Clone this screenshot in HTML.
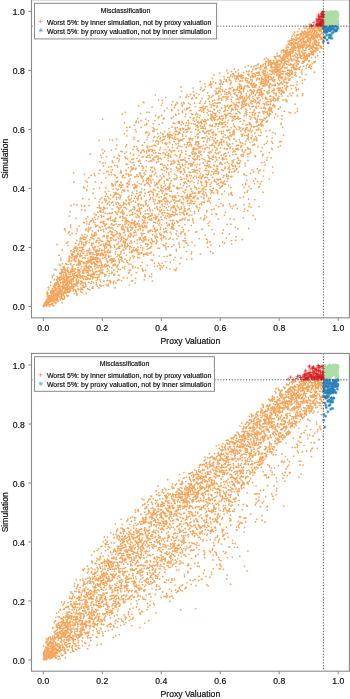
<!DOCTYPE html>
<html><head><meta charset="utf-8"><style>
html,body{margin:0;padding:0;background:#fff;width:350px;height:699px;overflow:hidden}
svg{display:block;will-change:transform}
.ax{font-family:"Liberation Sans",sans-serif;font-size:8.6px;fill:#111;stroke:#111;stroke-width:0.2px}
.lg{font-family:"Liberation Sans",sans-serif;font-size:7.0px;fill:#111;stroke:#111;stroke-width:0.18px}
</style></head><body>
<svg width="350" height="699" viewBox="0 0 350 699">
<path d="M145.4 211.2h0M60.1 272.8h0M165.4 185.2h0M213.6 132.3h0M133.4 258.0h0M109.2 273.6h0M186.1 122.8h0M60.4 288.5h0M172.2 223.0h0M73.5 276.3h0M177.9 221.6h0M304.4 60.7h0M209.5 153.1h0M55.8 283.3h0M147.0 252.9h0M195.5 159.2h0M310.5 29.0h0M129.8 127.2h0M313.7 36.2h0M268.5 63.9h0M120.5 172.6h0M209.4 221.8h0M93.9 238.9h0M292.4 40.3h0M239.1 163.7h0M80.8 281.0h0M307.9 56.9h0M183.9 247.2h0M222.3 127.0h0M150.0 219.8h0M112.5 232.4h0M221.3 139.4h0M239.3 81.1h0M56.9 296.8h0M107.8 196.3h0M223.7 142.0h0M102.4 149.7h0M191.4 253.9h0M284.3 111.2h0M75.4 290.0h0M142.0 262.4h0M106.0 247.8h0M101.1 254.9h0M57.8 277.6h0M193.0 163.8h0M289.8 74.4h0M105.0 208.2h0M225.9 114.5h0M273.0 132.5h0M317.5 44.7h0M182.6 112.4h0M64.7 287.2h0M70.6 227.1h0M50.7 299.9h0M158.5 200.7h0M167.2 256.4h0M279.6 76.0h0M170.1 187.2h0M260.3 183.9h0M294.3 68.5h0M103.7 231.6h0M295.3 74.4h0M148.5 231.1h0M194.3 171.4h0M183.0 231.5h0M179.7 247.2h0M181.8 152.3h0M198.3 193.1h0M299.5 29.1h0M239.1 129.5h0M210.6 83.6h0M167.5 225.5h0M220.6 89.1h0M250.9 76.4h0M65.8 290.2h0M232.8 148.6h0M186.7 186.9h0M274.6 81.6h0M202.4 185.5h0M297.5 95.9h0M181.1 171.7h0M46.3 306.0h0M209.6 101.8h0M268.7 115.4h0M52.9 297.3h0M227.1 144.2h0M133.5 154.4h0M72.1 233.3h0M71.5 282.8h0M250.0 116.4h0M107.3 251.4h0M234.8 116.6h0M84.5 174.4h0M196.8 93.0h0M196.7 189.2h0M95.4 235.3h0M247.7 91.3h0M178.2 134.1h0M139.6 210.8h0M282.2 58.7h0M124.8 190.6h0M269.8 79.4h0M276.5 62.9h0M273.8 104.3h0M252.3 114.9h0M173.8 229.0h0M151.5 218.7h0M155.8 231.8h0M208.4 172.6h0M297.2 35.6h0M183.7 132.0h0M70.1 283.0h0M204.0 188.5h0M270.0 111.1h0M110.7 195.1h0M90.3 260.3h0M188.5 142.2h0M233.9 91.0h0M132.8 209.0h0M167.9 155.4h0M181.2 196.7h0M201.0 146.4h0M121.6 206.5h0M73.1 279.4h0M79.2 262.8h0M84.7 237.3h0M319.8 29.5h0M52.9 300.3h0M253.6 85.3h0M253.0 106.0h0M271.4 67.0h0M44.1 305.8h0M74.2 252.1h0M207.6 92.6h0M313.5 53.3h0M164.3 170.8h0M194.8 176.1h0M245.3 144.0h0M118.9 209.3h0M240.6 85.0h0M191.8 258.9h0M263.0 125.7h0M124.7 266.4h0M198.5 141.9h0M140.2 237.9h0M200.0 102.9h0M179.3 157.5h0M51.3 291.0h0M171.3 201.3h0M243.1 128.3h0M258.1 89.9h0M264.6 74.8h0M268.3 65.4h0M66.2 285.3h0M58.3 278.5h0M135.0 230.4h0M234.3 126.2h0M84.4 276.3h0M212.9 253.2h0M176.0 143.8h0M270.0 101.7h0M306.2 68.1h0M187.6 129.2h0M225.0 167.2h0M180.3 128.9h0M239.5 102.5h0M247.4 124.5h0M175.1 131.3h0M86.6 228.9h0M135.9 224.3h0M269.3 152.6h0M47.1 302.4h0M191.6 98.6h0M62.7 299.2h0M243.1 106.7h0M66.9 292.2h0M141.4 252.8h0M51.7 294.6h0M227.0 181.3h0M54.8 285.6h0M248.0 78.5h0M192.4 151.7h0M191.2 189.0h0M136.2 176.6h0M198.7 209.8h0M159.5 202.8h0M119.4 248.2h0M293.9 44.5h0M267.5 92.6h0M69.3 216.1h0M127.8 231.2h0M238.0 163.3h0M238.3 117.0h0M202.5 202.0h0M214.6 100.0h0M284.2 59.6h0M92.4 269.1h0M150.7 247.4h0M47.9 294.9h0M138.3 225.8h0M217.1 179.0h0M275.4 62.8h0M93.2 243.0h0M305.7 60.4h0M218.0 173.8h0M304.9 34.6h0M220.1 110.3h0M241.4 97.6h0M194.4 95.8h0M164.6 157.3h0M103.5 229.5h0M80.1 255.7h0M171.6 214.6h0M252.4 85.9h0M148.2 150.0h0M198.4 146.5h0M140.3 195.1h0M190.1 142.5h0M227.9 73.0h0M192.9 149.0h0M216.9 148.8h0M48.5 299.3h0M91.9 259.5h0M76.9 204.9h0M257.8 77.9h0M147.4 244.0h0M73.3 259.7h0M112.3 184.2h0M88.9 252.3h0M120.2 257.2h0M320.5 36.5h0M276.7 75.2h0M247.5 147.8h0M203.8 194.1h0M236.5 89.4h0M277.5 99.3h0M269.5 114.6h0M262.1 77.0h0M127.1 130.6h0M312.9 52.1h0M175.3 214.4h0M291.1 95.7h0M140.4 214.0h0M297.3 95.0h0M296.1 38.0h0M63.6 293.5h0M115.8 218.4h0M224.0 175.3h0M94.0 249.5h0M239.2 102.1h0M44.6 304.3h0M216.2 123.7h0M189.7 198.5h0M287.8 86.3h0M62.6 281.3h0M244.6 97.7h0M292.5 43.4h0M253.9 73.4h0M233.7 89.3h0M272.5 90.5h0M257.3 91.0h0M207.8 247.1h0M67.5 271.1h0M44.6 303.7h0M120.0 185.5h0M260.6 90.8h0M274.8 71.8h0M177.9 161.2h0M292.7 49.2h0M206.9 106.5h0M282.8 83.7h0M82.3 277.4h0M109.0 275.8h0M193.3 147.8h0M91.8 243.3h0M287.9 96.2h0M273.7 60.7h0M296.3 62.1h0M254.6 138.8h0M185.4 181.8h0M97.3 262.7h0M114.8 247.0h0M230.6 94.8h0M65.7 292.0h0M190.2 104.3h0M308.6 31.7h0M50.1 300.7h0M294.3 68.8h0M118.5 241.9h0M313.2 34.1h0M263.9 120.0h0M129.4 204.7h0M283.0 71.1h0M240.9 93.0h0M106.7 224.0h0M50.9 304.4h0M136.1 250.2h0M103.4 285.5h0M75.8 272.3h0M144.1 240.4h0M309.6 43.8h0M99.5 261.4h0M319.9 37.1h0M106.4 200.2h0M43.7 306.0h0M295.2 60.2h0M116.7 182.4h0M250.8 100.6h0M62.8 283.8h0M227.6 122.7h0M316.0 49.3h0M273.0 63.4h0M78.6 245.1h0M51.0 295.6h0M228.5 113.3h0M301.5 46.9h0M91.2 220.6h0M125.4 220.1h0M68.9 276.8h0M171.9 228.2h0M119.8 184.7h0M208.4 198.0h0M166.7 152.0h0M309.8 43.7h0M56.2 298.0h0M103.1 153.2h0M169.6 255.4h0M290.7 74.7h0M128.6 224.6h0M204.5 126.2h0M49.3 306.3h0M101.1 208.4h0M288.4 61.3h0M204.5 165.3h0M267.7 93.4h0M148.4 240.5h0M103.7 207.2h0M153.7 222.2h0M148.0 231.0h0M184.1 178.6h0M151.7 274.0h0M294.5 55.1h0M197.5 207.5h0M162.6 122.8h0M316.7 45.1h0M302.1 69.7h0M168.8 206.6h0M109.0 174.6h0M92.7 236.2h0M232.3 208.3h0M319.0 27.8h0M75.1 275.8h0M143.3 176.5h0M289.9 59.7h0M106.3 258.8h0M85.1 268.3h0M201.3 87.7h0M268.6 80.4h0M89.0 199.4h0M103.4 254.4h0M218.9 88.0h0M273.7 92.8h0M136.4 249.0h0M163.6 152.6h0M286.9 56.0h0M137.4 223.4h0M292.2 49.4h0M55.4 293.9h0M243.4 101.5h0M88.6 227.7h0M56.6 293.0h0M296.2 76.1h0M120.0 198.7h0M81.9 255.8h0M275.1 93.4h0M289.1 65.2h0M128.9 196.2h0M270.7 63.3h0M309.1 41.5h0M312.0 54.5h0M176.7 221.0h0M140.1 229.3h0M252.1 73.5h0M322.9 27.5h0M122.9 267.4h0M55.3 283.0h0M201.1 196.9h0M311.5 37.2h0M114.1 281.3h0M240.0 118.5h0M184.6 183.2h0M267.3 111.8h0M124.9 224.4h0M89.3 242.3h0M313.1 53.7h0M173.2 212.0h0M261.8 77.4h0M209.9 189.3h0M54.2 287.3h0M68.9 232.6h0M258.0 75.6h0M322.6 29.4h0M189.1 215.5h0M295.1 55.5h0M126.0 170.8h0M271.8 74.3h0M82.7 249.4h0M298.4 89.2h0M186.2 147.2h0M293.4 67.2h0M256.1 68.6h0M143.5 156.5h0M182.1 219.8h0M226.9 176.7h0M60.5 286.6h0M169.4 138.8h0M256.6 79.0h0M61.8 277.1h0M98.6 277.2h0M264.0 82.7h0M104.5 265.0h0M290.9 40.5h0M244.9 163.6h0M194.0 149.5h0M155.9 157.2h0M113.9 264.8h0M264.9 73.7h0M132.3 251.9h0M252.2 135.8h0M73.9 264.6h0M243.9 152.2h0M100.4 281.5h0M127.0 164.4h0M249.9 142.3h0M65.3 284.8h0M127.0 127.4h0M50.3 296.1h0M126.0 200.0h0M283.3 73.3h0M109.3 213.0h0M84.6 205.7h0M226.3 155.8h0M300.9 33.5h0M194.6 103.1h0M112.1 238.4h0M151.6 243.7h0M89.4 260.1h0M56.1 284.2h0M269.3 92.4h0M168.4 224.6h0M219.8 73.0h0M149.2 219.4h0M147.9 255.1h0M47.0 299.6h0M73.6 290.3h0M193.7 198.3h0M286.5 85.9h0M274.9 105.9h0M265.9 130.9h0M244.4 102.4h0M128.8 176.0h0M275.6 56.7h0M86.1 276.8h0M73.8 277.5h0M189.8 196.4h0M301.8 72.1h0M168.7 153.9h0M105.2 266.5h0M78.0 252.0h0M95.2 257.9h0M306.7 47.4h0M234.2 93.3h0M228.2 96.6h0M171.7 109.7h0M46.1 305.0h0M274.5 106.6h0M272.9 99.8h0M75.6 248.7h0M227.6 126.5h0M177.7 134.3h0M171.9 226.6h0M241.4 94.2h0M167.8 201.0h0M68.3 272.6h0M51.9 297.1h0M269.0 64.0h0M148.8 248.3h0M215.5 157.4h0M223.2 206.1h0M94.5 273.7h0M94.2 259.1h0M272.0 85.4h0M109.5 241.5h0M265.8 84.5h0M70.5 289.0h0M51.3 293.0h0M266.4 76.6h0M65.3 292.7h0M282.9 99.9h0M163.1 165.1h0M189.3 186.2h0M245.8 184.5h0M85.7 265.8h0M294.1 67.2h0M251.9 169.8h0M280.6 72.1h0M278.8 87.8h0M277.1 70.2h0M155.5 115.7h0M61.7 286.7h0M107.7 237.8h0M240.7 127.8h0M46.5 300.6h0M321.4 31.7h0M129.9 246.8h0M288.9 70.1h0M310.4 64.5h0M306.9 57.5h0M295.4 40.6h0M86.9 241.1h0M135.8 227.1h0M236.8 118.6h0M272.0 62.8h0M115.9 192.7h0M74.2 286.4h0M199.4 193.1h0M130.1 227.2h0M98.6 230.2h0M109.9 230.9h0M123.3 232.8h0M150.6 169.9h0M51.1 292.6h0M217.7 171.6h0M310.9 37.8h0M304.0 38.9h0M106.0 243.0h0M214.6 120.2h0M204.3 124.8h0M129.3 184.0h0M280.3 145.7h0M245.0 86.0h0M193.1 88.0h0M221.4 133.3h0M158.4 161.6h0M171.0 169.0h0M293.3 34.0h0M123.0 216.0h0M283.2 91.1h0M53.5 292.5h0M190.4 172.5h0M188.7 128.5h0M159.7 223.0h0M98.6 242.9h0M134.9 208.8h0M267.1 84.7h0M96.8 240.4h0M179.5 171.5h0M130.8 241.4h0M218.0 99.8h0M103.0 236.5h0M96.6 255.7h0M76.5 280.8h0M237.5 157.9h0M230.9 176.4h0M121.8 192.1h0M232.8 108.8h0M58.8 287.6h0M180.6 154.4h0M162.2 263.2h0M45.4 303.5h0M103.2 211.9h0M242.8 134.2h0M124.8 177.5h0M45.0 305.4h0M240.9 131.2h0M247.8 210.7h0M102.8 270.0h0M206.8 196.0h0M212.7 143.8h0M298.8 48.3h0M244.1 211.3h0M178.1 160.2h0M211.8 119.4h0M144.1 239.2h0M173.6 225.2h0M314.9 27.5h0M119.5 261.5h0M213.9 192.8h0M152.7 130.8h0M321.2 30.1h0M135.4 129.6h0M122.1 177.0h0M65.9 270.5h0M246.1 125.0h0M81.3 241.1h0M255.0 102.2h0M144.1 172.9h0M315.5 51.6h0M241.3 86.5h0M305.1 37.4h0M286.7 45.6h0M188.9 158.6h0M137.3 243.3h0M58.0 288.3h0M125.8 226.8h0M270.1 61.7h0M255.5 68.8h0M102.4 250.7h0M237.8 109.3h0M94.1 213.6h0M289.6 44.9h0M289.7 93.8h0M232.5 76.7h0M251.4 93.9h0M218.5 123.8h0M296.4 90.8h0M276.6 67.0h0M202.0 189.9h0M300.3 33.4h0M59.8 285.9h0M69.1 281.9h0M303.1 53.9h0M269.9 84.6h0M139.4 208.2h0M164.2 139.2h0M128.7 221.8h0M57.0 280.2h0M67.7 288.6h0M147.3 210.0h0M210.0 151.5h0M99.6 207.3h0M67.8 291.7h0M290.2 64.9h0M128.0 190.7h0M171.0 161.1h0M111.7 267.7h0M55.7 287.6h0M147.6 206.2h0M72.7 268.8h0M302.4 83.1h0M145.3 217.2h0M73.7 284.0h0M172.3 214.9h0M182.4 110.9h0M161.9 219.6h0M101.8 216.4h0M249.1 131.0h0M299.0 50.3h0M174.4 162.1h0M200.0 115.6h0M234.9 107.3h0M113.9 235.3h0M76.2 280.1h0M303.6 66.2h0M297.8 47.0h0M69.4 231.5h0M317.0 32.6h0M89.4 248.6h0M314.3 43.2h0M272.3 63.5h0M104.6 151.0h0M277.7 63.1h0M273.5 85.0h0M312.2 63.7h0M65.7 272.3h0M253.0 69.8h0M105.6 187.9h0M185.1 190.2h0M153.6 225.6h0M215.3 161.5h0M83.7 271.6h0M153.4 123.8h0M127.9 182.8h0M91.0 274.7h0M67.0 295.2h0M290.9 42.7h0M302.2 51.2h0M254.2 110.1h0M245.4 109.2h0M95.1 247.0h0M239.9 91.7h0M284.2 85.8h0M170.7 254.5h0M115.3 254.0h0M153.2 194.4h0M294.6 32.5h0M83.4 253.3h0M56.7 295.5h0M322.2 28.1h0M195.7 232.0h0M45.2 304.0h0M152.8 149.9h0M179.1 225.7h0M110.3 199.3h0M273.3 100.4h0M47.7 303.6h0M195.2 152.3h0M178.2 143.6h0M101.9 221.5h0M237.6 87.5h0M49.2 296.5h0M63.2 267.2h0M74.4 273.5h0M244.3 88.2h0M238.5 79.1h0M305.5 41.4h0M255.9 87.1h0M154.1 145.2h0M186.0 151.4h0M241.1 154.8h0M75.7 291.1h0M310.4 54.6h0M195.6 195.7h0M97.9 240.6h0M299.2 54.0h0M58.9 292.2h0M205.7 106.9h0M97.0 267.4h0M108.0 244.8h0M63.9 288.5h0M178.7 113.7h0M84.1 269.9h0M78.1 272.2h0M191.7 152.5h0M203.7 112.2h0M252.2 112.6h0M236.2 104.8h0M115.2 211.5h0M193.8 161.9h0M290.7 58.0h0M234.8 90.2h0M141.6 188.8h0M111.8 273.5h0M92.1 236.1h0M279.7 141.5h0M177.1 177.5h0M107.9 261.6h0M59.4 293.4h0M299.5 52.0h0M151.1 149.5h0M300.8 45.5h0M207.5 130.9h0M226.0 96.7h0M128.3 203.0h0M75.1 272.6h0M163.2 190.9h0M266.2 97.8h0M139.2 238.0h0M208.9 200.1h0M113.5 235.9h0M114.1 192.5h0M66.8 274.1h0M247.4 154.2h0M267.9 92.1h0M203.4 141.7h0M176.3 210.5h0M261.4 90.4h0M124.4 153.5h0M243.5 77.5h0M304.4 33.3h0M314.3 72.0h0M187.2 94.6h0M302.1 38.1h0M70.1 211.5h0M245.1 150.5h0M281.9 96.0h0M76.3 233.6h0M314.7 72.3h0M54.8 294.8h0M155.7 230.7h0M199.2 110.6h0M122.2 246.0h0M86.7 189.7h0M230.8 224.2h0M227.8 136.8h0M182.1 122.2h0M310.9 40.6h0M111.9 234.1h0M148.2 244.7h0M278.3 90.6h0M145.9 170.7h0M93.7 235.5h0M83.1 285.2h0M122.6 220.5h0M290.7 64.4h0M245.7 80.3h0M137.9 141.2h0M244.6 174.9h0M87.8 275.0h0M65.1 270.8h0M241.0 88.6h0M156.0 173.4h0M206.4 185.3h0M280.5 63.8h0M259.1 68.0h0M75.6 291.6h0M69.8 276.8h0M105.0 251.5h0M75.0 277.8h0M176.4 131.1h0M163.4 237.7h0M105.2 252.2h0M70.8 251.3h0M150.8 253.0h0M275.7 113.8h0M234.5 132.7h0M70.3 289.4h0M141.3 197.7h0M43.4 306.4h0M283.8 64.0h0M213.1 95.7h0M225.0 163.1h0M225.6 184.2h0M84.9 234.8h0M277.9 88.4h0M284.5 51.4h0M67.3 269.4h0M203.8 219.9h0M276.0 93.5h0M169.9 191.2h0M177.8 222.4h0M221.3 116.0h0M276.9 67.8h0M137.0 158.2h0M279.3 84.6h0M300.1 48.6h0M252.3 91.2h0M231.3 127.7h0M137.4 224.1h0M104.5 246.5h0M62.4 250.2h0M63.8 295.5h0M299.3 51.8h0M166.8 168.9h0M126.7 183.8h0M207.2 243.2h0M167.2 135.0h0M59.5 296.6h0M284.0 92.0h0M43.3 306.4h0M183.3 213.0h0M64.8 270.4h0M58.0 301.1h0M206.2 165.5h0M183.3 123.6h0M141.5 225.4h0M223.0 205.2h0M134.4 209.6h0M180.5 184.1h0M251.1 188.6h0M303.4 38.4h0M234.3 134.6h0M159.6 265.1h0M128.5 273.1h0M307.7 32.6h0M256.7 103.4h0M297.0 57.2h0M252.4 73.9h0M156.9 206.8h0M105.3 196.1h0M309.4 45.8h0M212.1 120.6h0M225.4 109.8h0M132.9 266.2h0M146.3 131.9h0M266.9 99.1h0M242.5 96.3h0M229.7 139.8h0M168.3 246.6h0M76.7 282.2h0M122.0 244.9h0M232.0 176.3h0M50.8 296.6h0M132.6 251.5h0M206.9 136.0h0M145.5 222.8h0M317.5 35.7h0M281.7 89.5h0M283.5 92.9h0M212.6 177.4h0M313.0 29.8h0M104.6 257.6h0M132.1 220.1h0M202.3 193.5h0M261.6 125.9h0M301.3 42.5h0M274.0 80.9h0M166.6 267.7h0M232.0 97.1h0M189.2 171.9h0M188.4 181.4h0M65.1 276.4h0M230.1 148.0h0M196.0 142.9h0M309.1 37.8h0M207.9 138.3h0M163.0 244.5h0M198.7 143.9h0M96.9 271.7h0M135.5 202.2h0M106.7 156.5h0M163.3 118.9h0M180.4 139.6h0M169.7 269.0h0M64.1 288.9h0M70.9 270.3h0M160.5 210.6h0M311.4 68.7h0M96.7 250.7h0M90.9 276.6h0M158.8 263.4h0M256.2 129.9h0M170.3 262.4h0M47.1 300.2h0M206.2 174.1h0M185.1 164.7h0M319.5 30.5h0M171.7 135.2h0M222.5 90.0h0M129.7 259.9h0M276.2 94.9h0M245.7 132.1h0M318.7 30.1h0M72.8 271.3h0M108.2 227.9h0M151.2 176.5h0M298.0 42.4h0M90.4 237.3h0M263.0 154.2h0M275.3 133.7h0M262.2 88.3h0M237.1 95.1h0M223.5 131.2h0M60.9 277.0h0M217.1 140.6h0M264.4 90.5h0M316.8 41.3h0M257.7 181.7h0M232.1 116.9h0M253.4 100.5h0M48.1 304.3h0M126.1 164.0h0M67.3 287.7h0M59.1 277.8h0M107.5 262.5h0M287.8 86.7h0M104.1 249.9h0M289.1 112.0h0M91.5 244.7h0M112.2 169.9h0M290.8 56.3h0M92.5 230.9h0M302.9 37.0h0M136.7 217.6h0M62.4 269.3h0M250.1 123.1h0M62.4 297.7h0M51.8 296.5h0M313.9 47.3h0M50.6 301.6h0M140.8 153.1h0M287.9 82.6h0M282.2 71.2h0M210.8 167.3h0M281.4 82.2h0M227.1 106.3h0M191.4 146.0h0M124.5 230.5h0M242.3 239.5h0M186.5 147.4h0M214.2 234.1h0M266.6 68.3h0M59.9 284.5h0M110.8 247.7h0M185.5 116.5h0M93.8 248.9h0M217.2 105.9h0M80.5 264.2h0M138.6 150.7h0M303.3 39.9h0M161.8 213.6h0M278.1 147.1h0M51.2 291.0h0M289.5 51.8h0M205.4 148.1h0M145.5 253.8h0M192.5 98.4h0M112.3 161.0h0M235.3 227.0h0M310.6 51.1h0M251.0 207.2h0M268.8 62.1h0M228.8 176.4h0M232.7 134.8h0M131.6 275.0h0M47.0 296.0h0M50.8 282.1h0M173.1 150.9h0M184.7 171.8h0M55.2 294.3h0M74.0 289.3h0M89.1 205.5h0M186.3 198.5h0M74.9 256.5h0M317.4 48.0h0M180.3 154.9h0M314.8 40.9h0M299.9 77.1h0M203.9 159.6h0M204.9 83.7h0M52.2 277.5h0M158.6 136.3h0M71.3 281.1h0M221.4 141.8h0M167.7 210.2h0M221.8 141.0h0M256.1 126.6h0M190.7 164.5h0M182.4 227.5h0M78.3 264.9h0M189.1 155.8h0M116.4 194.2h0M237.8 75.6h0M100.7 260.8h0M143.9 102.6h0M131.4 169.8h0M178.6 150.8h0M144.7 125.0h0M114.9 230.4h0M156.3 230.4h0M233.9 159.8h0M185.0 158.0h0M180.9 219.9h0M263.7 73.6h0M113.6 205.0h0M127.4 238.5h0M81.7 255.8h0M236.5 149.1h0M100.9 212.0h0M68.6 286.2h0M61.8 278.4h0M222.3 120.0h0M286.1 56.7h0M142.7 230.6h0M221.0 82.8h0M235.7 166.8h0M45.9 302.3h0M311.1 34.4h0M152.6 234.5h0M140.6 113.6h0M96.4 226.1h0M202.6 188.8h0M215.1 126.6h0M316.4 33.9h0M139.8 210.9h0M157.5 137.9h0M215.1 134.0h0M168.6 154.1h0M58.5 288.8h0M131.7 252.3h0M183.6 213.1h0M224.1 96.8h0M239.4 90.3h0M165.9 154.7h0M126.3 223.6h0M122.1 228.3h0M187.7 203.3h0M217.4 140.8h0M247.1 127.5h0M211.1 116.1h0M294.4 75.0h0M76.0 218.3h0M194.9 160.0h0M146.5 160.6h0M219.6 164.2h0M120.8 170.6h0M163.4 235.6h0M56.6 279.8h0M181.7 179.1h0M317.6 55.6h0M204.2 187.0h0M50.1 300.4h0M237.3 77.4h0M186.4 176.0h0M139.2 223.9h0M173.8 163.4h0M154.6 136.5h0M149.4 207.9h0M154.4 266.6h0M203.2 188.7h0M210.6 118.5h0M68.5 233.1h0M245.4 166.0h0M313.6 52.2h0M282.8 50.5h0M158.1 144.2h0M52.5 291.8h0M183.0 240.5h0M170.5 155.5h0M299.7 67.6h0M288.2 44.1h0M137.9 246.9h0M211.5 105.1h0M249.1 87.1h0M239.5 166.7h0M156.6 162.1h0M186.3 179.0h0M237.1 96.0h0M219.4 84.1h0M160.0 138.7h0M47.4 300.3h0M98.4 216.5h0M73.9 182.2h0M146.2 200.6h0M133.3 249.8h0M279.6 84.2h0M194.9 245.5h0M234.7 76.8h0M156.0 146.1h0M284.8 55.3h0M206.5 194.7h0M83.2 282.9h0M144.8 274.9h0M174.3 197.4h0M129.2 270.1h0M317.9 26.7h0M62.0 289.8h0M250.1 130.4h0M259.8 92.5h0M245.8 183.0h0M246.8 127.9h0M108.3 250.2h0M301.9 31.2h0M290.9 85.5h0M112.6 212.7h0M263.4 86.2h0M59.6 280.6h0M179.8 212.3h0M112.5 201.8h0M225.2 124.8h0M149.0 151.2h0M89.6 222.1h0M143.1 181.6h0M213.2 133.0h0M140.0 226.4h0M112.6 234.8h0M314.8 47.9h0M286.8 64.3h0M141.9 253.4h0M175.5 195.8h0M284.4 71.5h0M144.9 174.7h0M156.7 162.5h0M232.9 152.1h0M280.4 77.6h0M294.3 35.4h0M209.0 157.5h0M267.0 77.3h0M56.5 289.2h0M187.9 125.4h0M129.5 211.0h0M319.2 27.0h0M93.4 282.6h0M247.0 86.6h0M190.8 188.6h0M68.0 264.5h0M285.0 71.0h0M118.2 189.1h0M128.8 184.5h0M137.6 181.8h0M253.2 92.6h0M249.4 148.8h0M283.9 65.3h0M175.0 105.6h0M232.7 148.9h0M268.8 82.5h0M293.7 68.7h0M200.1 107.4h0M277.9 69.6h0M78.0 271.4h0M258.5 112.6h0M66.5 285.0h0M161.4 238.1h0M254.4 83.4h0M107.9 265.6h0M107.8 285.8h0M67.9 245.6h0M179.4 123.2h0M89.9 250.1h0M136.9 251.7h0M240.4 95.9h0M186.6 214.4h0M98.0 238.1h0M262.8 111.9h0M160.3 158.2h0M192.0 165.8h0M145.2 226.6h0M216.4 153.8h0M177.6 187.3h0M173.4 123.0h0M72.7 285.8h0M192.7 114.6h0M92.3 278.2h0M207.2 112.8h0M125.7 248.8h0M69.7 260.1h0M290.5 112.9h0M262.0 125.6h0M299.1 44.6h0M256.0 65.7h0M262.8 98.0h0M211.9 171.7h0M99.3 250.6h0M258.2 89.0h0M259.2 103.6h0M155.1 190.3h0M74.4 248.2h0M174.1 186.1h0M152.7 171.2h0M218.7 179.3h0M61.7 294.4h0M106.9 265.0h0M100.5 267.7h0M62.3 285.8h0M185.7 240.6h0M291.2 59.0h0M78.5 270.1h0M61.7 273.2h0M248.9 74.2h0M290.1 78.7h0M231.7 114.0h0M67.7 280.0h0M108.6 241.0h0M177.9 222.4h0M196.3 167.0h0M205.3 128.9h0M314.4 62.4h0M110.1 252.6h0M63.5 276.4h0M152.1 107.0h0M177.3 205.5h0M115.9 203.0h0M246.3 93.6h0M62.0 282.9h0M161.7 240.1h0M98.2 261.9h0M299.7 44.0h0M72.9 256.0h0M85.2 239.6h0M216.3 189.8h0M165.7 215.9h0M171.1 216.6h0M259.4 73.8h0M120.7 205.3h0M58.6 295.0h0M130.5 153.3h0M319.5 34.9h0M199.1 238.7h0M69.0 257.9h0M107.9 203.5h0M162.0 213.2h0M55.0 301.1h0M178.9 242.7h0M284.3 50.7h0M292.2 51.3h0M71.8 268.0h0M225.4 156.6h0M259.6 102.4h0M193.3 120.3h0M281.9 78.3h0M71.3 276.7h0M215.2 138.4h0M90.0 278.5h0M151.2 182.8h0M45.6 304.0h0M125.6 220.8h0M304.6 45.8h0M304.5 52.7h0M213.5 117.4h0M285.1 50.8h0M266.3 57.9h0M75.8 246.9h0M171.1 180.7h0M268.4 76.7h0M238.1 70.0h0M125.0 244.3h0M143.9 254.2h0M179.9 156.4h0M117.8 226.4h0M314.0 41.0h0M89.1 269.3h0M73.8 204.1h0M117.4 233.0h0M198.1 126.9h0M204.3 89.7h0M177.7 189.1h0M113.7 239.9h0M82.4 258.0h0M303.6 41.8h0M72.2 253.4h0M164.8 165.3h0M275.1 84.1h0M59.0 286.8h0M315.2 31.2h0M231.6 105.0h0M82.2 277.2h0M146.2 157.2h0M119.7 156.1h0M163.0 134.2h0M162.6 188.3h0M271.6 66.9h0M45.7 304.6h0M91.0 227.6h0M260.8 65.6h0M200.4 151.9h0M274.1 67.3h0M263.3 103.4h0M315.7 37.4h0M265.0 107.8h0M166.6 218.6h0M75.4 257.5h0M199.9 175.9h0M302.0 74.2h0M241.9 156.3h0M60.1 293.9h0M154.5 129.3h0M223.0 96.7h0M53.6 305.9h0M235.8 109.5h0M311.4 46.9h0M238.6 73.2h0M309.3 60.7h0M192.0 242.1h0M319.2 27.4h0M113.0 220.2h0M273.2 73.0h0M80.1 255.1h0M142.6 204.8h0M174.0 138.9h0M268.7 61.0h0M305.0 33.3h0M133.9 247.8h0M223.9 141.0h0M194.7 121.3h0M137.8 215.6h0M76.3 247.1h0M209.2 84.8h0M308.3 35.9h0M79.9 272.0h0M308.1 37.9h0M251.2 66.5h0M81.9 251.1h0M142.9 247.9h0M60.7 258.0h0M262.7 111.3h0M271.5 77.3h0M176.8 268.0h0M182.8 218.4h0M205.5 181.7h0M210.4 251.6h0M315.8 40.3h0M46.2 304.9h0M300.6 41.0h0M175.9 201.4h0M87.2 182.3h0M205.5 161.0h0M214.7 145.9h0M279.1 75.2h0M62.1 302.7h0M130.4 236.0h0M144.4 142.3h0M236.7 169.7h0M143.6 222.3h0M312.8 52.4h0M50.2 300.8h0M143.0 230.1h0M278.5 67.4h0M260.5 67.2h0M232.5 143.5h0M229.9 106.4h0M287.0 49.8h0M201.4 178.4h0M320.3 47.7h0M154.3 229.0h0M45.8 303.6h0M56.8 294.2h0M65.6 281.2h0M76.2 284.7h0M161.0 189.3h0M275.0 100.8h0M92.1 246.1h0M308.0 44.5h0M255.3 219.1h0M60.8 291.9h0M209.8 104.1h0M148.9 178.2h0M101.9 197.9h0M140.7 247.6h0M184.9 233.4h0M168.2 189.4h0M187.8 200.4h0M171.5 152.0h0M261.3 124.4h0M125.3 239.4h0M221.6 100.1h0M129.0 264.0h0M219.9 151.9h0M261.7 79.3h0M87.7 275.3h0M287.3 64.6h0M189.4 203.1h0M143.4 168.2h0M307.5 64.2h0M321.4 46.7h0M43.6 306.1h0M67.4 290.4h0M255.4 178.6h0M192.3 165.4h0M104.4 199.9h0M172.6 224.6h0M45.8 301.7h0M316.4 42.2h0M277.1 62.6h0M83.6 287.2h0M177.4 148.2h0M88.0 230.8h0M63.3 279.2h0M44.0 305.7h0M123.0 218.2h0M310.1 35.0h0M211.4 87.3h0M48.3 304.7h0M132.8 185.1h0M118.9 160.9h0M306.6 34.8h0M267.0 92.2h0M115.5 265.2h0M270.4 103.9h0M101.7 253.2h0M152.1 151.4h0M53.1 293.5h0M114.2 258.9h0M228.9 137.4h0M211.1 190.5h0M141.3 152.2h0M317.5 28.3h0M77.0 228.7h0M94.2 254.6h0M51.4 300.5h0M220.7 118.8h0M133.6 168.6h0M285.4 51.1h0M93.9 274.5h0M57.5 284.1h0M160.1 207.1h0M87.4 250.9h0M196.1 141.6h0M159.2 180.2h0M262.6 79.1h0M177.5 214.6h0M258.9 206.6h0M130.2 178.9h0M135.1 283.1h0M279.5 69.2h0M109.5 252.0h0M111.6 260.7h0M170.5 209.8h0M264.2 162.3h0M79.5 256.2h0M209.3 201.1h0M264.6 68.4h0M237.8 88.5h0M165.5 142.8h0M59.3 264.3h0M181.6 203.4h0M300.3 36.1h0M317.3 37.6h0M102.2 265.5h0M292.1 71.3h0M296.7 66.0h0M68.8 286.4h0M303.7 62.4h0M207.1 142.2h0M278.7 98.3h0M250.0 90.2h0M117.2 271.5h0M118.0 211.9h0M218.3 219.2h0M225.6 106.0h0M77.7 248.6h0M238.9 99.5h0M207.0 210.5h0M131.0 264.3h0M282.7 66.9h0M300.9 35.9h0M194.6 186.3h0M143.8 168.1h0M100.0 161.5h0M190.3 142.4h0M266.8 104.7h0M152.0 155.1h0M50.5 295.7h0M275.6 72.4h0M267.3 82.6h0M71.1 205.7h0M180.7 130.1h0M230.4 147.0h0M269.0 60.8h0M217.6 103.3h0M261.6 82.4h0M255.7 106.8h0M57.6 281.6h0M55.5 298.3h0M273.5 104.7h0M291.4 72.7h0M203.9 137.7h0M240.4 98.4h0M94.3 258.3h0M80.7 261.1h0M163.5 245.7h0M263.5 108.0h0M214.0 74.9h0M118.1 237.7h0M124.0 191.0h0M190.6 178.0h0M64.2 289.2h0M278.9 72.5h0M210.5 193.3h0M127.6 187.2h0M181.1 202.0h0M103.9 221.4h0M133.0 159.4h0M309.5 38.7h0M133.1 149.3h0M143.2 271.1h0M177.3 127.7h0M107.7 280.5h0M260.8 69.2h0M185.2 235.0h0M202.2 176.9h0M262.5 94.4h0M125.5 243.6h0M254.9 86.2h0M228.4 137.8h0M261.7 78.9h0M44.0 305.3h0M305.6 59.9h0M72.5 287.1h0M113.8 195.7h0M48.6 297.8h0M134.6 209.2h0M173.3 185.7h0M132.4 228.6h0M315.1 40.2h0M90.0 239.9h0M167.3 193.8h0M202.3 137.6h0M54.6 293.1h0M304.2 28.3h0M258.9 97.7h0M168.7 186.9h0M121.2 238.3h0M79.4 270.5h0M203.0 110.0h0M233.0 168.7h0M55.7 295.9h0M80.5 277.8h0M226.9 81.4h0M206.4 182.9h0M270.3 99.0h0M300.7 33.7h0M46.0 302.2h0M158.7 219.3h0M155.3 199.8h0M190.4 166.1h0M58.4 285.4h0M279.6 80.5h0M96.3 282.7h0M100.1 255.6h0M156.8 156.2h0M240.5 80.7h0M106.6 171.7h0M101.8 265.2h0M283.5 59.1h0M114.2 245.2h0M187.9 245.3h0M170.9 151.1h0M58.9 285.3h0M267.7 73.1h0M99.4 205.4h0M127.9 190.2h0M130.8 234.7h0M257.0 68.2h0M209.1 148.1h0M206.6 184.9h0M46.2 304.1h0M200.2 81.4h0M309.5 28.2h0M78.8 275.6h0M288.7 52.8h0M244.8 104.0h0M233.6 130.2h0M176.2 214.0h0M73.1 287.7h0M132.7 212.7h0M172.9 228.8h0M57.2 276.5h0M135.1 221.7h0M97.0 274.5h0M92.8 271.0h0M323.4 39.1h0M316.3 41.2h0M205.0 103.2h0M252.9 77.5h0M85.8 284.8h0M203.9 109.7h0M173.9 205.6h0M229.2 91.4h0M242.4 81.2h0M116.5 177.7h0M123.2 205.0h0M67.6 267.8h0M162.3 100.3h0M251.5 83.1h0M295.6 68.4h0M279.3 60.0h0M172.5 147.4h0M286.9 56.4h0M278.2 69.9h0M98.8 250.8h0M145.8 243.6h0M226.9 114.4h0M185.9 189.8h0M96.6 234.9h0M214.3 181.1h0M82.4 285.0h0M111.2 172.2h0M105.4 163.0h0M223.5 170.5h0M81.6 266.5h0M106.6 246.8h0M224.1 159.1h0M274.2 56.6h0M125.7 241.3h0M46.6 301.3h0M236.0 154.0h0M302.7 47.5h0M73.0 271.2h0M68.5 278.0h0M79.8 264.7h0M276.2 69.0h0M147.2 246.3h0M265.3 97.2h0M266.2 122.2h0M139.6 239.2h0M260.5 135.5h0M158.9 225.0h0M138.0 249.4h0M220.4 84.0h0M197.5 141.9h0M134.4 222.5h0M110.7 216.9h0M235.5 105.7h0M164.2 118.4h0M193.0 138.5h0M288.6 55.0h0M285.5 51.8h0M265.9 75.8h0M202.9 90.9h0M308.9 53.5h0M193.0 197.8h0M63.5 274.7h0M43.9 306.1h0M59.6 278.7h0M222.9 159.7h0M319.6 31.6h0M151.4 252.2h0M74.6 259.9h0M196.2 206.3h0M265.7 83.5h0M176.8 102.3h0M310.3 39.4h0M229.5 203.9h0M238.7 160.1h0M297.9 51.0h0M68.7 281.4h0M243.7 91.2h0M136.4 272.7h0M74.0 283.9h0M153.8 189.0h0M115.5 217.6h0M75.6 248.7h0M192.2 165.7h0M212.2 111.6h0M201.2 122.6h0M68.2 271.2h0M230.3 84.4h0M126.4 208.9h0M270.9 100.1h0M303.9 62.3h0M57.9 286.5h0M303.9 54.1h0M258.3 72.6h0M66.4 277.5h0M119.8 256.6h0M153.7 128.8h0M140.3 173.1h0M55.8 290.6h0M181.1 86.9h0M61.2 298.2h0M129.9 215.1h0M314.6 62.2h0M257.1 120.7h0M84.2 266.8h0M287.6 49.7h0M276.7 71.4h0M132.2 162.8h0M273.2 96.9h0M143.0 241.6h0M176.6 155.9h0M193.5 162.3h0M121.6 229.3h0M251.7 117.8h0M264.9 111.9h0M279.9 83.9h0M209.6 140.4h0M168.5 173.0h0M69.4 290.7h0M82.7 247.8h0M76.7 294.9h0M193.9 198.4h0M127.2 186.2h0M203.3 128.0h0M252.5 130.5h0M47.6 298.6h0M297.4 45.0h0M301.3 35.0h0M241.8 105.2h0M270.2 76.7h0M148.9 239.8h0M297.4 35.1h0M285.8 57.6h0M110.5 220.4h0M260.2 89.7h0M72.1 284.3h0M293.9 46.7h0M283.3 63.6h0M308.7 61.4h0M141.6 199.0h0M216.0 173.4h0M64.8 268.7h0M248.2 136.2h0M234.1 219.3h0M137.7 250.4h0M80.3 254.1h0M54.4 300.4h0M176.9 231.1h0M114.6 245.8h0M169.3 142.0h0M252.8 96.4h0M250.6 128.8h0M113.4 185.9h0M189.9 181.5h0M94.9 263.6h0M44.3 306.1h0M188.6 145.9h0M138.8 216.8h0M111.5 213.4h0M64.3 296.3h0M207.7 241.6h0M202.2 119.9h0M291.3 44.3h0M86.1 286.3h0M275.8 100.1h0M92.9 286.8h0M195.0 154.8h0M246.6 110.2h0M140.7 163.3h0M84.7 268.7h0M105.2 225.2h0M241.6 77.8h0M81.2 247.3h0M294.7 69.6h0M248.1 65.8h0M174.2 269.6h0M203.0 175.2h0M109.5 266.7h0M219.9 122.4h0M175.7 104.6h0M276.8 64.8h0M72.7 275.3h0M261.0 119.6h0M116.9 256.3h0M59.7 288.2h0M162.1 163.9h0M254.4 183.7h0M182.5 165.4h0M68.3 289.1h0M312.3 31.8h0M299.3 46.1h0M244.4 101.6h0M305.5 50.2h0M239.2 139.6h0M219.1 90.5h0M225.2 107.6h0M105.3 191.9h0M55.1 286.9h0M290.6 51.5h0M242.9 154.5h0M144.4 151.5h0M82.2 292.5h0M97.9 218.5h0M112.9 225.0h0M266.0 67.8h0M299.1 53.6h0M80.2 239.0h0M226.4 238.0h0M296.5 35.8h0M275.0 57.9h0M205.9 177.2h0M71.7 281.2h0M291.1 48.8h0M145.7 238.8h0M99.5 274.5h0M289.8 49.8h0M249.7 106.2h0M61.1 293.4h0M64.5 229.2h0M309.6 65.5h0M224.0 76.5h0M88.2 289.3h0M246.8 135.3h0M272.3 72.4h0M88.5 266.6h0M92.3 288.1h0M121.2 172.7h0M213.3 139.9h0M296.2 68.9h0M185.3 211.0h0M139.6 226.2h0M176.9 167.9h0M108.7 218.7h0M110.4 237.9h0M256.4 106.3h0M301.7 34.7h0M134.8 220.9h0M164.6 131.3h0M95.1 268.8h0M168.5 224.1h0M208.6 95.5h0M174.7 223.1h0M180.2 96.9h0M198.2 198.8h0M178.2 236.0h0M95.9 252.2h0M131.0 166.7h0M75.4 268.9h0M300.2 56.8h0M74.5 258.7h0M123.2 205.1h0M104.7 276.2h0M287.2 61.2h0M146.9 146.8h0M123.7 238.3h0M102.6 253.5h0M316.9 32.2h0M176.1 233.7h0M62.9 299.0h0M118.6 208.7h0M225.7 89.5h0M204.0 198.8h0M298.4 41.7h0M80.8 289.7h0M250.5 89.6h0M232.0 121.0h0M315.7 35.9h0M133.9 232.7h0M182.7 159.5h0M257.9 72.9h0M183.3 198.3h0M246.3 95.8h0M188.5 122.4h0M114.6 260.9h0M253.3 101.2h0M263.4 83.5h0M287.2 101.2h0M210.7 81.9h0M124.1 218.2h0M84.0 251.4h0M273.6 77.1h0M103.6 245.7h0M114.7 165.6h0M199.5 110.7h0M69.2 260.0h0M229.3 143.9h0M224.8 168.5h0M67.8 285.5h0M304.8 79.6h0M98.9 265.5h0M233.3 118.3h0M137.5 210.3h0M276.8 69.3h0M153.0 150.6h0M180.9 167.7h0M114.4 260.6h0M307.6 41.1h0M297.0 64.1h0M110.8 256.1h0M65.6 263.6h0M122.3 151.8h0M296.1 50.0h0M195.0 165.1h0M110.6 246.7h0M150.7 160.9h0M311.2 48.0h0M89.2 224.2h0M105.5 257.0h0M311.2 53.1h0M111.0 237.8h0M169.0 136.2h0M236.9 105.6h0M158.1 187.7h0M208.7 156.9h0M107.2 280.7h0M205.2 137.8h0M55.7 283.7h0M315.8 31.4h0M70.4 274.4h0M100.3 272.9h0M210.9 245.0h0M117.3 233.3h0M215.4 152.6h0M210.9 114.3h0M249.4 98.8h0M261.2 80.8h0M94.8 175.7h0M224.2 183.8h0M146.5 227.6h0M138.7 122.3h0M284.6 62.1h0M105.4 264.0h0M200.2 178.4h0M102.1 273.4h0M61.3 296.2h0M99.9 259.3h0M231.9 110.1h0M248.5 104.2h0M222.4 185.2h0M291.5 39.0h0M299.8 46.0h0M153.1 158.7h0M309.1 56.3h0M68.1 267.9h0M131.8 250.5h0M49.2 300.9h0M126.1 170.4h0M154.7 227.8h0M303.5 45.6h0M317.8 29.4h0M60.0 289.6h0M221.8 98.9h0M168.4 134.5h0M104.0 208.8h0M229.2 234.2h0M217.6 169.2h0M191.2 196.0h0M216.4 91.9h0M60.0 280.7h0M270.8 99.2h0M149.7 231.1h0M199.7 152.7h0M115.3 260.5h0M116.0 234.6h0M117.3 177.3h0M256.9 79.6h0M86.7 223.8h0M288.8 55.8h0M271.6 109.0h0M146.1 203.4h0M79.1 264.9h0M89.9 260.6h0M199.0 191.4h0M304.1 54.3h0M81.5 243.9h0M175.3 127.7h0M317.1 28.4h0M148.8 213.9h0M314.4 27.9h0M254.1 87.3h0M160.2 153.6h0M63.8 269.0h0M149.5 155.2h0M300.5 39.5h0M65.3 282.7h0M183.8 214.1h0M193.2 177.7h0M87.6 262.2h0M238.3 75.1h0M50.2 301.4h0M285.7 78.2h0M180.2 140.4h0M97.9 212.6h0M279.0 74.6h0M262.1 93.1h0M252.9 75.5h0M265.0 78.2h0M66.7 278.2h0M306.1 48.2h0M287.5 61.6h0M148.5 177.9h0M262.5 85.7h0M261.9 81.4h0M305.8 47.8h0M303.3 58.5h0M292.3 43.3h0M157.1 156.3h0M207.4 177.8h0M144.8 218.0h0M135.3 185.0h0M238.4 106.1h0M79.4 274.6h0M102.2 254.7h0M102.8 241.3h0M133.7 162.4h0M196.9 116.9h0M130.8 233.2h0M293.6 64.9h0M287.7 56.5h0M305.6 43.5h0M278.5 78.1h0M301.4 43.7h0M289.5 79.4h0M261.5 132.5h0M127.4 244.1h0M245.3 67.1h0M212.6 159.5h0M167.4 134.9h0M262.3 119.8h0M49.6 301.1h0M173.0 227.4h0M293.2 59.8h0M233.4 74.6h0M125.7 248.9h0M74.7 257.5h0M202.7 148.5h0M91.4 263.9h0M161.5 105.3h0M161.1 266.1h0M253.9 85.3h0M221.5 124.1h0M273.9 105.6h0M265.6 81.7h0M47.5 304.3h0M171.4 118.0h0M131.3 210.6h0M298.4 61.0h0M69.4 288.0h0M160.6 137.6h0M100.9 272.2h0M219.4 116.8h0M241.5 134.3h0M93.2 220.2h0M239.7 87.6h0M215.7 170.7h0M177.2 147.9h0M101.5 157.6h0M258.2 101.8h0M61.9 291.4h0M305.0 56.8h0M53.4 292.6h0M134.2 198.4h0M198.2 180.6h0M119.3 262.8h0M71.4 286.4h0M280.7 57.4h0M94.5 222.6h0M281.4 68.1h0M144.2 217.5h0M65.0 269.0h0M213.7 165.0h0M116.2 204.4h0M122.7 175.5h0M258.6 64.0h0M53.1 290.7h0M206.8 211.6h0M252.7 69.1h0M206.0 168.3h0M240.3 88.7h0M240.2 88.9h0M156.1 219.1h0M161.6 224.9h0M127.7 164.3h0M196.2 153.5h0M234.2 104.6h0M155.7 145.4h0M192.9 220.7h0M169.6 178.2h0M196.6 119.9h0M298.5 42.0h0M111.7 174.4h0M187.8 220.0h0M136.3 121.1h0M82.5 270.4h0M85.6 230.0h0M121.2 237.1h0M203.1 174.8h0M196.9 159.1h0M135.9 249.2h0M314.6 30.1h0M165.1 245.4h0M198.5 137.0h0M153.2 140.5h0M96.3 280.3h0M198.0 148.6h0M311.7 51.7h0M139.1 195.0h0M285.2 99.9h0M212.9 116.5h0M309.3 28.3h0M218.7 118.8h0M222.7 91.0h0M288.3 53.2h0M231.0 136.2h0M107.4 240.8h0M64.1 266.7h0M224.3 79.2h0M312.2 26.5h0M130.2 236.9h0M202.0 98.3h0M88.6 268.2h0M184.9 238.1h0M255.1 114.0h0M131.3 235.2h0M279.4 64.3h0M166.3 231.2h0M51.4 297.9h0M100.7 155.3h0M281.9 58.8h0M186.8 183.5h0M71.7 269.5h0M181.6 160.4h0M93.6 221.9h0M252.6 115.2h0M179.6 188.4h0M289.3 59.8h0M143.7 227.2h0M87.5 277.9h0M235.7 204.7h0M132.3 223.8h0M61.0 260.1h0M130.2 222.9h0M280.0 66.5h0M263.5 94.1h0M287.1 50.6h0M94.1 235.8h0M64.6 289.1h0M258.3 129.6h0M234.5 125.8h0M316.1 34.1h0M195.2 149.2h0M56.8 296.2h0M134.3 125.1h0M209.0 138.4h0M82.0 234.9h0M220.3 80.0h0M126.3 219.6h0M281.8 91.4h0M201.6 128.4h0M182.9 129.1h0M119.8 224.7h0M236.6 113.7h0M166.5 172.0h0M194.4 211.4h0M121.9 211.8h0M75.9 275.7h0M132.5 255.9h0M250.5 77.6h0M62.7 286.5h0M101.0 268.5h0M221.8 169.9h0M243.4 154.3h0M172.0 164.1h0M309.2 54.8h0M155.4 222.6h0M162.5 206.0h0M279.1 60.3h0M261.8 83.3h0M43.5 305.9h0M280.9 60.6h0M304.3 42.0h0M121.1 259.5h0M128.4 236.7h0M279.8 56.6h0M249.1 70.8h0M208.8 171.1h0M211.5 152.0h0M249.0 153.7h0M178.9 141.7h0M149.4 184.9h0M222.9 183.0h0M208.9 179.7h0M98.8 173.5h0M165.7 197.5h0M184.5 109.6h0M315.9 43.8h0M241.9 136.0h0M168.1 158.0h0M276.4 69.0h0M201.4 182.9h0M254.3 117.7h0M164.5 206.5h0M217.7 166.3h0M64.0 277.6h0M237.4 118.3h0M148.1 183.6h0M212.7 137.6h0M142.3 233.6h0M250.2 149.1h0M236.6 76.3h0M240.0 197.6h0M186.9 243.3h0M190.0 194.9h0M62.6 294.2h0M44.9 303.6h0M180.1 199.6h0M245.7 101.0h0M152.4 281.0h0M72.3 265.6h0M291.0 43.9h0M282.0 118.9h0M184.8 172.4h0M266.7 101.8h0M126.8 260.3h0M238.2 99.3h0M250.6 90.0h0M167.0 232.3h0M231.6 164.5h0M94.0 248.1h0M193.5 196.6h0M179.0 188.1h0M254.0 66.8h0M319.3 36.1h0M50.5 282.5h0M306.8 60.1h0M195.1 201.4h0M83.8 262.0h0M238.8 119.0h0M94.6 247.7h0M138.3 196.6h0M105.5 202.3h0M232.2 87.3h0M153.0 179.5h0M169.1 188.1h0M314.0 35.5h0M104.2 236.2h0M51.8 294.7h0M80.3 263.6h0M285.6 79.5h0M321.1 28.9h0M103.5 165.9h0M306.1 57.8h0M175.6 134.7h0M321.3 29.1h0M105.9 200.3h0M178.3 122.9h0M318.1 28.1h0M69.0 282.0h0M156.2 234.0h0M262.4 83.0h0M300.3 57.2h0M82.6 278.2h0M121.1 195.6h0M92.1 238.5h0M100.8 285.7h0M172.8 101.4h0M319.4 36.4h0M103.0 209.9h0M178.4 110.3h0M69.7 286.7h0M298.3 60.5h0M310.8 32.5h0M182.3 106.1h0M289.2 53.9h0M261.4 92.2h0M180.0 263.7h0M320.7 34.2h0M264.0 71.6h0M108.4 265.4h0M125.4 246.3h0M282.8 60.1h0M198.8 188.2h0M170.0 183.7h0M85.5 255.7h0M101.7 244.5h0M97.7 225.3h0M244.8 86.6h0M239.6 84.5h0M246.1 129.1h0M302.5 95.4h0M98.1 254.8h0M289.0 59.5h0M314.5 31.9h0M90.8 221.1h0M76.0 290.5h0M115.6 181.6h0M256.5 108.3h0M215.6 83.4h0M104.8 198.8h0M281.5 50.5h0M117.9 193.5h0M211.7 118.2h0M200.7 181.7h0M186.4 132.1h0M165.6 228.2h0M155.1 185.7h0M269.5 79.5h0M46.8 293.8h0M210.1 125.3h0M239.8 97.5h0M57.3 291.7h0M53.3 286.0h0M107.2 219.0h0M251.1 126.7h0M189.6 107.5h0M195.0 187.5h0M246.5 95.6h0M165.3 203.8h0M162.4 142.5h0M113.2 236.6h0M113.5 261.2h0M242.0 107.4h0M191.5 123.3h0M286.5 101.6h0M148.7 216.7h0M154.0 137.4h0M305.9 50.0h0M291.5 70.1h0M171.3 228.4h0M209.1 134.0h0M297.7 63.4h0M44.5 305.3h0M180.4 166.4h0M214.1 119.1h0M82.2 281.8h0M248.6 199.2h0M219.7 188.2h0M54.8 284.9h0M230.1 113.2h0M157.3 229.9h0M139.8 228.6h0M156.4 240.1h0M211.7 83.9h0M58.6 291.3h0M144.2 279.8h0M152.0 215.4h0M119.9 217.7h0M266.9 136.4h0M152.3 167.4h0M297.3 111.3h0M313.3 29.9h0M164.5 195.5h0M287.7 70.4h0M295.3 46.2h0M210.3 198.1h0M110.2 251.3h0M162.0 204.5h0M284.9 61.7h0M287.3 58.1h0M285.9 61.4h0M53.2 297.9h0M225.7 116.4h0M233.8 139.0h0M46.9 299.4h0M133.2 236.5h0M87.8 288.5h0M66.0 292.6h0M301.8 32.9h0M307.1 37.3h0M286.2 90.1h0M110.9 282.0h0M188.3 127.6h0M191.0 132.1h0M72.8 273.9h0M282.3 84.1h0M112.1 208.9h0M119.1 255.0h0M197.3 156.1h0M90.7 283.6h0M255.3 94.7h0M283.0 57.4h0M227.4 130.8h0M147.3 213.6h0M271.9 91.6h0M195.3 170.5h0M49.7 298.2h0M309.7 49.0h0M61.1 269.3h0M99.0 277.0h0M228.6 138.6h0M233.4 90.6h0M120.4 254.1h0M241.2 75.4h0M231.1 99.4h0M230.8 88.8h0M75.8 261.1h0M297.1 34.5h0M166.2 243.4h0M150.4 197.5h0M228.5 92.3h0M101.4 262.4h0M128.7 231.4h0M44.4 303.7h0M299.9 40.9h0M188.0 180.4h0M265.5 98.9h0M264.1 80.5h0M117.8 254.6h0M313.8 32.8h0M103.2 255.6h0M255.7 119.1h0M315.4 42.1h0M152.5 231.3h0M93.4 273.6h0M148.3 192.3h0M137.2 149.6h0M221.1 94.7h0M110.6 251.7h0M76.3 255.5h0M205.8 144.8h0M82.9 272.4h0M135.7 122.5h0M117.8 248.4h0M51.5 295.1h0M248.7 228.4h0M255.5 113.0h0M214.6 179.7h0M173.1 207.7h0M264.8 104.8h0M294.9 63.7h0M174.6 200.0h0M202.7 130.9h0M277.6 98.0h0M220.2 179.7h0M255.2 118.1h0M265.2 79.8h0M143.7 215.8h0M150.5 179.4h0M60.5 289.9h0M305.3 56.5h0M91.7 260.5h0M299.0 46.4h0M78.2 289.7h0M84.0 273.1h0M58.4 295.0h0M91.5 263.2h0M259.2 87.2h0M226.5 92.7h0M128.4 167.5h0M94.8 232.9h0M82.1 288.9h0M169.7 214.7h0M238.8 92.4h0M78.8 283.1h0M229.4 77.7h0M213.6 173.9h0M300.0 54.2h0M260.4 94.9h0M252.4 81.0h0M112.7 202.2h0M236.1 236.9h0M160.4 229.4h0M312.1 31.3h0M231.8 172.0h0M124.3 232.4h0M318.9 30.2h0M49.6 301.7h0M201.2 154.6h0M227.0 94.5h0M89.7 254.3h0M121.4 239.7h0M48.3 300.7h0M77.1 274.6h0M106.8 244.0h0M272.7 80.2h0M322.6 26.7h0M258.8 135.3h0M185.7 125.7h0M160.5 227.7h0M118.4 207.8h0M49.5 296.9h0M87.1 235.7h0M88.8 229.7h0M86.5 264.4h0M316.3 48.5h0M179.9 133.1h0M318.8 45.5h0M229.3 80.2h0M173.0 239.6h0M306.4 57.0h0M184.3 183.6h0M281.2 123.1h0M306.8 37.2h0M194.2 203.5h0M219.5 142.9h0M118.6 246.7h0M189.5 139.9h0M59.4 290.0h0M233.5 205.8h0M253.5 180.8h0M85.4 242.1h0M51.6 303.8h0M245.2 131.7h0M70.5 271.8h0M114.3 221.6h0M288.5 52.4h0M193.8 95.1h0M174.3 207.2h0M192.8 218.9h0M288.8 65.1h0M287.0 83.2h0M120.3 207.8h0M302.8 61.2h0M252.7 87.4h0M160.4 147.7h0M145.0 218.8h0M158.4 158.9h0M57.7 299.7h0M254.8 115.0h0M323.3 43.9h0M170.2 232.2h0M114.0 264.6h0M197.7 114.7h0M165.9 249.2h0M148.0 148.1h0M224.4 153.9h0M186.1 129.6h0M322.7 27.9h0M47.3 300.9h0M111.9 227.7h0M295.8 72.3h0M78.3 280.1h0M60.2 299.9h0M276.0 72.2h0M234.4 69.1h0M59.7 277.1h0M75.9 275.9h0M201.5 154.8h0M54.7 295.3h0M61.0 273.9h0M247.2 80.6h0M230.1 218.8h0M308.2 37.3h0M256.5 80.3h0M162.4 267.5h0M219.0 131.5h0M97.2 267.5h0M124.6 268.6h0M274.3 107.0h0M117.1 165.5h0M130.9 210.2h0M264.1 118.0h0M74.6 247.9h0M165.6 261.5h0M226.2 159.2h0M162.3 103.0h0M67.4 280.3h0M191.9 215.0h0M120.2 269.5h0M181.4 206.8h0M280.9 78.1h0M83.5 222.5h0M194.0 117.7h0M244.7 135.4h0M197.1 207.4h0M117.6 181.3h0M128.5 245.6h0M288.0 75.4h0M311.7 51.0h0M270.2 110.2h0M195.9 129.3h0M286.3 83.6h0M254.7 99.5h0M57.3 293.9h0M140.9 120.9h0M318.4 28.8h0M104.4 252.7h0M132.2 192.0h0M296.4 89.3h0M223.1 158.2h0M247.5 85.7h0M250.7 102.9h0M84.1 269.1h0M93.1 262.9h0M318.6 30.3h0M196.5 97.6h0M266.0 61.2h0M274.9 67.5h0M71.9 279.3h0M265.6 75.0h0M313.4 51.3h0M202.4 126.8h0M249.8 123.6h0M289.2 43.2h0M62.2 278.1h0M298.9 47.1h0M246.6 71.4h0M186.9 213.2h0M59.5 291.8h0M308.7 39.9h0M198.5 192.2h0M307.4 36.4h0M111.2 231.7h0M205.0 218.8h0M209.1 179.8h0M238.7 145.3h0M149.7 199.7h0M51.9 297.6h0M160.1 175.9h0M253.7 144.9h0M53.9 275.2h0M307.0 32.2h0M136.8 210.9h0M242.3 78.4h0M96.0 242.2h0M282.1 78.8h0M162.9 199.7h0M113.3 282.7h0M306.5 55.3h0M222.6 119.1h0M297.1 58.4h0M179.0 162.4h0M115.9 283.0h0M194.5 148.2h0M120.9 182.4h0M315.3 27.7h0M216.8 214.6h0M141.8 240.4h0M182.2 104.9h0M227.7 122.7h0M222.8 115.9h0M320.4 36.3h0M113.0 265.7h0M55.4 287.0h0M225.8 117.9h0M204.8 133.3h0M195.9 125.9h0M277.4 83.0h0M55.6 288.7h0M98.3 246.4h0M307.8 37.7h0M259.5 186.6h0M223.1 170.4h0M257.0 72.8h0M243.6 100.4h0M61.6 271.3h0M146.4 124.7h0M229.1 172.4h0M98.5 258.2h0M173.7 160.4h0M214.9 105.8h0M97.7 267.3h0M293.0 56.2h0M292.9 49.5h0M74.9 285.1h0M56.2 299.9h0M157.1 184.3h0M264.4 59.2h0M79.9 270.9h0M239.0 92.3h0M246.5 103.6h0M310.7 68.2h0M155.3 219.0h0M215.9 150.4h0M167.0 180.3h0M56.5 298.4h0M211.2 117.6h0M175.3 208.4h0M53.5 291.6h0M290.4 58.5h0M143.7 255.9h0M272.8 67.5h0M95.3 271.9h0M229.6 156.0h0M281.7 61.8h0M151.4 175.1h0M213.1 113.1h0M225.3 167.7h0M48.4 302.8h0M63.4 283.9h0M121.4 257.1h0M137.0 198.2h0M166.7 222.9h0M187.5 194.5h0M135.8 227.4h0M53.0 293.2h0M199.4 204.4h0M302.7 41.8h0M89.8 259.5h0M130.1 233.5h0M305.1 41.5h0M248.3 105.0h0M221.7 181.9h0M243.0 124.2h0M263.0 192.2h0M184.1 103.7h0M64.4 282.1h0M161.6 209.9h0M52.4 297.2h0M104.8 274.3h0M78.4 272.6h0M65.4 230.7h0M86.8 267.9h0M284.0 54.8h0M141.5 208.2h0M110.3 281.4h0M172.5 144.7h0M105.0 213.1h0M99.1 201.7h0M67.0 285.9h0M87.3 262.2h0M114.8 274.1h0M150.1 157.1h0M161.2 216.9h0M117.7 265.8h0M141.9 234.1h0M154.1 241.4h0M294.4 35.5h0M101.6 217.1h0M255.6 136.6h0M175.5 134.9h0M216.5 157.5h0M294.0 58.5h0M213.2 188.4h0M150.9 191.2h0M144.3 220.7h0M52.1 291.1h0M134.0 137.3h0M129.2 272.0h0M218.2 93.2h0M195.9 193.0h0M309.8 46.7h0M260.7 66.1h0M305.8 53.1h0M91.1 283.4h0M77.6 253.5h0M108.4 284.3h0M95.5 181.9h0M73.2 269.7h0M301.6 71.9h0M58.8 291.3h0M60.6 282.5h0M191.8 191.3h0M200.6 125.5h0M311.8 37.5h0M293.3 51.6h0M146.2 166.5h0M147.6 217.5h0M251.9 79.6h0M291.8 43.0h0M125.2 112.3h0M146.1 204.3h0M150.2 157.4h0M241.1 97.5h0M155.2 237.9h0M241.1 108.5h0M97.1 255.4h0M281.6 89.9h0M222.2 186.3h0M73.0 275.1h0M118.2 279.6h0M293.2 50.8h0M119.4 236.0h0M131.8 195.2h0M71.2 250.5h0M156.4 236.6h0M293.2 39.6h0M125.0 157.1h0M118.2 264.8h0M91.4 257.1h0M128.6 203.7h0M191.7 251.8h0M301.1 58.6h0M237.5 148.4h0M230.6 193.4h0M293.1 85.5h0M288.9 73.1h0M311.6 37.7h0M312.5 44.8h0M109.9 244.6h0M206.7 211.8h0M185.6 167.3h0M197.7 137.9h0M165.5 188.7h0M68.0 241.8h0M279.8 65.2h0M245.6 128.0h0M209.7 166.6h0M182.8 196.3h0M153.9 201.4h0M101.3 286.1h0M136.1 235.0h0M244.7 192.6h0M148.3 232.3h0M117.2 214.3h0M118.3 275.2h0M184.4 214.9h0M235.2 119.2h0M312.7 49.2h0M157.2 241.2h0M156.4 140.9h0M72.2 254.9h0M75.2 261.3h0M100.4 208.6h0M155.6 184.6h0M204.2 195.3h0M73.7 286.1h0M258.1 116.6h0M71.5 257.8h0M117.7 202.4h0M139.2 239.8h0M275.1 66.7h0M289.5 76.2h0M292.8 92.8h0M108.1 252.8h0M89.1 282.4h0M112.0 185.8h0M256.2 72.8h0M55.5 285.1h0M304.0 43.2h0M147.6 222.8h0M269.4 109.2h0M259.3 72.2h0M138.1 229.7h0M138.5 161.3h0M304.3 55.1h0M210.4 202.8h0M166.1 247.2h0M283.5 56.0h0M172.8 214.4h0M200.2 122.1h0M233.6 124.0h0M167.8 133.6h0M43.8 306.0h0M102.0 266.8h0M90.6 262.2h0M131.1 201.9h0M237.7 86.8h0M106.5 194.0h0M301.6 39.3h0M241.3 145.5h0M66.1 288.4h0M142.1 178.3h0M257.3 126.1h0M109.4 226.7h0M115.1 194.3h0M52.5 301.8h0M162.7 173.8h0M322.5 42.6h0M291.6 73.3h0M78.2 281.6h0M214.5 109.5h0M57.1 244.4h0M288.5 61.9h0M255.9 69.4h0M294.9 43.3h0M260.6 89.2h0M147.8 182.5h0M48.1 301.9h0M158.6 141.6h0M253.2 106.1h0M158.0 216.1h0M137.3 185.5h0M52.2 276.1h0M192.6 192.1h0M48.7 301.0h0M49.9 297.4h0M46.7 304.9h0M307.2 39.6h0M277.0 53.3h0M250.8 79.8h0M275.2 85.4h0M204.4 218.1h0M122.1 258.5h0M189.4 205.6h0M81.0 268.6h0M318.0 36.9h0M51.1 295.9h0M102.9 163.2h0M126.5 255.3h0M184.6 192.7h0M159.9 234.3h0M246.2 105.1h0M91.6 257.2h0M49.3 302.2h0M48.5 303.8h0M190.3 163.5h0M160.1 268.2h0M54.5 290.8h0M102.5 266.0h0M275.8 68.1h0M91.6 237.6h0M139.7 217.3h0M235.9 81.1h0M115.6 240.3h0M296.9 84.7h0M271.5 65.2h0M53.8 295.1h0M286.6 87.4h0M267.2 104.1h0M306.6 42.1h0M239.7 75.3h0M280.1 70.2h0M216.6 134.7h0M185.9 136.1h0M128.9 199.2h0M116.3 188.8h0M279.2 77.0h0M232.3 162.9h0M188.0 108.3h0M202.8 189.6h0M191.1 201.8h0M307.7 29.9h0M197.7 121.8h0M206.5 217.1h0M285.7 52.7h0M217.5 190.5h0M179.2 132.0h0M273.6 62.5h0M144.6 185.1h0M282.5 58.8h0M215.3 123.5h0M63.2 294.8h0M280.5 83.1h0M201.5 107.7h0M282.3 65.3h0M284.4 67.6h0M268.9 85.9h0M204.6 177.6h0M274.0 88.9h0M210.8 126.0h0M119.2 186.0h0M187.3 197.0h0M263.8 83.8h0M267.9 114.7h0M219.1 102.6h0M145.6 270.2h0M301.2 34.3h0M223.6 182.3h0M145.1 213.9h0M292.3 73.8h0M152.6 260.4h0M296.3 42.9h0M303.1 53.0h0M217.3 93.5h0M47.0 302.8h0M245.5 78.6h0M306.4 35.2h0M271.1 64.2h0M306.9 46.2h0M284.6 62.5h0M295.7 53.1h0M120.6 212.8h0M90.8 262.3h0M142.1 157.0h0M210.1 184.3h0M243.5 72.7h0M311.8 28.7h0M128.2 174.3h0M127.2 278.1h0M137.8 118.6h0M45.0 303.8h0M312.4 42.8h0M270.0 96.1h0M181.9 212.5h0M83.2 247.4h0M146.8 123.5h0M212.4 156.8h0M77.3 284.1h0M77.8 289.1h0M133.3 201.1h0M200.8 191.6h0M284.1 79.4h0M308.2 36.6h0M194.8 196.8h0M212.0 132.6h0M55.3 294.5h0M167.6 164.9h0M174.8 174.0h0M169.9 132.4h0M86.6 221.4h0M290.1 63.5h0M154.0 157.0h0M162.9 215.3h0M95.7 259.2h0M53.7 295.4h0M74.3 271.0h0M274.4 74.1h0M279.9 55.4h0M246.0 140.9h0M86.2 293.4h0M318.5 44.6h0M286.0 47.9h0M227.5 99.2h0M72.6 278.3h0M164.9 212.8h0M162.5 204.0h0M192.5 154.1h0M180.7 159.9h0M91.7 281.5h0M121.7 236.8h0M71.4 253.9h0M76.1 291.2h0M268.1 101.5h0M219.7 245.9h0M254.8 199.6h0M205.8 189.5h0M212.8 145.4h0M320.7 30.7h0M204.7 121.8h0M130.4 161.9h0M132.9 227.4h0M150.6 242.4h0M235.0 171.0h0M273.9 70.6h0M267.8 61.1h0M321.9 29.7h0M300.1 46.8h0M82.5 238.4h0M229.0 93.3h0M197.9 130.6h0M233.2 102.7h0M141.7 176.2h0M195.4 144.6h0M110.2 245.8h0M160.6 190.3h0M235.1 78.6h0M255.8 100.9h0M206.3 239.0h0M280.9 57.7h0M215.7 135.4h0M255.1 155.5h0M267.4 141.1h0M150.5 229.8h0M219.2 199.1h0M115.2 287.8h0M188.1 196.9h0M202.1 158.5h0M50.9 291.6h0M316.7 33.0h0M48.9 287.6h0M70.1 282.4h0M289.2 53.8h0M190.7 210.8h0M159.1 197.2h0M81.5 266.4h0M44.3 305.0h0M310.5 39.9h0M52.8 292.2h0M109.9 213.5h0M117.0 244.4h0M143.1 102.3h0M61.3 275.5h0M247.3 85.7h0M195.3 106.5h0M64.7 287.9h0M113.1 189.2h0M197.1 164.7h0M93.3 288.3h0M176.7 188.0h0M265.6 71.9h0M276.3 99.4h0M167.0 179.1h0M264.7 67.3h0M216.5 142.7h0M123.9 204.1h0M247.0 97.1h0M269.1 90.2h0M257.4 64.5h0M257.6 90.4h0M190.9 138.7h0M253.2 98.6h0M247.8 147.6h0M76.8 276.2h0M224.5 243.1h0M91.0 266.3h0M296.9 38.4h0M286.5 49.9h0M218.8 98.7h0M208.2 161.7h0M90.2 228.7h0M243.3 104.4h0M205.3 128.1h0M49.6 301.6h0M179.2 121.6h0M320.0 51.9h0M87.1 279.4h0M82.3 272.8h0M158.1 157.1h0M47.5 304.4h0M74.5 250.9h0M202.1 138.1h0M88.8 250.3h0M250.4 151.3h0M123.1 175.2h0M88.4 267.4h0M185.0 209.8h0M116.5 199.1h0M70.4 290.6h0M261.0 151.3h0M217.8 193.6h0M189.6 175.3h0M212.6 101.1h0M241.0 147.3h0M110.2 217.9h0M207.8 165.1h0M209.2 164.8h0M234.5 75.6h0M287.4 72.5h0M243.6 91.6h0M58.5 293.7h0M197.1 125.3h0M283.2 58.1h0M131.2 198.0h0M49.0 295.6h0M127.2 183.3h0M81.2 280.9h0M139.0 254.2h0M104.3 236.4h0M173.5 117.1h0M170.9 171.5h0M315.9 27.2h0M153.3 199.5h0M98.2 274.7h0M283.3 58.3h0M138.7 221.0h0M109.6 139.5h0M63.1 281.9h0M99.9 211.2h0M178.5 121.4h0M101.6 182.7h0M84.2 222.5h0M109.1 256.3h0M125.1 222.0h0M277.5 115.9h0M269.7 70.7h0M253.8 89.8h0M175.1 154.5h0M106.1 243.3h0M141.2 127.4h0M249.9 112.5h0M137.7 257.6h0M225.8 125.6h0M78.9 261.0h0M220.9 182.4h0M250.3 108.8h0M92.0 263.8h0M154.6 182.5h0M266.8 74.9h0M125.8 217.9h0M317.6 34.5h0M242.2 103.3h0M291.2 88.8h0M160.7 179.5h0M181.5 150.3h0M239.3 83.9h0M118.5 155.2h0M49.8 299.7h0M99.7 187.8h0M156.7 183.5h0M217.9 111.1h0M122.8 177.6h0M140.5 175.5h0M84.3 263.4h0M143.6 150.2h0M99.3 226.9h0M281.0 61.5h0M75.3 285.4h0M248.5 139.7h0M45.6 304.1h0M125.2 235.1h0M172.7 211.8h0M179.4 129.0h0M205.6 101.3h0M95.3 259.0h0M297.6 59.6h0M73.6 173.0h0M231.0 135.1h0M56.8 282.5h0M165.8 97.3h0M309.0 49.3h0M266.1 112.2h0M209.3 158.5h0M218.4 99.6h0M292.0 64.7h0M116.6 266.9h0M313.8 61.9h0M99.7 285.2h0M66.8 243.1h0M113.8 269.9h0M103.7 244.1h0M75.5 243.2h0M126.7 144.9h0M166.8 189.6h0M278.0 66.1h0M174.8 162.0h0M77.7 283.5h0M182.0 146.6h0M165.1 231.4h0M203.5 128.7h0M272.7 78.9h0M228.1 120.1h0M227.8 105.4h0M108.0 219.7h0M261.9 122.0h0M120.1 235.2h0M254.5 109.9h0M236.8 78.1h0M120.7 187.6h0M167.1 108.1h0M138.9 155.4h0M254.2 126.4h0M128.9 180.9h0M77.6 269.5h0M164.4 232.4h0M69.2 259.0h0M269.7 87.9h0M292.4 71.8h0M308.0 26.6h0M126.6 246.8h0M164.2 181.1h0M224.8 91.7h0M152.3 172.2h0M81.5 247.7h0M292.9 66.7h0M298.7 41.7h0M298.1 42.9h0M293.8 45.2h0M221.1 122.3h0M204.8 122.1h0M146.7 150.8h0M86.4 279.6h0M307.5 33.9h0M83.5 279.0h0M139.3 183.6h0M88.1 261.3h0M183.2 174.1h0M293.0 42.6h0M207.9 119.7h0M124.4 133.9h0M273.3 98.5h0M265.1 63.6h0M77.4 277.0h0M285.9 82.5h0M87.0 255.2h0M123.1 214.2h0M169.1 150.5h0M245.1 129.1h0M187.3 143.1h0M113.2 236.5h0M183.5 229.7h0M224.9 110.4h0M106.9 251.9h0M275.7 68.3h0M288.7 53.5h0M131.2 241.0h0M77.9 264.0h0M203.4 121.2h0M206.1 181.2h0M182.9 165.6h0M301.9 45.7h0M121.3 251.4h0M188.8 163.9h0M184.3 170.2h0M174.9 137.1h0M215.7 82.9h0M116.8 231.5h0M264.5 103.9h0M213.9 173.2h0M149.8 248.0h0M308.1 32.4h0M138.0 268.4h0M105.1 245.5h0M141.7 235.7h0M161.8 201.5h0M135.3 213.7h0M308.4 45.7h0M175.2 139.4h0M249.0 82.0h0M290.2 71.7h0M257.1 91.3h0M242.9 75.7h0M315.4 36.5h0M256.9 130.0h0M85.7 242.5h0M118.9 279.8h0M149.3 133.8h0M87.6 263.0h0M193.4 118.7h0M244.0 115.7h0M50.5 298.7h0M321.1 38.2h0M109.7 252.1h0M93.0 252.9h0M260.4 129.8h0M263.9 75.1h0M153.5 255.0h0M244.1 187.0h0M188.1 168.1h0M235.3 165.5h0M162.8 212.6h0M94.8 266.4h0M93.5 274.8h0M246.6 112.7h0M146.9 178.3h0M77.0 249.1h0M136.0 217.0h0M258.2 72.2h0M228.3 130.2h0M303.8 57.6h0M271.9 69.3h0M47.3 303.0h0M218.6 91.8h0M321.0 26.8h0M133.2 167.9h0M172.2 138.0h0M264.8 75.8h0M71.1 271.3h0M82.8 253.1h0M162.8 134.2h0M80.5 284.4h0M96.4 284.6h0M322.5 38.3h0M274.3 89.7h0M75.3 284.0h0M222.4 124.4h0M54.1 300.5h0M83.9 245.6h0M70.0 291.8h0M257.4 119.4h0M119.3 159.1h0M216.3 88.7h0M140.6 212.5h0M215.6 143.2h0M167.7 168.8h0M134.1 224.0h0M154.4 263.4h0M89.3 279.0h0M82.6 289.5h0M66.2 274.8h0M310.8 48.1h0M303.7 32.3h0M292.6 47.2h0M146.6 152.5h0M61.1 279.5h0M244.3 86.3h0M215.5 114.3h0M273.1 70.4h0M60.4 293.7h0M220.5 142.6h0M222.0 194.2h0M150.0 219.6h0M281.2 124.2h0M158.9 214.1h0M192.1 169.5h0M51.2 296.1h0M72.2 271.8h0M248.8 87.0h0M317.9 26.4h0M285.6 67.9h0M87.5 186.0h0M256.4 84.9h0M250.9 84.9h0M219.7 102.8h0M169.3 135.7h0M172.3 197.0h0M320.4 26.4h0M69.8 256.6h0M236.9 168.6h0M182.0 140.5h0M277.8 88.5h0M155.7 141.3h0M271.0 157.8h0M78.7 259.7h0M258.7 124.9h0M157.8 209.3h0M132.0 159.6h0M66.4 264.2h0M170.7 137.2h0M163.9 176.7h0M246.7 80.8h0M284.8 54.5h0M275.5 68.0h0M94.6 273.9h0M89.5 266.2h0M62.9 295.2h0M64.0 286.2h0M111.3 234.0h0M299.6 46.3h0M121.6 185.3h0M240.7 91.6h0M275.5 70.8h0M220.0 98.1h0M69.6 283.2h0M123.5 226.8h0M76.4 265.2h0M201.8 204.6h0M146.6 254.4h0M176.5 234.3h0M304.0 50.4h0M134.2 146.7h0M248.4 137.5h0M265.4 118.5h0M237.4 75.9h0M254.6 144.4h0M138.1 204.2h0M148.7 180.5h0M237.1 145.0h0M275.9 65.9h0M216.9 159.9h0M276.4 60.9h0M164.1 256.6h0M290.4 70.6h0M121.9 227.1h0M125.9 158.3h0M63.9 268.1h0M58.3 295.4h0M130.0 233.8h0M49.5 299.2h0M134.1 235.3h0M248.5 71.7h0M261.5 162.5h0M68.1 277.7h0M112.7 260.3h0M99.1 238.4h0M222.7 242.0h0M259.6 92.3h0M171.4 191.3h0M276.1 72.0h0M177.5 192.9h0M146.9 183.2h0M105.7 228.0h0M136.6 187.3h0M185.2 160.3h0M44.1 305.5h0M142.5 269.8h0M220.0 80.1h0M79.1 263.1h0M65.8 274.2h0M303.6 47.1h0M114.5 274.4h0M214.4 102.8h0M230.7 176.5h0M235.5 149.0h0M277.4 88.4h0M211.6 117.3h0M186.4 251.6h0M260.3 75.3h0M203.5 108.9h0M221.5 163.3h0M219.3 185.6h0M207.3 140.0h0M171.9 110.7h0M246.9 180.3h0M230.5 80.7h0M84.6 287.1h0M150.3 210.7h0M211.8 97.0h0M190.1 110.8h0M152.3 240.9h0M51.1 290.8h0M178.0 164.3h0M147.0 112.2h0M203.6 131.9h0M56.0 303.2h0M139.4 160.1h0M236.1 141.2h0M123.5 277.7h0M141.0 204.9h0M176.3 167.0h0M314.2 41.0h0M154.8 203.7h0M151.9 213.3h0M309.8 38.8h0M66.0 279.5h0M155.3 94.8h0M298.6 34.7h0M92.8 276.6h0M235.1 104.1h0M102.3 226.3h0M139.0 165.8h0M112.8 197.1h0M78.5 280.0h0M161.1 185.4h0M64.3 280.4h0M197.3 127.4h0M87.4 262.9h0M88.6 282.2h0M229.9 88.1h0M46.1 305.1h0M240.1 85.0h0M199.5 159.7h0M134.7 188.5h0M226.1 81.6h0M45.7 304.2h0M118.6 224.5h0M220.8 143.0h0M224.7 114.3h0M80.0 274.9h0M257.9 146.4h0M218.9 96.1h0M74.1 274.4h0M156.6 196.0h0M263.1 176.0h0M286.0 79.0h0M276.9 62.2h0M151.0 167.3h0M287.0 51.9h0M103.1 222.3h0M126.3 204.5h0M199.3 117.5h0M204.4 201.6h0M86.0 265.9h0M92.9 258.5h0M277.8 61.4h0M145.1 276.4h0M261.2 94.3h0M148.6 232.1h0M320.9 39.3h0M97.5 259.1h0M167.1 213.1h0M150.9 175.8h0M153.1 192.5h0M224.0 126.9h0M109.7 259.8h0M158.0 248.1h0M322.3 33.1h0M166.4 194.1h0M187.6 131.4h0M54.1 301.3h0M52.0 298.5h0M300.8 35.4h0M318.8 39.8h0M211.2 107.0h0M107.4 271.4h0M230.7 187.4h0M263.6 113.5h0M231.4 82.4h0M231.4 101.6h0M142.4 220.2h0M191.3 225.5h0M250.4 119.0h0M247.8 130.1h0M292.8 46.6h0M185.5 197.1h0M249.8 95.2h0M156.5 236.4h0M130.4 246.3h0M274.7 85.6h0M96.5 261.4h0M242.6 98.6h0M213.4 155.3h0M160.9 141.1h0M83.4 187.1h0M241.6 146.2h0M159.0 191.6h0M315.6 49.0h0M113.2 229.1h0M63.4 285.4h0M282.6 57.1h0M44.9 302.5h0M249.2 186.4h0M237.7 158.3h0M97.5 279.3h0M59.2 285.7h0M158.2 221.2h0M90.7 256.8h0M78.9 273.6h0M282.9 59.2h0M207.3 147.4h0M243.8 120.6h0M69.9 272.1h0M310.6 45.9h0M312.3 44.3h0M169.9 142.8h0M112.4 140.1h0M150.4 198.9h0M190.0 128.2h0M284.0 92.5h0M253.6 127.3h0M68.4 261.2h0M143.9 233.5h0M306.4 32.9h0M163.5 176.1h0M266.0 102.7h0M228.1 145.3h0M71.7 283.9h0M122.4 114.2h0M286.8 54.8h0M163.7 199.4h0M43.8 305.6h0M256.6 121.8h0M81.9 261.3h0M54.4 292.0h0M72.3 288.6h0M70.6 264.4h0M72.5 266.8h0M220.3 102.8h0M284.7 58.0h0M98.3 231.0h0M73.2 251.9h0M242.5 184.8h0M63.1 292.5h0M233.5 73.7h0M265.3 108.9h0M282.6 77.1h0M175.4 129.0h0M175.8 269.8h0M243.3 196.8h0M234.7 170.1h0M216.9 116.2h0M46.6 304.8h0M315.3 30.6h0M265.2 77.5h0M227.7 130.6h0M117.4 280.5h0M266.4 79.3h0M189.0 128.9h0M231.5 240.6h0M69.5 261.6h0M286.4 74.4h0M264.3 111.4h0M226.2 149.2h0M273.1 172.7h0M85.2 245.2h0M275.8 58.9h0M276.0 95.4h0M148.4 120.8h0M175.0 212.4h0M71.6 284.3h0M294.8 50.2h0M49.4 295.8h0M93.8 188.9h0M154.2 159.9h0M296.8 54.1h0M220.9 203.6h0M170.9 216.2h0M136.0 168.2h0M120.9 252.5h0M58.1 292.8h0M108.9 191.1h0M233.3 161.8h0M143.2 237.8h0M159.8 233.1h0M180.0 146.3h0M193.8 123.8h0M282.7 127.3h0M256.3 139.7h0M236.0 108.3h0M218.3 153.4h0M70.9 279.2h0M170.6 255.3h0M112.4 258.8h0M262.0 96.1h0M44.6 303.4h0M77.5 254.8h0M45.4 303.1h0M276.6 65.9h0M102.0 272.0h0M157.9 159.4h0M100.0 240.2h0M197.4 198.9h0M146.7 225.7h0M119.1 275.5h0M255.0 74.6h0M300.4 66.5h0M294.2 39.5h0M274.6 98.0h0M141.2 233.0h0M142.6 170.3h0M311.7 57.8h0M272.5 67.3h0M138.5 252.4h0M108.2 232.8h0M302.4 55.6h0M109.3 245.3h0M145.9 119.3h0M151.5 276.7h0M271.0 71.0h0M52.2 292.9h0M190.5 194.6h0M318.2 42.4h0M312.1 30.7h0M46.8 303.3h0M45.1 304.4h0M192.7 158.4h0M164.7 236.8h0M238.6 149.3h0M288.1 70.3h0M73.4 254.3h0M85.5 278.9h0M277.2 73.9h0M284.2 81.8h0M241.7 88.2h0M77.9 275.6h0M112.0 272.2h0M100.7 210.6h0M210.2 111.2h0M280.3 106.9h0M269.7 107.2h0M50.3 297.5h0M77.4 283.1h0M146.0 239.9h0M258.4 115.5h0M133.7 139.3h0M185.3 129.9h0M138.4 140.9h0M200.8 154.5h0M153.1 127.5h0M108.8 166.9h0M192.2 140.0h0M238.0 116.8h0M288.2 47.4h0M257.7 98.9h0M198.9 152.9h0M220.1 163.5h0M89.0 270.7h0M72.0 257.8h0M142.8 223.7h0M87.3 270.3h0M103.9 173.3h0M183.5 185.6h0M188.9 138.6h0M255.2 95.6h0M137.1 240.0h0M57.5 301.5h0M157.0 208.1h0M137.2 223.2h0M101.4 263.6h0M118.7 203.9h0M74.8 256.1h0M316.5 50.6h0M242.1 149.7h0M239.8 127.8h0M224.9 94.0h0M273.4 81.0h0M231.7 244.1h0M98.4 253.6h0M280.2 61.1h0M236.3 104.9h0M265.5 70.0h0M251.0 124.6h0M174.5 107.6h0M289.4 40.8h0M164.4 110.8h0M95.0 198.1h0M220.5 86.8h0M86.3 272.1h0M148.1 205.4h0M273.4 81.3h0M167.9 137.2h0M103.3 223.5h0M249.5 97.2h0M44.1 306.2h0M233.1 74.0h0M49.4 299.6h0M144.6 189.5h0M164.0 231.9h0M249.6 116.7h0M184.5 144.6h0M232.6 73.6h0M268.1 81.5h0M229.1 88.9h0M82.9 275.7h0M115.0 175.7h0M313.6 34.2h0M65.9 283.7h0M149.5 276.1h0M295.1 47.3h0M194.3 193.2h0M100.6 212.0h0M234.7 94.3h0M214.5 113.3h0M147.7 157.3h0M317.2 36.8h0M217.5 119.9h0M120.8 170.9h0M236.4 129.4h0M93.5 272.5h0M52.0 290.1h0M214.1 209.2h0M159.8 149.8h0M58.1 281.9h0M44.2 304.7h0M135.6 278.4h0M141.0 192.8h0M255.6 85.2h0M196.1 170.1h0M101.1 270.2h0M127.6 158.7h0M108.5 285.6h0M242.7 143.4h0M101.0 230.2h0M117.6 166.9h0M207.1 239.5h0M295.8 42.8h0M257.6 125.8h0M250.2 83.6h0M233.7 166.4h0M140.0 160.5h0M150.2 186.5h0M117.0 267.1h0M190.7 194.5h0M123.8 262.1h0M168.0 201.5h0M182.3 139.3h0M97.4 286.2h0M89.5 261.7h0M313.3 45.7h0M67.0 282.0h0M212.3 78.4h0M49.0 296.7h0M275.3 100.2h0M224.4 215.1h0M278.7 78.8h0M188.5 103.0h0M142.2 226.0h0M95.7 226.8h0M59.8 273.3h0M70.8 270.9h0M308.4 46.6h0M246.0 111.6h0M254.1 66.0h0M277.3 55.9h0M99.2 207.7h0M202.8 176.2h0M239.1 126.8h0M83.0 249.5h0M232.2 160.7h0M312.3 30.4h0M181.0 258.2h0M190.8 110.5h0M80.9 238.6h0M248.0 160.5h0M191.5 175.8h0M285.2 51.4h0M247.3 138.5h0M83.3 262.3h0M93.3 259.1h0M149.2 150.0h0M260.9 84.3h0M44.8 305.1h0M145.9 236.6h0M236.3 145.8h0M251.8 71.6h0M70.7 272.9h0M296.5 38.6h0M306.7 37.1h0M238.0 228.8h0M157.3 223.3h0M106.2 228.8h0M60.6 265.3h0M279.4 92.7h0M313.0 29.1h0M144.5 237.0h0M256.3 122.6h0M163.8 186.7h0M48.8 300.1h0M307.8 55.4h0M284.5 58.2h0M300.4 40.1h0M71.8 255.0h0M151.9 161.2h0M278.9 84.2h0M280.2 88.2h0M205.9 186.6h0M122.6 210.1h0M177.0 131.6h0M297.5 108.7h0M251.7 101.1h0M134.0 165.0h0M79.7 250.6h0M223.6 82.0h0M123.6 229.0h0M185.9 97.4h0M235.7 92.5h0M159.3 116.7h0M128.2 174.1h0M44.8 304.5h0M115.4 184.9h0M180.4 209.1h0M218.4 145.6h0M265.8 65.0h0M127.5 228.3h0M229.8 132.8h0M180.8 179.5h0M238.8 76.5h0M179.2 164.4h0M257.9 102.2h0M279.5 70.5h0M145.8 204.8h0M243.4 88.1h0M95.8 214.8h0M312.9 35.6h0M115.1 264.1h0M207.7 182.3h0M196.0 98.1h0M184.2 206.8h0M199.3 147.0h0M74.8 250.9h0M258.4 187.4h0M213.8 118.7h0M217.9 123.9h0M218.8 172.5h0M70.8 263.3h0M234.6 117.0h0M131.9 214.2h0M189.7 163.5h0M215.8 113.4h0M136.7 190.9h0M195.8 114.4h0M197.9 155.7h0M127.7 262.6h0M57.7 288.4h0M278.4 84.8h0M183.2 202.6h0M196.7 149.3h0M52.8 300.1h0M241.9 101.9h0M217.4 192.6h0M277.7 65.4h0M126.9 135.8h0M255.8 75.3h0M253.8 76.4h0M98.0 251.2h0M153.9 131.6h0M215.3 119.6h0M247.6 190.7h0M224.3 148.4h0M66.5 281.7h0M65.5 290.2h0M57.4 297.0h0M122.4 229.2h0M48.4 289.5h0M246.7 114.5h0M161.7 177.9h0M86.3 261.9h0M81.6 205.7h0M161.1 187.0h0M232.4 117.1h0M80.1 262.6h0M199.3 156.6h0M293.5 65.6h0M287.4 50.0h0M268.0 93.6h0M81.4 247.0h0M162.2 193.0h0M242.1 150.9h0M62.2 270.8h0M150.8 230.3h0M286.7 53.5h0M276.9 69.4h0M65.0 268.4h0M88.0 271.9h0M320.2 28.4h0M172.6 206.4h0M117.9 243.9h0M308.8 67.1h0M109.7 280.7h0M214.3 171.5h0M302.6 63.1h0M227.9 77.4h0M97.1 277.9h0M313.5 37.9h0M43.9 305.9h0M213.8 131.8h0M173.3 224.8h0M267.4 81.5h0M90.4 259.6h0M169.8 202.4h0M96.9 253.6h0M100.1 245.2h0M86.4 261.7h0M149.8 146.6h0M295.0 39.7h0M158.5 153.2h0M272.2 79.7h0M66.3 287.4h0M65.2 293.0h0M98.9 287.9h0M74.1 271.4h0M222.8 157.9h0M132.4 169.0h0M237.5 98.2h0M165.4 189.5h0M277.2 63.9h0M160.9 200.8h0M59.9 290.4h0M200.6 126.1h0M79.6 274.2h0M228.0 178.8h0M164.8 198.1h0M310.7 38.3h0M180.6 233.7h0M83.8 263.5h0M210.7 85.2h0M168.9 156.0h0M123.7 240.8h0M157.6 187.6h0M160.3 269.6h0M291.3 52.9h0M156.1 243.7h0M219.6 124.0h0M273.0 79.9h0M92.2 243.9h0M123.6 202.6h0M181.3 232.2h0M99.6 270.6h0M83.1 236.7h0M293.7 47.5h0M270.6 64.3h0M275.3 64.8h0M157.7 203.2h0M308.5 33.8h0M183.1 204.6h0M149.5 191.8h0M158.2 156.4h0M158.3 143.3h0M226.8 70.4h0M116.7 139.0h0M50.1 298.8h0M115.6 251.7h0M191.6 113.9h0M139.5 258.1h0M91.1 175.4h0M231.8 108.5h0M307.6 35.3h0M171.2 233.8h0M129.4 181.4h0M312.8 39.2h0M53.0 291.1h0M182.6 136.1h0M58.1 296.3h0M307.3 40.1h0M79.3 243.5h0M212.2 190.9h0M80.9 291.5h0M152.6 197.5h0M106.2 254.7h0M118.8 238.7h0M99.8 279.9h0M171.8 246.6h0M127.4 245.9h0M125.0 242.3h0M268.2 82.1h0M147.1 139.5h0M116.8 145.2h0M76.5 293.2h0M118.8 259.4h0M199.8 132.2h0M102.7 119.3h0M63.0 293.8h0M100.2 199.4h0M48.7 299.5h0M259.9 119.6h0M131.8 242.7h0M260.2 69.5h0M185.8 162.1h0M271.2 66.6h0M168.8 239.1h0M293.4 67.9h0M228.6 194.4h0M45.9 301.8h0M210.3 131.0h0M259.4 93.3h0M248.8 96.9h0M143.3 180.1h0M66.5 289.0h0M270.3 104.4h0M260.1 82.6h0M299.4 61.7h0M153.7 217.7h0M128.3 235.4h0M86.8 190.1h0M157.3 193.7h0M263.7 170.6h0M90.4 257.4h0M294.7 46.2h0M135.4 196.3h0M61.9 296.9h0M292.1 53.0h0M159.1 181.3h0M269.8 130.4h0M49.7 306.3h0M320.8 39.0h0M126.6 261.8h0M172.5 135.6h0M135.6 169.4h0M104.9 248.0h0M108.8 270.1h0M64.5 292.3h0M212.5 150.1h0M202.9 138.1h0M216.1 124.8h0M182.2 128.1h0M256.7 92.8h0M313.1 29.3h0M163.3 136.3h0M79.6 247.6h0M81.8 242.2h0M145.3 237.2h0M198.7 177.3h0M85.6 180.8h0M147.3 265.4h0M215.9 213.7h0M60.6 294.4h0M120.9 151.2h0M225.5 212.4h0M258.8 171.0h0M215.9 93.7h0M318.6 28.2h0M184.0 211.1h0M237.2 149.6h0M85.5 237.5h0M223.8 111.6h0M128.1 229.9h0M282.4 73.9h0M91.3 252.5h0M43.5 306.2h0M115.2 184.0h0M135.8 226.0h0M98.8 271.2h0M278.3 109.1h0M122.2 260.9h0M247.9 74.3h0M205.1 107.9h0M83.7 244.8h0M283.1 58.4h0M271.2 79.2h0M315.3 27.3h0M200.5 218.4h0M120.1 246.2h0M292.6 39.1h0M169.5 185.2h0M51.7 297.7h0M189.8 155.9h0M114.4 174.5h0M92.7 254.6h0M140.7 213.3h0M240.4 160.8h0M296.6 60.9h0M181.6 208.0h0M175.5 209.5h0M308.7 55.8h0M221.9 144.8h0M64.9 297.3h0M290.4 54.9h0M183.7 159.8h0M140.8 265.6h0M45.5 305.2h0M302.0 63.2h0M49.1 297.6h0M321.6 48.3h0M159.2 180.7h0M305.7 41.1h0M301.1 39.3h0M201.7 123.5h0M315.5 61.8h0M188.3 180.4h0M66.0 273.2h0M300.6 34.6h0M183.4 199.7h0M304.7 50.4h0M131.5 247.3h0M233.2 133.2h0M231.2 193.9h0M107.2 208.1h0M230.2 93.1h0M257.2 168.7h0M178.4 207.6h0M198.1 121.5h0M312.0 47.6h0M192.5 201.0h0M290.0 44.7h0M56.2 297.0h0M85.0 282.3h0M309.0 32.7h0M206.4 131.8h0M294.0 67.8h0M309.6 34.9h0M116.0 148.7h0M114.8 220.8h0M282.1 115.8h0M271.2 101.3h0M272.1 137.9h0M251.3 138.7h0M199.0 94.5h0M47.9 302.0h0M273.8 76.9h0M106.1 200.5h0M316.2 50.7h0M70.2 287.3h0M203.6 191.7h0M138.6 105.8h0M136.3 122.3h0M152.8 241.8h0M181.7 103.1h0M177.8 170.7h0M214.9 181.1h0M251.8 106.5h0M291.8 47.2h0M237.9 111.3h0M92.6 257.0h0M81.0 251.1h0M309.9 26.9h0M74.9 268.9h0M124.2 213.3h0M177.0 238.8h0M274.2 64.2h0M291.5 45.0h0M307.2 58.6h0M48.6 303.4h0M217.0 88.6h0M305.8 31.8h0M208.1 223.5h0M194.1 156.6h0M251.2 137.5h0M138.4 205.9h0M262.6 155.6h0M206.1 120.3h0M291.4 38.2h0M245.5 105.4h0M81.1 276.9h0M200.7 101.1h0M76.8 240.3h0M168.9 128.6h0M49.1 299.1h0M48.0 302.6h0M47.2 298.9h0M44.4 305.3h0M254.8 132.9h0M135.4 232.1h0M207.2 163.0h0M159.1 124.3h0M89.7 252.7h0M57.7 301.2h0M220.7 147.9h0M296.0 65.8h0M295.7 87.7h0M222.1 139.4h0M216.6 166.2h0M144.9 193.2h0M220.3 179.2h0M208.0 155.4h0M269.1 87.6h0M46.5 302.9h0M55.0 295.7h0M151.7 220.0h0M135.7 232.5h0M226.8 142.6h0M259.0 89.9h0M54.3 299.8h0M106.8 236.9h0M228.8 163.6h0M63.6 282.3h0M71.0 257.4h0M249.6 95.3h0M298.8 50.7h0M244.2 204.7h0M209.6 125.3h0M106.4 193.8h0M187.4 201.3h0M216.1 205.3h0M102.5 273.3h0M285.8 73.5h0M269.3 116.1h0M164.9 201.2h0M97.8 212.2h0M249.3 81.7h0M274.7 69.5h0M248.2 135.1h0M256.1 140.2h0M140.4 239.1h0M95.0 266.3h0M179.8 220.4h0M108.7 256.2h0M175.1 257.3h0M163.7 198.6h0M257.8 64.6h0M88.5 274.1h0M186.2 242.7h0M95.6 257.7h0M144.7 225.6h0M96.6 240.7h0M63.7 292.4h0M246.3 78.2h0M157.4 266.1h0M214.8 117.6h0M96.2 214.9h0M161.4 234.5h0M186.6 96.6h0M136.6 190.8h0M267.6 99.1h0M112.2 262.0h0M95.8 263.9h0M72.0 278.8h0M175.8 270.5h0M254.7 144.3h0M267.8 91.7h0M302.3 45.3h0M96.3 264.7h0M265.1 164.9h0M119.7 256.8h0M308.5 33.1h0M195.3 124.3h0M319.0 28.8h0M280.4 74.2h0M301.3 46.4h0M149.0 253.3h0M142.5 227.0h0M209.8 161.4h0M170.3 216.4h0M124.7 245.4h0M234.1 130.8h0M161.9 191.1h0M167.7 215.9h0M300.2 36.2h0M149.6 194.9h0M138.8 211.4h0M189.3 219.9h0M109.1 202.1h0M262.9 72.6h0M227.2 148.7h0M94.6 234.4h0M188.2 120.3h0M121.0 182.0h0M61.6 290.1h0M78.8 289.4h0M68.7 284.6h0M268.7 63.0h0M46.0 302.0h0M252.5 145.1h0M131.4 280.8h0M159.4 200.6h0M259.0 95.4h0M134.8 207.1h0M54.0 299.0h0M197.9 183.4h0M100.1 170.2h0M285.1 59.7h0M285.3 88.3h0M111.4 150.1h0M233.1 109.5h0M111.1 224.5h0M45.5 303.1h0M105.8 243.8h0M318.3 43.4h0M212.4 125.4h0M145.7 244.2h0M185.6 154.1h0M201.9 229.1h0M132.0 168.4h0M84.8 269.2h0M211.3 182.7h0M104.0 254.8h0M211.3 129.5h0M110.0 231.7h0M259.8 125.1h0M281.1 73.2h0M225.9 100.5h0M47.8 293.6h0M156.5 242.4h0M138.2 198.7h0M283.4 49.5h0M246.4 175.6h0M295.1 72.8h0M294.2 48.4h0M173.4 244.9h0M274.1 90.4h0M120.5 240.9h0M166.3 207.5h0M174.8 123.4h0M105.7 255.5h0M253.7 111.8h0M81.7 209.7h0M68.4 295.8h0M133.0 268.1h0M43.7 305.7h0M216.8 107.3h0M172.2 196.2h0M163.2 136.9h0M175.9 197.7h0M132.7 169.3h0M305.3 42.3h0M208.2 152.4h0M56.9 290.5h0M220.8 186.9h0M229.0 107.9h0M66.7 292.3h0M298.3 64.1h0M305.4 26.2h0M231.6 192.3h0M214.4 165.8h0M204.1 202.4h0M80.4 253.1h0M216.2 182.1h0M87.0 267.0h0M103.4 223.3h0M138.2 176.6h0M96.1 251.7h0M130.5 171.3h0M81.4 283.2h0M314.9 51.5h0M165.0 149.6h0M46.5 303.9h0M288.1 41.3h0M117.5 190.4h0M45.3 302.3h0M307.3 40.8h0M245.9 100.2h0M295.4 112.8h0M183.8 102.3h0M97.8 277.3h0M55.2 298.4h0M289.6 80.0h0M154.6 208.3h0M194.6 213.4h0M201.3 203.5h0M88.1 278.4h0M132.6 280.9h0M52.1 292.9h0M69.0 281.7h0M311.0 38.8h0M142.9 216.6h0M301.4 56.2h0M179.6 169.2h0M64.2 298.9h0M215.0 147.5h0M286.2 88.7h0M43.5 306.3h0M112.9 162.6h0M184.0 182.6h0M84.3 206.1h0M102.7 258.4h0M188.7 96.5h0M227.3 224.3h0M169.2 225.0h0M160.8 132.7h0M129.5 175.4h0M155.9 173.3h0M89.9 275.4h0M92.7 247.5h0M76.9 278.3h0M121.5 280.6h0M262.2 147.7h0M157.5 237.0h0M251.6 126.4h0M57.0 300.7h0M195.8 195.5h0M54.7 302.5h0M267.2 157.6h0M254.3 126.7h0M247.2 192.2h0M288.0 77.9h0M293.6 39.7h0M104.1 235.7h0M94.4 262.8h0M99.8 265.8h0M217.0 184.2h0M289.4 53.6h0M249.8 95.0h0M228.9 108.1h0M278.6 74.8h0M105.8 177.9h0M190.5 94.4h0M163.8 265.7h0M229.8 129.7h0M135.2 186.7h0M52.5 293.3h0M298.5 41.5h0M305.2 36.1h0M281.4 94.1h0M208.1 98.7h0M308.3 31.9h0M145.4 201.8h0M176.0 178.9h0M107.1 238.6h0M79.8 275.6h0M192.1 193.6h0M196.7 206.0h0M82.9 287.0h0M106.5 266.0h0M73.3 290.9h0M157.2 194.9h0M223.2 133.5h0M114.9 219.5h0M175.7 114.1h0M221.6 108.2h0M157.9 141.3h0M136.8 193.7h0M68.8 278.7h0M47.6 304.2h0M179.7 209.4h0M185.4 218.0h0M260.0 100.3h0M222.2 159.0h0M54.9 289.0h0M192.7 172.1h0M301.0 47.0h0M151.3 259.8h0M223.4 122.9h0M193.9 159.3h0M47.6 301.9h0M80.0 256.7h0M68.0 276.6h0M229.5 171.4h0M296.8 66.4h0M312.4 46.9h0M284.9 59.5h0M312.5 46.5h0M203.2 162.9h0M60.9 273.4h0M104.0 281.2h0M248.9 206.6h0M284.7 54.7h0M101.2 241.2h0M130.6 270.0h0M250.3 173.6h0M304.1 55.8h0M69.5 256.4h0M67.2 282.2h0M159.6 210.0h0M291.9 60.9h0M266.7 117.3h0M252.1 85.1h0M259.3 86.9h0M279.0 96.2h0M181.8 139.8h0M187.4 213.5h0M212.1 229.6h0M60.3 274.0h0M239.9 162.6h0M234.4 139.0h0M281.6 62.6h0M298.1 38.9h0M59.0 294.1h0M209.9 241.9h0M302.9 93.8h0M242.5 129.7h0M247.7 86.0h0M297.5 55.0h0M133.8 222.7h0M137.6 200.1h0M195.7 144.7h0M99.1 242.6h0M253.4 171.8h0M242.4 135.7h0M211.4 145.1h0M223.8 154.7h0M315.0 44.4h0M285.4 77.2h0M116.4 212.9h0M191.9 181.0h0M181.5 91.3h0M305.9 43.1h0M197.4 145.1h0M136.2 131.5h0M97.4 207.6h0M219.5 118.1h0M251.6 90.7h0M105.8 275.1h0M315.1 37.5h0M132.5 223.6h0M134.6 184.4h0M228.4 175.6h0M160.9 238.5h0M69.9 280.3h0M173.6 200.4h0M77.3 256.7h0M129.8 243.4h0M314.2 50.3h0M169.5 149.9h0M113.3 221.1h0M321.6 28.5h0M81.1 287.9h0M304.7 42.1h0M124.3 242.0h0M235.1 151.6h0M288.4 54.4h0M262.3 72.1h0M269.6 86.3h0M155.0 215.0h0M77.1 294.5h0M217.3 148.0h0M278.9 108.8h0M61.4 272.8h0M317.3 27.4h0M91.3 259.4h0M114.5 194.6h0M53.9 297.1h0M207.6 109.4h0M296.0 69.6h0M151.0 181.0h0M108.3 171.4h0M56.3 298.0h0M131.7 227.6h0M210.3 131.1h0M100.5 253.7h0M199.1 151.2h0M206.0 132.9h0M134.9 176.8h0M169.2 217.4h0M44.7 304.8h0M298.7 57.7h0M218.6 183.5h0M246.2 115.0h0M313.7 28.6h0M203.6 197.4h0M200.7 151.6h0M95.4 224.8h0M178.8 140.7h0M163.1 153.4h0M79.7 241.3h0M176.4 251.0h0M287.2 67.7h0M110.9 240.2h0M99.2 140.3h0M308.6 45.4h0M125.5 207.5h0M298.0 43.6h0M76.6 250.7h0M184.7 224.5h0M278.0 100.6h0M76.5 258.1h0M79.4 261.0h0M318.0 48.2h0M141.8 166.2h0M230.4 116.4h0M170.4 220.3h0M196.4 113.0h0M322.4 39.2h0M79.5 270.6h0M248.4 133.6h0M157.7 133.4h0M80.6 275.9h0M92.0 275.9h0M59.3 291.4h0M189.1 208.5h0M258.6 106.3h0M184.3 240.9h0M86.1 237.6h0M271.4 110.9h0M64.9 228.5h0M166.0 155.0h0M165.8 188.4h0M283.9 59.3h0M174.0 133.3h0M292.8 52.6h0M146.3 180.7h0M57.9 296.0h0M48.9 298.4h0M274.4 117.8h0M167.4 204.2h0M305.4 59.0h0M195.4 172.1h0M98.7 253.9h0M147.8 155.6h0M298.0 44.1h0M108.7 198.2h0M156.3 216.5h0M291.9 77.2h0M148.5 135.3h0M85.0 210.4h0M270.6 83.8h0M255.2 76.8h0M53.4 291.5h0M187.2 142.8h0M188.4 230.5h0M116.6 233.9h0M48.2 298.8h0M290.8 49.5h0M268.0 59.1h0M187.0 174.8h0M203.1 145.6h0M49.9 301.7h0M226.7 130.3h0M259.8 112.4h0M226.6 174.3h0M248.3 148.9h0M58.2 292.9h0M108.1 235.9h0M129.1 203.2h0M230.4 206.3h0M194.2 169.8h0M223.3 177.1h0M108.6 256.1h0M296.2 43.6h0M130.7 230.1h0M291.6 60.5h0M48.8 297.2h0M85.0 263.1h0M106.2 284.9h0M171.5 104.8h0M311.5 66.3h0M244.5 99.0h0M69.3 274.2h0M50.6 285.3h0M271.1 62.3h0M192.4 98.2h0M66.3 287.4h0M280.0 90.7h0M137.1 214.7h0M299.2 52.8h0M255.5 156.7h0M176.5 175.5h0M50.7 292.8h0M71.2 282.6h0M311.3 36.7h0M185.8 114.1h0M200.4 89.4h0M168.6 213.8h0M267.1 121.2h0M127.0 215.4h0M111.0 260.2h0M221.9 115.8h0M154.8 235.8h0M266.5 80.6h0M285.3 56.3h0M272.6 166.8h0M111.5 223.7h0M173.7 259.9h0M86.8 250.6h0M124.6 247.3h0M225.5 153.3h0M306.1 74.5h0M205.6 192.5h0M94.4 217.4h0M269.2 178.8h0M302.6 32.0h0M239.5 86.4h0M109.8 205.2h0M310.0 39.5h0M46.4 304.6h0M183.0 191.5h0M52.7 288.7h0M177.2 139.1h0M296.7 40.0h0M302.5 33.1h0M163.9 210.4h0M232.6 165.9h0M225.3 114.7h0M121.8 228.6h0M230.0 135.5h0M107.0 260.8h0M94.3 173.6h0M292.2 36.0h0M174.3 141.5h0M216.7 168.4h0M113.4 264.8h0M155.0 231.4h0M311.0 39.1h0M190.2 138.3h0M71.5 260.8h0M121.3 182.8h0M176.3 249.3h0M191.0 200.2h0M240.7 142.9h0M295.6 56.9h0M173.5 220.3h0M133.6 207.0h0M197.0 134.4h0M219.3 112.6h0M264.8 86.1h0M116.9 194.0h0M233.8 171.9h0M176.1 144.0h0M249.4 204.0h0M179.3 244.6h0M229.7 144.1h0M68.6 292.4h0M298.2 38.1h0M196.5 142.6h0M276.5 63.4h0M245.0 113.4h0M205.4 235.0h0M280.8 76.9h0M276.3 67.5h0M281.3 141.7h0M105.6 245.0h0M222.1 164.3h0M316.2 35.2h0M247.1 82.3h0M174.1 178.7h0M174.7 202.8h0M119.6 195.1h0M224.4 111.0h0M110.4 282.8h0M198.3 129.5h0M218.2 126.3h0M168.3 160.6h0M274.8 79.7h0M116.3 197.3h0M211.0 175.0h0M224.7 91.5h0M236.4 95.1h0M113.7 258.6h0M155.8 152.7h0M118.3 197.6h0M204.1 151.8h0M197.0 173.4h0M83.3 273.1h0M250.7 152.8h0M228.7 185.7h0M124.0 207.3h0M198.2 133.8h0M248.6 75.7h0M52.6 305.1h0M107.4 213.8h0M289.7 70.7h0M62.2 272.9h0M309.9 44.9h0M139.3 209.0h0M158.8 182.2h0M214.0 169.3h0M280.8 68.6h0M228.7 167.7h0M78.2 254.4h0M266.5 62.6h0M60.2 298.1h0M297.2 81.9h0M125.3 203.3h0M248.1 82.7h0M90.6 270.7h0M73.4 280.9h0M290.5 53.2h0M172.1 127.2h0M272.4 149.4h0M237.3 208.7h0M166.9 143.4h0M149.9 216.3h0M238.1 158.3h0M217.8 128.6h0M278.3 75.9h0M135.0 187.7h0M216.7 171.3h0M154.2 168.0h0M214.8 141.4h0M116.2 224.1h0M136.5 146.7h0M85.9 242.5h0M76.6 283.2h0M186.8 108.0h0M159.9 220.5h0M85.3 258.1h0M197.6 157.8h0M235.4 154.3h0M187.0 161.6h0M170.2 183.4h0M102.0 202.7h0M82.0 276.9h0M55.5 302.6h0M269.0 108.6h0M78.6 289.4h0M187.1 144.5h0M51.5 292.1h0M96.1 260.2h0M298.9 69.2h0M294.1 48.7h0M310.1 42.3h0M276.2 72.4h0M312.7 36.6h0M181.4 124.5h0M244.1 101.0h0M191.3 144.3h0M180.0 214.3h0M193.6 153.7h0M174.2 215.7h0M249.3 122.7h0M304.8 31.1h0M85.9 265.3h0M133.4 155.0h0M149.3 112.3h0M234.0 116.2h0M259.5 78.7h0M89.7 289.8h0M97.2 265.3h0M231.4 71.5h0M269.5 113.1h0M147.4 137.3h0M315.2 57.3h0M57.4 278.8h0M70.7 225.1h0M211.6 209.7h0M208.8 225.8h0M264.5 84.4h0M219.2 157.7h0M264.2 71.2h0M192.2 164.0h0M308.8 41.7h0M270.5 113.9h0M172.4 226.5h0M303.4 33.5h0M306.3 65.7h0M313.9 33.6h0M139.7 253.4h0M280.4 76.2h0M129.3 200.4h0M304.9 57.7h0M107.1 235.6h0M166.2 202.1h0M286.3 53.7h0M172.7 220.6h0M91.8 234.4h0M282.0 92.1h0M172.9 199.3h0M246.9 98.8h0M206.6 166.1h0M138.9 203.8h0M263.6 70.9h0M168.2 155.1h0M200.0 147.6h0M83.6 242.8h0M119.3 233.7h0M62.5 290.6h0M123.4 241.6h0M77.5 248.4h0M268.4 110.0h0M162.2 169.5h0M186.8 259.3h0M201.0 128.4h0M271.8 107.8h0M235.8 71.9h0M169.6 137.0h0M131.6 222.9h0M122.6 190.0h0M318.7 33.9h0M310.3 31.7h0M297.8 68.9h0M45.3 303.9h0M159.5 201.5h0M265.4 70.9h0M194.4 153.5h0M295.9 57.1h0M231.1 82.9h0M149.1 161.5h0M253.5 93.5h0M251.5 132.2h0M212.9 103.8h0M222.0 123.1h0M223.2 136.7h0M170.7 157.2h0M203.0 106.6h0M136.9 174.9h0M142.7 250.0h0M282.4 87.5h0M258.7 128.0h0M208.7 133.0h0M153.5 195.4h0M95.4 250.4h0M264.4 144.3h0M138.2 254.5h0M310.0 30.9h0M226.4 98.5h0M159.4 248.3h0M84.5 188.0h0M270.9 96.2h0M129.8 252.4h0M129.6 249.1h0M239.4 112.1h0M45.1 304.5h0M144.0 239.4h0M141.0 245.3h0M209.5 97.4h0M153.4 189.7h0M158.3 117.9h0M302.9 48.7h0M285.5 63.2h0M202.6 107.5h0M252.7 91.8h0M154.9 120.6h0M51.5 300.0h0M154.7 150.3h0M118.1 268.9h0M126.8 222.1h0M271.3 71.3h0M52.4 303.5h0M244.4 120.5h0M128.1 221.3h0M320.2 45.9h0M228.3 146.3h0M298.6 49.7h0M72.4 271.5h0M236.7 102.7h0M52.3 288.7h0M119.1 260.5h0M232.9 131.9h0M303.2 35.7h0M294.8 43.7h0M283.8 52.2h0M145.2 222.7h0M88.4 262.1h0M236.0 79.0h0M129.7 175.0h0M110.5 228.1h0M196.4 187.9h0M75.2 256.9h0M187.8 209.5h0M197.2 198.0h0M84.1 257.7h0M166.3 144.7h0M103.8 216.4h0M132.1 229.3h0M270.5 108.7h0M221.2 155.2h0M161.5 115.4h0M152.9 159.3h0M206.3 123.7h0M129.3 285.0h0M168.1 146.8h0M127.3 220.9h0M293.8 44.2h0M268.2 77.9h0M268.5 75.4h0M152.1 146.0h0M263.2 70.2h0M166.4 199.0h0M45.2 305.4h0M78.1 267.8h0M73.5 249.3h0M252.0 76.0h0M208.5 174.0h0M193.6 222.7h0M231.3 110.9h0M95.1 277.4h0M198.9 123.2h0M124.0 250.3h0M133.8 187.7h0M257.4 122.0h0M184.6 219.5h0M88.7 275.4h0M159.3 256.0h0M158.7 99.8h0M210.1 186.6h0M272.6 71.1h0M321.8 39.2h0M220.7 89.2h0M140.1 208.3h0M300.5 36.7h0M57.1 296.8h0M259.1 79.5h0M129.0 221.5h0M254.5 91.2h0M296.6 47.9h0M272.6 143.1h0M201.8 177.0h0M314.4 38.9h0M206.9 170.6h0M272.4 112.0h0M94.7 264.4h0M164.7 217.7h0M146.5 180.0h0M295.5 37.7h0M216.1 103.1h0M278.1 60.1h0M253.1 215.7h0M294.6 32.1h0M133.5 158.7h0M114.0 156.9h0M321.9 37.0h0M67.2 283.5h0M280.6 57.4h0M69.8 288.8h0M267.6 120.9h0M295.3 42.5h0M111.3 166.7h0M126.2 152.1h0M227.7 178.5h0M241.5 78.0h0M85.3 279.3h0M299.6 55.2h0M311.9 35.2h0M67.6 280.1h0M47.8 293.1h0M314.1 44.0h0M178.7 195.6h0M123.3 237.1h0M287.6 74.0h0M317.0 45.9h0M264.2 107.1h0M270.4 65.1h0M161.2 169.6h0M101.2 215.3h0M53.8 291.3h0M257.5 92.0h0M86.0 270.4h0M177.4 206.2h0M63.0 271.8h0M46.9 299.8h0M64.1 272.4h0M107.0 204.3h0M297.6 31.5h0M166.0 167.2h0M306.0 27.9h0M81.0 237.5h0M178.5 200.9h0M170.8 164.4h0M130.3 257.8h0M165.0 143.7h0M220.5 162.7h0M116.1 239.8h0M179.5 201.1h0M178.6 133.2h0M153.8 153.0h0M54.3 279.7h0M247.9 156.8h0M302.3 80.4h0M238.4 106.7h0M100.5 222.3h0M230.5 76.0h0M228.1 168.5h0M93.6 257.0h0M53.6 296.3h0M87.9 258.3h0M145.0 184.4h0M99.5 248.5h0M245.1 150.5h0M243.9 173.9h0M88.9 177.7h0M305.2 57.1h0M157.0 129.4h0M199.9 168.8h0M102.1 265.0h0M232.2 195.2h0M127.8 229.4h0M180.8 172.7h0M180.6 177.2h0M97.6 261.2h0M227.3 162.2h0M227.5 110.6h0M319.7 27.0h0M156.9 176.3h0M80.4 238.2h0M226.5 175.8h0M108.5 257.3h0M87.9 260.7h0M226.5 174.6h0M195.5 136.5h0M66.9 276.2h0M270.1 74.1h0M211.0 158.6h0M301.6 33.5h0M142.3 145.0h0M157.6 183.2h0M240.1 141.8h0M218.1 180.1h0M124.1 230.3h0M125.1 259.2h0M278.2 71.8h0M315.0 38.6h0M74.2 256.9h0M286.3 82.0h0M102.8 258.3h0M197.8 137.1h0M199.6 171.1h0M139.9 174.2h0M93.0 193.3h0M266.8 160.1h0M259.7 89.6h0M136.5 185.8h0M80.7 263.8h0M187.2 195.9h0M128.0 197.3h0M271.6 148.3h0M168.0 180.0h0M143.5 241.7h0M221.3 131.4h0M230.9 75.2h0M209.7 145.7h0M134.5 241.7h0M287.5 47.1h0M268.3 82.2h0M304.5 44.5h0M271.7 141.4h0M235.6 240.2h0M213.0 135.0h0M90.3 267.6h0M127.5 227.3h0M123.3 211.6h0M90.5 259.0h0M207.5 175.1h0M147.1 249.1h0M124.2 252.9h0M303.4 26.6h0M245.2 130.4h0M178.0 138.9h0M213.7 109.3h0M142.1 268.5h0M96.2 254.2h0M259.7 78.8h0M261.1 66.6h0M313.2 54.7h0M212.2 115.1h0M228.2 152.4h0M190.9 163.8h0M49.9 304.8h0M54.5 269.2h0M165.2 193.9h0M65.5 276.0h0M170.2 134.6h0M193.4 91.9h0M87.2 253.0h0M207.5 201.2h0M62.5 263.5h0M251.3 84.0h0M187.6 176.7h0M251.4 92.9h0M262.7 125.2h0M104.2 266.6h0M201.2 178.7h0M164.3 183.1h0M194.1 182.6h0M72.4 278.9h0M181.9 188.0h0M154.3 129.8h0M272.8 105.7h0M199.8 207.8h0M107.6 241.8h0M240.2 121.3h0M212.4 126.0h0M77.2 286.3h0M56.6 297.7h0M210.5 136.8h0M132.5 214.5h0M77.6 283.3h0M54.2 300.3h0M64.7 291.2h0M297.8 46.5h0M130.6 199.6h0M59.1 292.7h0M150.4 215.9h0M65.4 288.1h0M299.4 45.2h0M238.3 172.2h0M283.7 80.9h0M303.2 41.2h0M235.2 116.3h0M97.6 253.7h0M90.2 154.0h0M193.2 203.8h0M126.8 239.7h0M242.9 100.9h0M160.6 164.2h0M304.3 53.3h0M225.1 121.9h0M174.6 150.7h0M295.7 48.1h0M200.9 109.7h0M161.5 159.0h0M103.2 273.0h0M109.4 242.9h0M281.0 94.0h0M131.5 251.1h0M131.1 174.9h0M62.8 288.2h0M116.1 249.0h0M97.2 249.9h0M282.5 60.2h0M98.3 267.6h0M270.7 67.7h0M147.7 132.6h0M285.0 54.1h0M183.8 168.8h0M302.2 31.5h0M171.8 118.0h0M314.6 34.0h0M286.0 99.7h0M237.0 90.1h0M319.4 42.7h0M159.7 201.9h0M196.8 231.7h0M46.4 301.4h0M71.0 287.3h0M63.2 287.5h0M52.9 303.4h0M306.6 35.8h0M291.8 48.9h0M240.8 146.8h0M126.5 200.7h0M58.7 286.0h0M147.9 179.2h0M119.5 205.1h0M165.3 136.6h0M44.7 303.3h0M111.4 202.9h0M312.6 49.1h0M123.7 242.8h0M111.1 258.7h0M176.7 187.5h0M122.8 184.7h0M316.6 30.8h0M50.4 296.6h0M260.6 123.4h0M304.6 56.9h0M151.3 238.9h0M53.3 299.2h0M288.3 52.3h0M117.4 158.1h0M241.2 74.5h0M186.7 109.4h0M63.6 287.8h0M159.9 211.5h0M117.1 206.9h0M64.4 279.2h0M234.0 150.8h0M170.4 238.2h0M229.7 169.4h0M151.7 239.3h0M52.7 298.5h0M169.4 189.2h0M288.6 80.1h0M90.1 279.1h0M242.0 102.0h0M161.3 196.5h0M73.2 279.1h0M321.9 33.7h0M249.5 124.7h0M56.3 289.6h0M122.9 249.7h0M55.9 299.4h0M277.6 63.9h0M181.3 232.6h0M137.4 148.5h0M156.8 217.8h0M309.4 67.0h0M266.4 143.3h0M261.2 181.5h0M46.2 305.2h0M188.9 209.4h0M263.1 64.4h0M166.1 238.8h0M229.4 79.9h0M144.3 195.9h0M120.3 216.5h0M151.6 246.0h0M233.0 120.2h0M96.7 271.0h0M174.4 179.6h0M124.5 122.8h0M208.6 130.7h0M61.5 271.5h0M218.5 206.7h0M301.7 52.1h0M145.6 132.7h0M48.2 287.5h0M315.6 44.9h0M212.0 214.3h0M95.9 232.9h0M91.9 274.3h0M61.2 294.3h0M278.5 56.1h0M102.3 267.0h0M280.1 88.4h0M301.0 40.7h0M56.0 298.8h0M122.3 212.8h0M157.8 194.3h0M215.2 115.5h0M242.8 101.0h0M133.1 193.6h0M86.5 243.5h0M53.2 301.0h0M67.5 296.4h0M55.0 288.0h0M189.4 215.0h0M95.5 219.3h0M120.2 197.2h0M171.6 163.2h0M277.2 61.5h0M113.6 275.2h0M84.5 267.2h0M205.2 170.3h0M291.7 67.7h0M102.6 253.8h0M223.9 97.3h0M193.2 151.1h0M83.8 239.3h0M317.8 49.8h0M226.7 115.3h0M253.3 83.3h0M243.2 155.8h0M290.0 44.0h0M166.9 200.8h0M140.5 228.3h0M238.9 102.9h0M252.8 142.1h0M111.8 183.9h0M152.2 213.8h0M152.5 210.3h0M165.2 153.9h0M188.2 198.3h0M48.0 297.5h0M85.1 283.6h0M213.5 157.0h0M92.4 218.6h0M288.9 59.4h0M47.3 291.9h0M316.1 47.8h0M142.4 150.4h0M111.6 262.5h0M235.0 127.0h0M167.6 187.3h0M225.1 135.1h0M272.2 63.1h0M199.7 164.6h0M57.6 279.7h0M135.2 267.1h0M242.7 107.1h0M164.0 167.4h0M230.2 105.4h0M307.9 29.2h0M160.7 235.4h0M93.7 261.9h0M240.6 76.8h0M56.4 284.8h0M236.9 162.7h0M241.7 76.6h0M167.4 179.3h0M130.9 225.4h0M140.0 172.5h0M307.0 37.0h0M177.1 200.9h0M243.7 89.6h0M190.0 117.4h0M109.2 244.3h0M95.6 246.5h0M204.7 215.6h0M290.0 52.7h0M79.1 226.0h0M173.9 196.2h0M263.3 79.2h0M173.2 160.8h0M114.3 224.9h0M268.6 104.5h0M257.2 97.9h0M85.8 218.9h0M86.9 272.4h0M79.3 269.8h0M217.8 192.0h0M278.6 71.2h0M208.3 115.1h0M318.3 36.0h0M178.4 146.2h0M87.8 216.8h0M119.0 211.1h0M91.2 267.3h0M134.4 225.3h0M77.2 230.6h0M232.7 154.6h0M243.2 217.8h0M266.2 66.6h0M70.2 235.1h0M141.4 177.1h0M202.5 229.4h0M188.8 123.6h0M310.2 38.7h0M243.8 106.4h0M184.0 138.5h0M271.9 63.6h0M126.2 173.9h0M112.8 184.5h0M57.2 297.8h0M141.1 191.8h0M251.9 103.8h0M267.5 113.6h0M151.8 191.8h0M122.5 216.7h0M244.6 208.9h0M229.3 166.1h0M235.5 113.3h0M50.0 300.5h0M88.3 231.8h0M115.8 234.6h0M306.3 45.1h0M134.2 256.5h0M67.4 278.0h0M302.8 44.7h0M224.6 105.5h0M121.8 186.8h0M60.8 294.0h0M198.6 211.2h0M254.0 139.9h0M311.1 32.8h0M92.5 273.8h0M149.9 175.9h0M290.3 49.6h0M261.3 108.1h0M175.9 115.3h0M172.1 223.8h0M58.4 283.4h0M88.3 273.8h0M312.7 28.7h0M242.2 97.5h0M155.1 169.7h0M89.6 249.7h0M153.4 226.4h0M163.8 136.8h0M59.1 293.7h0M245.6 149.8h0M303.0 46.4h0M59.2 255.2h0M115.7 221.3h0M307.3 54.6h0M201.9 182.1h0M227.4 97.8h0M55.9 270.1h0M211.9 192.4h0M225.9 115.6h0M262.4 121.3h0M61.5 271.6h0M155.4 217.3h0M178.8 168.9h0M205.7 121.7h0M44.3 305.5h0M218.4 152.8h0M261.0 132.4h0M54.6 284.1h0M208.0 160.8h0M184.8 208.5h0M151.1 160.3h0M68.2 284.4h0M316.0 30.3h0M182.5 164.2h0M78.5 261.7h0M283.6 135.2h0M120.5 233.9h0M112.3 258.6h0M219.1 144.4h0M208.3 167.1h0M226.0 137.7h0M240.1 113.1h0M54.0 298.3h0M260.8 82.3h0M74.5 293.6h0M66.6 283.7h0M60.2 294.6h0M293.5 41.9h0M223.6 118.4h0M222.5 233.2h0M197.6 170.1h0M205.1 86.5h0M162.7 140.2h0M90.7 253.7h0M139.8 192.4h0M213.4 105.3h0M170.0 195.9h0M262.9 66.1h0M67.1 279.9h0M155.6 230.3h0M196.4 177.4h0M214.1 141.5h0M198.8 143.7h0M281.1 60.2h0M47.7 300.8h0M213.3 81.7h0M300.0 39.4h0M123.9 190.0h0M292.6 73.3h0M141.1 184.1h0M119.6 233.4h0M222.6 84.3h0M149.7 150.0h0M201.0 121.5h0M93.3 277.3h0M150.1 209.6h0M144.8 217.0h0M142.3 166.6h0M200.3 254.1h0M110.1 227.9h0M199.6 103.2h0M201.6 185.1h0M125.6 146.5h0M299.7 37.8h0M104.8 224.0h0M92.6 278.8h0M236.2 99.5h0M154.4 174.5h0M215.0 90.9h0M307.4 34.2h0M201.8 111.5h0M177.5 103.5h0M149.1 191.7h0M96.8 257.5h0M260.1 170.0h0M208.4 111.1h0M258.5 173.1h0M279.2 89.0h0M256.8 140.6h0M300.9 55.9h0M295.0 104.2h0M134.7 250.8h0M84.8 276.5h0M200.4 173.7h0M142.8 166.5h0M53.9 292.0h0M281.5 51.9h0M204.9 149.1h0M88.2 267.8h0M189.6 144.5h0M204.7 119.5h0M101.4 250.0h0M147.5 146.0h0M270.8 60.6h0M143.4 206.0h0M223.4 229.9h0M221.2 81.3h0M274.5 62.8h0M213.0 133.0h0M100.3 227.5h0M183.6 128.7h0M169.0 174.7h0M107.5 268.7h0M256.8 138.2h0M122.7 225.3h0M82.8 198.6h0M224.6 191.3h0M191.1 203.6h0M260.0 94.2h0M226.3 79.9h0M231.2 99.6h0M220.2 91.5h0M104.4 226.1h0M114.6 235.5h0M283.7 60.4h0M163.6 229.1h0M79.0 277.6h0M171.2 207.9h0M182.7 134.4h0M224.5 181.2h0M263.7 81.1h0" stroke="#F4A65C" stroke-width="1.75" stroke-linecap="round" fill="none"/>
<path d="M325.6 23.9h0M336.7 16.2h0M337.8 23.3h0M327.5 12.5h0M336.9 13.7h0M333.0 25.9h0M326.3 19.4h0M336.4 21.1h0M332.3 20.5h0M329.2 15.4h0M337.6 16.7h0M334.5 21.6h0M329.5 24.0h0M333.5 13.3h0M331.5 22.1h0M337.1 18.7h0M326.2 15.4h0M324.5 17.9h0M336.2 12.7h0M324.9 25.4h0M327.0 25.1h0M328.1 24.4h0M324.0 19.6h0M327.5 12.4h0M324.4 20.8h0M327.8 19.6h0M327.0 13.5h0M327.2 17.0h0M336.3 19.1h0M324.0 25.3h0M331.4 17.2h0M334.3 17.6h0M331.9 22.2h0M334.7 19.3h0M333.6 20.8h0M335.9 15.5h0M327.7 12.3h0M337.9 21.1h0M329.8 16.0h0M323.6 19.7h0M324.2 11.9h0M336.0 14.1h0M336.5 16.9h0M333.5 22.0h0M329.5 18.0h0M324.8 20.9h0M337.3 12.1h0M331.3 12.8h0M328.9 16.6h0M331.2 22.3h0M327.4 17.3h0M330.4 15.9h0M324.2 23.2h0M332.9 16.4h0M324.2 17.5h0M335.5 21.4h0M335.0 25.4h0M325.2 15.1h0M337.0 19.8h0M326.1 24.0h0M336.8 18.0h0M336.4 12.2h0M332.6 12.0h0M333.2 11.6h0M333.7 16.5h0M336.2 17.8h0M334.4 15.3h0M333.1 18.3h0M326.8 17.8h0M334.6 22.4h0M336.1 15.5h0M328.4 22.5h0M329.0 19.2h0M331.6 26.1h0M329.4 22.6h0M335.4 15.7h0M330.2 20.3h0M335.8 12.3h0M324.7 18.0h0M337.1 14.9h0M328.1 23.8h0M329.3 13.4h0M332.2 18.9h0M323.7 20.9h0M331.9 19.5h0M331.5 13.1h0M327.3 17.4h0M325.5 11.9h0M335.6 11.5h0M325.4 15.6h0M325.7 23.4h0M325.2 19.9h0M332.2 12.9h0M337.7 13.6h0M335.2 20.1h0M334.0 19.1h0M337.8 16.9h0M333.8 20.6h0M331.2 21.8h0M327.4 19.4h0M334.6 23.6h0M324.8 17.7h0M330.7 19.9h0M337.5 24.3h0M328.3 20.1h0M333.3 20.1h0M330.4 16.0h0M337.5 15.2h0M333.7 25.2h0M335.8 20.5h0M331.0 22.0h0M328.3 18.6h0M328.8 13.4h0M328.2 14.1h0M330.1 14.5h0M328.3 21.9h0M332.4 23.2h0M330.3 11.5h0M334.4 18.3h0M333.9 23.5h0M337.2 13.2h0M333.9 17.0h0M330.9 25.7h0M328.6 20.4h0M337.3 21.8h0M326.7 17.2h0M330.5 18.5h0M327.7 12.8h0M335.0 14.9h0M336.6 17.7h0M335.3 22.6h0M327.6 23.8h0M329.9 21.3h0M331.7 14.0h0M330.6 13.6h0M333.6 12.6h0M332.4 18.4h0M326.0 17.1h0M323.6 19.0h0M331.6 24.3h0M330.1 13.9h0M331.7 17.1h0M327.3 21.0h0M327.2 21.5h0M333.3 13.8h0M332.7 21.4h0M332.1 12.3h0M334.7 23.3h0M328.7 14.3h0M335.0 17.6h0M329.0 15.0h0M335.3 23.6h0M333.0 26.0h0M326.0 26.1h0M330.7 21.4h0M330.1 13.5h0M333.2 16.8h0M336.6 12.4h0M328.5 15.6h0M325.7 24.8h0M325.9 16.7h0M323.5 22.2h0M329.6 13.8h0M326.2 21.2h0M336.2 12.0h0M332.9 21.5h0M324.9 23.4h0M328.5 12.6h0M331.4 16.7h0M333.8 15.3h0M332.3 20.2h0M338.2 15.8h0M337.7 14.8h0M338.1 15.8h0M334.1 15.0h0M338.0 14.2h0M334.3 18.8h0M334.9 23.1h0M329.7 21.3h0M336.8 22.5h0M329.2 24.8h0M336.7 14.2h0M334.0 11.8h0M326.4 18.8h0M337.6 24.9h0M335.6 14.5h0M331.1 19.1h0M336.0 18.3h0M332.5 18.1h0M334.3 18.7h0M324.6 23.9h0M329.4 24.7h0M324.6 18.5h0M337.9 23.5h0M337.4 13.7h0M328.8 19.8h0M332.6 13.6h0M328.5 15.1h0M331.0 25.1h0M327.6 24.2h0M335.7 18.6h0M337.4 26.2h0M325.0 20.7h0M332.7 18.5h0M335.1 14.6h0M335.4 15.2h0M332.9 19.2h0M337.0 13.0h0M326.8 14.0h0M333.1 14.8h0M325.3 18.6h0M326.9 14.7h0M335.2 15.9h0M325.6 16.5h0M325.3 24.9h0M330.6 22.9h0M324.1 23.8h0M328.0 14.3h0M330.5 18.2h0M325.9 11.9h0M326.8 23.5h0M325.5 21.3h0M334.2 20.5h0M327.9 24.6h0M334.8 24.1h0M326.9 17.3h0M335.2 20.7h0M336.5 13.1h0M326.5 13.0h0M332.0 13.3h0M334.8 16.2h0M331.6 23.0h0M338.1 24.0h0M328.8 18.8h0M323.9 14.2h0M331.2 22.1h0M332.8 25.8h0" stroke="#ABDDA4" stroke-width="2.4" stroke-linecap="square" fill="none"/>
<path d="M309.7 26.0h3.6m-1.8 -1.8v3.6M321.5 16.3h3.6m-1.8 -1.8v3.6M316.7 15.0h3.6m-1.8 -1.8v3.6M321.6 14.6h3.6m-1.8 -1.8v3.6M316.7 16.4h3.6m-1.8 -1.8v3.6M321.3 17.5h3.6m-1.8 -1.8v3.6M318.9 21.7h3.6m-1.8 -1.8v3.6M315.4 24.5h3.6m-1.8 -1.8v3.6M318.3 23.4h3.6m-1.8 -1.8v3.6M319.7 22.7h3.6m-1.8 -1.8v3.6M317.5 23.7h3.6m-1.8 -1.8v3.6M315.1 24.2h3.6m-1.8 -1.8v3.6M318.2 19.5h3.6m-1.8 -1.8v3.6M317.3 25.5h3.6m-1.8 -1.8v3.6M317.8 24.3h3.6m-1.8 -1.8v3.6M320.5 22.4h3.6m-1.8 -1.8v3.6M321.3 11.7h3.6m-1.8 -1.8v3.6M321.3 14.7h3.6m-1.8 -1.8v3.6M318.8 24.6h3.6m-1.8 -1.8v3.6M320.6 19.6h3.6m-1.8 -1.8v3.6M319.2 14.4h3.6m-1.8 -1.8v3.6M314.9 24.8h3.6m-1.8 -1.8v3.6M312.2 22.7h3.6m-1.8 -1.8v3.6M318.5 23.1h3.6m-1.8 -1.8v3.6M317.3 20.0h3.6m-1.8 -1.8v3.6M320.0 13.5h3.6m-1.8 -1.8v3.6M318.1 17.4h3.6m-1.8 -1.8v3.6M316.3 22.6h3.6m-1.8 -1.8v3.6M308.4 24.9h3.6m-1.8 -1.8v3.6M314.7 25.0h3.6m-1.8 -1.8v3.6M318.0 16.6h3.6m-1.8 -1.8v3.6M315.3 18.9h3.6m-1.8 -1.8v3.6M315.6 21.6h3.6m-1.8 -1.8v3.6M320.3 26.1h3.6m-1.8 -1.8v3.6M321.0 22.9h3.6m-1.8 -1.8v3.6M320.9 21.0h3.6m-1.8 -1.8v3.6M316.2 24.7h3.6m-1.8 -1.8v3.6M316.6 19.4h3.6m-1.8 -1.8v3.6M321.2 11.7h3.6m-1.8 -1.8v3.6M319.5 16.3h3.6m-1.8 -1.8v3.6M315.9 25.4h3.6m-1.8 -1.8v3.6M319.9 16.8h3.6m-1.8 -1.8v3.6M318.3 23.0h3.6m-1.8 -1.8v3.6M318.5 25.2h3.6m-1.8 -1.8v3.6M321.4 14.9h3.6m-1.8 -1.8v3.6M318.8 21.7h3.6m-1.8 -1.8v3.6M311.6 25.8h3.6m-1.8 -1.8v3.6M321.0 24.2h3.6m-1.8 -1.8v3.6M320.4 12.7h3.6m-1.8 -1.8v3.6M317.1 25.3h3.6m-1.8 -1.8v3.6M321.1 25.8h3.6m-1.8 -1.8v3.6M320.2 15.1h3.6m-1.8 -1.8v3.6M317.9 19.0h3.6m-1.8 -1.8v3.6M319.0 25.0h3.6m-1.8 -1.8v3.6M319.6 24.6h3.6m-1.8 -1.8v3.6M321.2 21.9h3.6m-1.8 -1.8v3.6M319.7 22.8h3.6m-1.8 -1.8v3.6M319.2 19.9h3.6m-1.8 -1.8v3.6M320.2 20.4h3.6m-1.8 -1.8v3.6M314.8 20.3h3.6m-1.8 -1.8v3.6M320.3 16.5h3.6m-1.8 -1.8v3.6M309.5 25.7h3.6m-1.8 -1.8v3.6" stroke="#D7191C" stroke-width="0.6" stroke-opacity="0.9" fill="none"/>
<path d="M323.0 30.9h3m-1.5 -1.5v3m-1.1 -0.4l2.2 -2.2m-2.2 0l2.2 2.2M327.2 30.7h3m-1.5 -1.5v3m-1.1 -0.4l2.2 -2.2m-2.2 0l2.2 2.2M328.1 27.7h3m-1.5 -1.5v3m-1.1 -0.4l2.2 -2.2m-2.2 0l2.2 2.2M322.1 27.3h3m-1.5 -1.5v3m-1.1 -0.4l2.2 -2.2m-2.2 0l2.2 2.2M323.9 31.0h3m-1.5 -1.5v3m-1.1 -0.4l2.2 -2.2m-2.2 0l2.2 2.2M333.2 29.7h3m-1.5 -1.5v3m-1.1 -0.4l2.2 -2.2m-2.2 0l2.2 2.2M322.2 26.4h3m-1.5 -1.5v3m-1.1 -0.4l2.2 -2.2m-2.2 0l2.2 2.2M325.6 39.8h3m-1.5 -1.5v3m-1.1 -0.4l2.2 -2.2m-2.2 0l2.2 2.2M336.3 28.5h3m-1.5 -1.5v3m-1.1 -0.4l2.2 -2.2m-2.2 0l2.2 2.2M326.4 29.6h3m-1.5 -1.5v3m-1.1 -0.4l2.2 -2.2m-2.2 0l2.2 2.2M325.8 29.6h3m-1.5 -1.5v3m-1.1 -0.4l2.2 -2.2m-2.2 0l2.2 2.2M323.6 27.1h3m-1.5 -1.5v3m-1.1 -0.4l2.2 -2.2m-2.2 0l2.2 2.2M332.7 29.3h3m-1.5 -1.5v3m-1.1 -0.4l2.2 -2.2m-2.2 0l2.2 2.2M327.7 30.5h3m-1.5 -1.5v3m-1.1 -0.4l2.2 -2.2m-2.2 0l2.2 2.2M322.8 36.8h3m-1.5 -1.5v3m-1.1 -0.4l2.2 -2.2m-2.2 0l2.2 2.2M325.2 32.2h3m-1.5 -1.5v3m-1.1 -0.4l2.2 -2.2m-2.2 0l2.2 2.2M335.7 27.3h3m-1.5 -1.5v3m-1.1 -0.4l2.2 -2.2m-2.2 0l2.2 2.2M326.3 30.0h3m-1.5 -1.5v3m-1.1 -0.4l2.2 -2.2m-2.2 0l2.2 2.2M324.3 30.4h3m-1.5 -1.5v3m-1.1 -0.4l2.2 -2.2m-2.2 0l2.2 2.2M322.8 32.3h3m-1.5 -1.5v3m-1.1 -0.4l2.2 -2.2m-2.2 0l2.2 2.2M322.0 41.4h3m-1.5 -1.5v3m-1.1 -0.4l2.2 -2.2m-2.2 0l2.2 2.2M327.8 37.6h3m-1.5 -1.5v3m-1.1 -0.4l2.2 -2.2m-2.2 0l2.2 2.2M326.5 29.4h3m-1.5 -1.5v3m-1.1 -0.4l2.2 -2.2m-2.2 0l2.2 2.2M329.6 35.7h3m-1.5 -1.5v3m-1.1 -0.4l2.2 -2.2m-2.2 0l2.2 2.2M323.6 38.0h3m-1.5 -1.5v3m-1.1 -0.4l2.2 -2.2m-2.2 0l2.2 2.2M329.3 29.6h3m-1.5 -1.5v3m-1.1 -0.4l2.2 -2.2m-2.2 0l2.2 2.2M325.0 31.6h3m-1.5 -1.5v3m-1.1 -0.4l2.2 -2.2m-2.2 0l2.2 2.2M324.3 30.9h3m-1.5 -1.5v3m-1.1 -0.4l2.2 -2.2m-2.2 0l2.2 2.2M324.9 27.4h3m-1.5 -1.5v3m-1.1 -0.4l2.2 -2.2m-2.2 0l2.2 2.2M322.3 28.6h3m-1.5 -1.5v3m-1.1 -0.4l2.2 -2.2m-2.2 0l2.2 2.2M323.3 31.3h3m-1.5 -1.5v3m-1.1 -0.4l2.2 -2.2m-2.2 0l2.2 2.2M325.1 35.3h3m-1.5 -1.5v3m-1.1 -0.4l2.2 -2.2m-2.2 0l2.2 2.2M324.7 27.1h3m-1.5 -1.5v3m-1.1 -0.4l2.2 -2.2m-2.2 0l2.2 2.2M334.3 26.3h3m-1.5 -1.5v3m-1.1 -0.4l2.2 -2.2m-2.2 0l2.2 2.2M328.4 26.6h3m-1.5 -1.5v3m-1.1 -0.4l2.2 -2.2m-2.2 0l2.2 2.2M331.0 26.3h3m-1.5 -1.5v3m-1.1 -0.4l2.2 -2.2m-2.2 0l2.2 2.2M328.2 37.5h3m-1.5 -1.5v3m-1.1 -0.4l2.2 -2.2m-2.2 0l2.2 2.2M332.0 26.9h3m-1.5 -1.5v3m-1.1 -0.4l2.2 -2.2m-2.2 0l2.2 2.2M330.9 29.2h3m-1.5 -1.5v3m-1.1 -0.4l2.2 -2.2m-2.2 0l2.2 2.2M328.3 28.5h3m-1.5 -1.5v3m-1.1 -0.4l2.2 -2.2m-2.2 0l2.2 2.2M327.5 27.6h3m-1.5 -1.5v3m-1.1 -0.4l2.2 -2.2m-2.2 0l2.2 2.2M334.8 30.5h3m-1.5 -1.5v3m-1.1 -0.4l2.2 -2.2m-2.2 0l2.2 2.2M335.3 30.2h3m-1.5 -1.5v3m-1.1 -0.4l2.2 -2.2m-2.2 0l2.2 2.2M330.3 38.4h3m-1.5 -1.5v3m-1.1 -0.4l2.2 -2.2m-2.2 0l2.2 2.2M328.5 35.1h3m-1.5 -1.5v3m-1.1 -0.4l2.2 -2.2m-2.2 0l2.2 2.2M329.3 28.4h3m-1.5 -1.5v3m-1.1 -0.4l2.2 -2.2m-2.2 0l2.2 2.2M328.8 30.8h3m-1.5 -1.5v3m-1.1 -0.4l2.2 -2.2m-2.2 0l2.2 2.2M328.9 27.1h3m-1.5 -1.5v3m-1.1 -0.4l2.2 -2.2m-2.2 0l2.2 2.2M332.6 27.0h3m-1.5 -1.5v3m-1.1 -0.4l2.2 -2.2m-2.2 0l2.2 2.2M322.4 28.0h3m-1.5 -1.5v3m-1.1 -0.4l2.2 -2.2m-2.2 0l2.2 2.2M323.0 28.9h3m-1.5 -1.5v3m-1.1 -0.4l2.2 -2.2m-2.2 0l2.2 2.2M327.6 34.8h3m-1.5 -1.5v3m-1.1 -0.4l2.2 -2.2m-2.2 0l2.2 2.2M324.6 32.4h3m-1.5 -1.5v3m-1.1 -0.4l2.2 -2.2m-2.2 0l2.2 2.2M324.9 31.1h3m-1.5 -1.5v3m-1.1 -0.4l2.2 -2.2m-2.2 0l2.2 2.2M334.4 30.6h3m-1.5 -1.5v3m-1.1 -0.4l2.2 -2.2m-2.2 0l2.2 2.2M331.9 32.1h3m-1.5 -1.5v3m-1.1 -0.4l2.2 -2.2m-2.2 0l2.2 2.2M329.4 26.9h3m-1.5 -1.5v3m-1.1 -0.4l2.2 -2.2m-2.2 0l2.2 2.2M326.6 42.9h3m-1.5 -1.5v3m-1.1 -0.4l2.2 -2.2m-2.2 0l2.2 2.2M330.5 33.2h3m-1.5 -1.5v3m-1.1 -0.4l2.2 -2.2m-2.2 0l2.2 2.2M334.2 31.2h3m-1.5 -1.5v3m-1.1 -0.4l2.2 -2.2m-2.2 0l2.2 2.2M330.3 29.0h3m-1.5 -1.5v3m-1.1 -0.4l2.2 -2.2m-2.2 0l2.2 2.2M322.4 28.0h3m-1.5 -1.5v3m-1.1 -0.4l2.2 -2.2m-2.2 0l2.2 2.2M323.5 32.0h3m-1.5 -1.5v3m-1.1 -0.4l2.2 -2.2m-2.2 0l2.2 2.2" stroke="#2B83BA" stroke-width="0.7" fill="none"/>
<line x1="31.5" y1="26.2" x2="349.4" y2="26.2" stroke="#555" stroke-width="1" stroke-dasharray="1.2 1.66"/>
<line x1="323.4" y1="-0.25" x2="323.4" y2="317.8" stroke="#555" stroke-width="1" stroke-dasharray="1.2 1.66"/>
<rect x="31.5" y="-0.25" width="317.9" height="318.1" fill="none" stroke="#8a8a8a" stroke-width="1.1"/>
<line x1="28.3" y1="306.4" x2="31.5" y2="306.4" stroke="#8a8a8a" stroke-width="1"/>
<text x="24.8" y="310.3" text-anchor="end" class="ax">0.0</text>
<line x1="43.3" y1="317.8" x2="43.3" y2="321.0" stroke="#8a8a8a" stroke-width="1"/>
<text x="43.3" y="330.8" text-anchor="middle" class="ax">0.0</text>
<line x1="28.3" y1="247.4" x2="31.5" y2="247.4" stroke="#8a8a8a" stroke-width="1"/>
<text x="24.8" y="251.3" text-anchor="end" class="ax">0.2</text>
<line x1="102.3" y1="317.8" x2="102.3" y2="321.0" stroke="#8a8a8a" stroke-width="1"/>
<text x="102.3" y="330.8" text-anchor="middle" class="ax">0.2</text>
<line x1="28.3" y1="188.4" x2="31.5" y2="188.4" stroke="#8a8a8a" stroke-width="1"/>
<text x="24.8" y="192.3" text-anchor="end" class="ax">0.4</text>
<line x1="161.3" y1="317.8" x2="161.3" y2="321.0" stroke="#8a8a8a" stroke-width="1"/>
<text x="161.3" y="330.8" text-anchor="middle" class="ax">0.4</text>
<line x1="28.3" y1="129.4" x2="31.5" y2="129.4" stroke="#8a8a8a" stroke-width="1"/>
<text x="24.8" y="133.3" text-anchor="end" class="ax">0.6</text>
<line x1="220.2" y1="317.8" x2="220.2" y2="321.0" stroke="#8a8a8a" stroke-width="1"/>
<text x="220.2" y="330.8" text-anchor="middle" class="ax">0.6</text>
<line x1="28.3" y1="70.4" x2="31.5" y2="70.4" stroke="#8a8a8a" stroke-width="1"/>
<text x="24.8" y="74.3" text-anchor="end" class="ax">0.8</text>
<line x1="279.2" y1="317.8" x2="279.2" y2="321.0" stroke="#8a8a8a" stroke-width="1"/>
<text x="279.2" y="330.8" text-anchor="middle" class="ax">0.8</text>
<line x1="28.3" y1="11.4" x2="31.5" y2="11.4" stroke="#8a8a8a" stroke-width="1"/>
<text x="24.8" y="15.3" text-anchor="end" class="ax">1.0</text>
<line x1="338.2" y1="317.8" x2="338.2" y2="321.0" stroke="#8a8a8a" stroke-width="1"/>
<text x="338.2" y="330.8" text-anchor="middle" class="ax">1.0</text>
<text x="190.4" y="343.8" text-anchor="middle" class="ax">Proxy Valuation</text>
<text transform="translate(8.1 158.8) rotate(-90)" text-anchor="middle" class="ax">Simulation</text>
<rect x="34.5" y="3.3" width="182.1" height="35.6" fill="#fff" stroke="#8a8a8a" stroke-width="1"/>
<text x="125.5" y="12.6" text-anchor="middle" class="lg" style="font-size:6.85px">Misclassification</text>
<text x="46.9" y="24.6" class="lg">Worst 5%: by inner simulation, not by proxy valuation</text>
<text x="46.9" y="33.5" class="lg">Worst 5%: by proxy valuation, not by inner simulation</text>
<path d="M38.7 21.4h4M40.7 19.4v4" stroke="#e98a8c" stroke-width="0.8" fill="none"/>
<path d="M38.7 30.3h4M40.7 28.3v4M39.2 28.8l3 3M39.2 31.8l3 -3" stroke="#6aaec2" stroke-width="0.75" fill="none"/>
<path d="M302.2 402.9h0M213.8 465.2h0M271.6 423.2h0M212.7 510.9h0M282.6 403.5h0M270.3 449.6h0M207.1 466.8h0M241.1 485.8h0M255.6 443.3h0M251.7 455.7h0M190.4 484.4h0M135.3 552.5h0M288.8 384.8h0M221.5 470.3h0M159.0 586.2h0M96.4 602.0h0M103.1 583.1h0M194.2 515.7h0M204.2 554.7h0M303.7 400.6h0M46.6 652.8h0M113.3 534.4h0M244.4 432.2h0M277.7 400.8h0M144.7 590.3h0M88.3 597.8h0M84.4 616.5h0M317.5 402.6h0M103.1 556.0h0M251.1 450.0h0M79.4 597.7h0M79.0 645.6h0M215.3 500.2h0M94.8 576.4h0M180.3 530.7h0M179.2 493.0h0M175.1 550.3h0M102.0 563.2h0M273.6 403.8h0M91.3 617.9h0M253.4 425.5h0M63.6 640.9h0M164.9 515.1h0M251.4 464.3h0M223.3 472.0h0M227.0 458.7h0M108.1 568.3h0M92.5 574.4h0M76.3 591.5h0M56.5 649.5h0M143.3 519.3h0M76.0 613.2h0M255.7 414.7h0M295.1 395.6h0M125.7 551.4h0M85.5 613.2h0M164.0 530.1h0M100.2 605.6h0M172.0 506.1h0M323.3 409.3h0M133.5 597.4h0M143.5 565.9h0M244.8 436.9h0M149.3 511.2h0M280.6 433.3h0M276.2 401.9h0M136.7 600.8h0M313.1 435.9h0M115.7 554.0h0M74.2 609.5h0M242.7 439.3h0M311.3 392.4h0M138.7 554.1h0M193.1 499.3h0M79.8 608.0h0M64.0 603.4h0M48.5 657.9h0M274.6 447.4h0M205.9 477.1h0M269.2 446.1h0M159.4 572.5h0M215.4 477.0h0M180.0 523.4h0M168.2 507.8h0M68.5 638.8h0M260.1 464.6h0M93.6 611.0h0M157.8 564.2h0M179.8 513.1h0M239.7 446.2h0M53.4 639.9h0M193.1 580.7h0M135.6 569.2h0M47.7 643.7h0M285.7 391.8h0M279.3 412.8h0M134.3 586.1h0M171.0 511.5h0M319.0 384.2h0M91.6 599.2h0M291.4 381.8h0M256.5 442.3h0M194.5 479.8h0M272.2 448.4h0M303.8 388.1h0M170.5 546.2h0M191.0 494.6h0M59.5 644.3h0M119.7 603.5h0M112.9 612.8h0M253.7 419.9h0M133.3 554.0h0M80.6 615.2h0M105.7 613.7h0M306.2 411.2h0M52.2 655.4h0M251.5 421.2h0M52.6 636.1h0M303.4 401.2h0M122.1 536.2h0M139.8 570.0h0M189.4 513.5h0M261.0 438.2h0M262.0 515.7h0M250.2 447.1h0M59.8 631.6h0M269.6 405.9h0M130.2 561.5h0M80.4 624.3h0M182.5 552.5h0M83.5 626.9h0M46.8 659.6h0M167.6 596.1h0M274.9 409.1h0M88.7 594.4h0M146.4 518.9h0M156.5 540.8h0M286.9 396.7h0M45.5 651.7h0M68.9 618.2h0M74.2 635.8h0M120.5 590.6h0M273.6 433.8h0M196.7 545.1h0M48.8 652.4h0M312.4 387.4h0M220.9 479.4h0M255.7 453.1h0M131.6 558.8h0M163.5 559.1h0M129.3 620.6h0M43.7 659.3h0M249.0 470.2h0M242.8 429.1h0M235.2 455.5h0M255.3 504.9h0M151.8 577.8h0M80.0 596.9h0M170.3 514.6h0M185.7 542.5h0M312.7 448.0h0M171.9 580.2h0M214.5 484.3h0M231.2 494.3h0M82.6 621.6h0M50.5 653.5h0M320.2 403.3h0M112.7 604.2h0M102.9 595.2h0M157.8 562.1h0M184.6 554.8h0M259.2 465.3h0M276.7 404.2h0M81.0 618.3h0M160.9 510.3h0M153.0 498.8h0M199.4 516.4h0M45.1 654.8h0M124.0 575.3h0M77.8 607.3h0M66.1 615.5h0M169.1 567.4h0M152.1 513.9h0M183.2 537.0h0M305.4 384.6h0M154.7 509.7h0M46.5 638.7h0M190.8 568.7h0M254.7 472.2h0M288.3 392.6h0M57.2 634.8h0M164.7 513.1h0M316.8 401.3h0M124.9 558.8h0M96.5 610.1h0M290.5 387.0h0M80.6 616.7h0M79.8 603.3h0M222.7 517.8h0M269.7 443.4h0M92.1 616.1h0M295.5 381.2h0M275.0 429.6h0M201.3 527.5h0M179.4 564.3h0M235.3 435.5h0M192.1 487.7h0M271.4 468.1h0M256.2 443.2h0M189.5 489.6h0M299.5 396.5h0M257.3 433.6h0M124.6 544.3h0M148.2 513.6h0M73.4 638.1h0M223.9 449.8h0M90.9 572.5h0M184.2 507.7h0M244.8 454.1h0M279.2 439.9h0M304.8 412.9h0M76.6 610.2h0M184.9 498.7h0M219.4 463.4h0M219.1 455.7h0M120.8 568.5h0M310.9 385.3h0M225.3 470.7h0M242.2 431.7h0M254.7 433.2h0M237.8 467.2h0M238.3 433.1h0M275.7 440.8h0M162.8 538.5h0M139.4 539.3h0M121.3 550.7h0M69.1 623.9h0M196.0 492.4h0M74.8 591.3h0M203.9 506.2h0M259.3 494.1h0M125.9 558.7h0M210.4 533.5h0M107.1 592.7h0M243.7 426.8h0M272.7 433.4h0M142.1 524.0h0M154.3 604.8h0M296.5 400.1h0M248.5 464.5h0M95.0 569.6h0M245.1 517.8h0M304.3 414.4h0M201.5 517.5h0M64.5 644.1h0M197.1 542.7h0M300.9 388.1h0M269.1 399.4h0M256.8 435.1h0M229.4 518.5h0M82.8 569.3h0M178.7 548.8h0M169.0 549.1h0M246.2 452.0h0M295.8 386.9h0M74.4 643.8h0M62.5 649.3h0M138.7 547.4h0M290.3 398.1h0M251.0 428.0h0M80.8 630.6h0M123.8 564.2h0M49.0 648.5h0M217.5 521.7h0M294.1 387.4h0M217.7 522.3h0M169.2 519.1h0M271.3 425.6h0M252.4 427.6h0M300.4 395.4h0M273.1 407.5h0M114.1 537.7h0M112.2 579.9h0M75.3 639.7h0M261.6 459.0h0M158.3 532.5h0M148.5 504.8h0M179.2 529.4h0M276.2 402.4h0M138.9 531.7h0M224.9 467.6h0M120.2 562.2h0M71.7 605.4h0M75.7 634.4h0M275.6 438.1h0M189.8 528.1h0M201.3 579.3h0M250.6 514.1h0M283.3 398.8h0M321.2 396.5h0M105.9 609.5h0M319.3 394.1h0M239.0 491.6h0M263.9 439.1h0M273.7 412.7h0M55.1 633.8h0M168.4 553.8h0M245.2 460.4h0M93.5 621.3h0M254.9 462.9h0M100.4 584.9h0M92.5 599.1h0M100.8 568.5h0M101.3 562.9h0M251.7 449.6h0M117.4 578.7h0M126.8 582.3h0M155.5 536.7h0M276.3 478.0h0M291.1 393.9h0M145.1 580.8h0M48.8 656.9h0M98.7 616.6h0M133.9 584.1h0M44.1 656.4h0M129.3 557.3h0M240.7 522.6h0M167.8 511.3h0M94.1 627.2h0M146.4 582.0h0M220.1 492.9h0M181.1 497.0h0M128.0 554.6h0M228.1 489.9h0M163.2 522.9h0M155.1 525.4h0M172.2 506.3h0M175.1 503.4h0M258.1 451.0h0M215.2 527.0h0M125.0 572.5h0M307.8 391.1h0M279.8 406.3h0M56.9 645.3h0M43.9 659.1h0M109.6 615.0h0M138.3 572.8h0M299.3 389.2h0M155.5 513.5h0M227.5 443.6h0M46.4 658.2h0M142.3 533.6h0M82.0 592.1h0M190.2 580.1h0M225.6 494.2h0M231.0 506.1h0M210.9 523.7h0M46.1 656.9h0M187.8 501.7h0M169.4 589.1h0M50.7 648.3h0M181.7 484.8h0M100.3 567.1h0M137.4 560.6h0M83.3 607.1h0M232.8 449.5h0M143.9 519.7h0M203.8 497.7h0M90.6 594.6h0M215.1 518.8h0M271.2 437.8h0M171.9 547.8h0M279.7 408.3h0M55.5 620.7h0M213.9 497.8h0M277.2 425.0h0M213.4 466.5h0M196.9 482.0h0M101.8 624.6h0M275.3 409.6h0M179.4 507.1h0M309.8 435.1h0M245.6 427.4h0M176.1 514.0h0M54.0 641.5h0M172.5 520.4h0M75.8 607.4h0M118.5 539.6h0M191.2 483.3h0M60.3 646.8h0M237.4 547.3h0M162.3 492.2h0M206.3 485.8h0M321.0 379.9h0M132.5 553.5h0M97.3 550.6h0M322.8 387.3h0M270.7 401.3h0M175.4 560.2h0M150.0 517.6h0M43.7 659.4h0M239.2 482.4h0M282.2 419.4h0M74.6 583.7h0M318.0 429.6h0M143.9 548.8h0M212.2 499.4h0M76.4 613.4h0M231.4 459.3h0M153.9 524.9h0M314.4 395.0h0M70.3 625.8h0M263.8 457.1h0M73.3 641.9h0M207.4 481.7h0M123.6 598.8h0M268.5 422.7h0M305.2 395.7h0M277.2 431.3h0M163.9 563.6h0M70.4 633.8h0M289.9 432.4h0M134.8 520.2h0M158.5 506.1h0M273.0 418.5h0M235.4 434.9h0M114.1 542.9h0M226.1 488.0h0M278.9 407.4h0M219.9 523.9h0M119.2 565.7h0M141.5 552.8h0M277.9 440.4h0M163.5 523.7h0M259.5 421.1h0M238.4 504.9h0M227.2 454.4h0M178.9 569.9h0M111.4 595.7h0M117.1 535.8h0M198.5 537.5h0M158.4 557.5h0M312.8 386.4h0M257.5 424.8h0M160.1 568.3h0M297.7 445.5h0M237.9 483.2h0M123.2 595.3h0M165.7 515.6h0M72.0 631.8h0M232.8 482.1h0M219.9 486.6h0M78.2 624.7h0M292.7 388.3h0M66.6 633.4h0M113.6 573.9h0M226.1 552.1h0M72.6 645.6h0M168.0 545.6h0M154.2 512.2h0M83.2 618.0h0M81.6 630.1h0M49.8 655.8h0M176.5 519.2h0M98.2 620.6h0M97.9 589.8h0M250.0 473.7h0M233.2 441.9h0M87.3 573.0h0M192.5 490.9h0M238.0 459.1h0M267.7 408.6h0M180.8 496.6h0M279.4 400.7h0M242.0 454.7h0M302.6 398.7h0M74.6 597.0h0M284.4 398.8h0M178.6 494.0h0M102.3 566.3h0M291.7 423.0h0M140.7 529.2h0M212.9 462.9h0M62.5 622.2h0M207.2 491.2h0M131.7 549.7h0M95.5 618.0h0M257.4 451.1h0M67.9 602.4h0M126.2 562.4h0M301.3 385.4h0M99.4 601.4h0M223.0 459.7h0M278.0 410.1h0M120.1 605.3h0M270.2 412.9h0M251.6 434.2h0M191.8 512.1h0M145.4 517.5h0M70.5 630.2h0M229.0 510.4h0M91.8 607.4h0M114.9 595.5h0M182.1 493.2h0M248.5 425.4h0M86.7 592.7h0M208.5 497.3h0M187.2 495.2h0M77.1 635.0h0M154.6 546.3h0M63.8 650.6h0M92.7 634.9h0M266.2 455.7h0M109.7 579.3h0M284.8 431.0h0M177.8 558.8h0M257.8 448.7h0M299.5 393.9h0M288.0 404.3h0M53.7 637.9h0M204.4 492.7h0M53.8 649.2h0M262.2 404.3h0M148.5 500.7h0M261.1 442.6h0M79.4 621.5h0M212.4 503.6h0M140.1 589.3h0M215.6 511.6h0M285.4 394.6h0M282.5 473.7h0M99.8 566.9h0M134.8 586.6h0M52.0 653.8h0M111.5 575.1h0M98.7 584.3h0M163.9 596.5h0M80.4 633.7h0M116.3 557.3h0M218.7 505.1h0M86.9 601.7h0M146.6 506.6h0M151.8 502.5h0M161.3 517.5h0M218.9 475.5h0M121.7 539.4h0M298.5 409.6h0M277.4 431.0h0M228.2 449.4h0M275.3 409.0h0M314.1 442.8h0M55.3 631.2h0M65.2 633.5h0M253.2 421.5h0M85.6 602.9h0M145.9 507.1h0M103.7 580.0h0M65.6 631.4h0M118.0 593.0h0M232.8 543.2h0M68.4 612.2h0M84.3 569.0h0M191.7 485.4h0M73.2 640.6h0M113.8 598.4h0M215.5 537.6h0M107.2 612.2h0M208.0 530.2h0M293.3 418.2h0M99.7 586.0h0M235.7 481.7h0M183.8 543.0h0M248.3 425.1h0M184.1 478.0h0M171.2 527.0h0M194.2 480.3h0M282.0 390.0h0M231.8 470.7h0M82.5 590.1h0M243.9 435.5h0M248.9 436.2h0M168.2 535.6h0M192.0 526.9h0M86.0 579.1h0M311.5 456.7h0M102.6 595.4h0M61.9 633.1h0M178.7 497.2h0M56.3 657.9h0M191.2 512.0h0M135.8 537.6h0M257.9 422.7h0M158.9 528.0h0M136.3 530.8h0M103.3 574.7h0M119.0 568.6h0M182.3 590.9h0M56.5 644.0h0M296.3 402.1h0M161.7 525.0h0M313.5 382.8h0M193.3 474.3h0M196.2 518.5h0M198.3 492.0h0M114.5 548.9h0M97.7 571.1h0M239.5 482.5h0M298.1 402.2h0M44.5 659.7h0M148.1 579.4h0M191.4 549.8h0M49.3 642.2h0M129.4 558.4h0M317.2 407.4h0M155.4 575.6h0M104.0 619.2h0M259.6 433.0h0M63.8 622.3h0M139.2 529.9h0M228.0 448.4h0M177.4 500.8h0M300.0 464.9h0M85.7 611.5h0M87.7 606.4h0M281.4 461.9h0M90.8 637.7h0M190.9 494.3h0M45.4 649.7h0M212.3 550.1h0M81.9 600.4h0M188.3 490.1h0M267.4 424.6h0M220.8 457.7h0M90.7 640.4h0M54.7 621.5h0M287.4 402.7h0M133.1 617.4h0M214.6 453.5h0M289.6 413.4h0M106.6 577.0h0M202.6 470.3h0M277.7 438.3h0M105.1 569.6h0M249.2 461.3h0M61.8 640.9h0M73.2 636.0h0M156.8 525.1h0M209.2 453.8h0M57.8 635.4h0M277.4 426.0h0M128.9 591.2h0M319.6 395.8h0M44.6 656.3h0M314.6 392.1h0M287.3 403.5h0M313.7 389.3h0M51.8 642.7h0M291.8 399.7h0M206.8 527.6h0M205.6 475.9h0M270.1 416.7h0M57.8 650.8h0M126.4 579.1h0M294.9 401.2h0M248.1 482.4h0M318.9 402.8h0M142.8 584.5h0M71.0 629.1h0M119.4 539.6h0M111.6 598.6h0M192.2 494.2h0M74.1 624.7h0M144.2 521.0h0M216.7 456.5h0M134.5 583.9h0M315.0 385.2h0M317.7 383.7h0M226.3 492.6h0M67.3 621.5h0M173.0 550.8h0M190.4 479.8h0M112.3 629.4h0M101.5 582.9h0M187.8 525.9h0M44.8 655.1h0M306.3 411.8h0M227.0 511.0h0M138.1 549.4h0M299.1 407.8h0M93.1 592.0h0M296.2 396.8h0M144.8 528.5h0M118.6 597.1h0M101.2 571.5h0M267.2 417.1h0M245.9 464.1h0M131.4 521.2h0M316.2 384.6h0M87.7 648.6h0M111.9 613.8h0M186.6 517.7h0M133.5 538.5h0M109.3 562.6h0M224.8 455.8h0M133.9 581.7h0M287.5 434.5h0M182.0 500.5h0M271.4 427.3h0M306.4 410.2h0M52.8 650.3h0M313.0 395.1h0M234.4 442.9h0M117.7 611.3h0M68.7 632.9h0M76.2 601.7h0M289.3 409.9h0M285.9 415.4h0M83.5 614.1h0M292.6 391.5h0M157.6 565.8h0M252.0 463.5h0M193.5 500.9h0M284.9 481.2h0M211.5 483.7h0M92.4 609.3h0M199.7 509.3h0M64.1 609.2h0M120.3 532.4h0M272.1 474.5h0M302.9 387.9h0M119.5 537.5h0M223.5 453.8h0M106.2 603.4h0M276.6 417.1h0M315.7 405.5h0M134.4 548.9h0M177.8 591.0h0M294.3 402.9h0M44.5 650.8h0M147.6 573.1h0M166.7 593.3h0M266.9 435.3h0M188.2 496.4h0M246.4 473.0h0M75.0 607.9h0M68.3 618.2h0M253.1 431.3h0M119.7 582.2h0M125.8 599.7h0M306.3 401.4h0M227.2 498.1h0M197.5 535.4h0M244.6 440.6h0M64.0 632.4h0M304.6 403.0h0M233.1 438.9h0M62.3 630.6h0M229.1 503.8h0M226.7 578.8h0M83.9 582.2h0M241.8 488.5h0M130.5 539.4h0M210.6 552.0h0M168.0 526.6h0M246.5 438.6h0M134.6 560.4h0M302.1 414.7h0M240.5 458.7h0M137.4 553.2h0M63.8 647.4h0M160.7 551.3h0M148.0 606.9h0M115.4 568.4h0M158.5 537.7h0M62.6 621.4h0M92.6 626.4h0M228.5 440.4h0M80.5 631.5h0M60.0 648.4h0M309.9 387.5h0M160.9 516.4h0M140.3 596.2h0M141.7 588.7h0M238.1 521.3h0M295.2 386.0h0M254.5 468.0h0M54.9 653.9h0M79.6 608.7h0M69.6 609.3h0M249.4 443.7h0M294.8 381.7h0M224.1 514.1h0M262.7 423.8h0M299.0 395.9h0M171.1 562.8h0M282.7 435.1h0M166.6 597.4h0M111.6 562.0h0M259.0 448.0h0M177.2 516.0h0M58.4 638.0h0M92.9 598.9h0M58.2 636.9h0M183.8 501.7h0M141.4 546.2h0M186.3 548.8h0M84.3 596.0h0M234.5 454.1h0M152.7 569.6h0M278.2 411.1h0M185.9 532.0h0M54.3 632.2h0M193.0 543.6h0M224.0 534.6h0M289.4 391.8h0M103.6 624.5h0M200.6 539.0h0M44.0 652.7h0M194.0 520.2h0M246.2 454.6h0M296.8 402.4h0M301.4 433.7h0M304.5 398.7h0M123.4 553.4h0M218.0 468.8h0M191.0 522.2h0M192.9 479.8h0M45.8 658.6h0M53.2 647.4h0M70.4 622.2h0M118.4 548.3h0M107.3 541.5h0M101.5 582.0h0M134.0 537.3h0M183.0 537.8h0M166.8 509.8h0M104.6 585.5h0M65.7 653.4h0M59.3 638.1h0M217.5 460.2h0M148.3 522.4h0M142.9 571.5h0M194.6 484.7h0M62.2 644.9h0M232.7 511.0h0M287.1 402.3h0M95.9 617.2h0M116.5 568.5h0M236.1 440.4h0M145.5 599.6h0M64.6 643.7h0M48.7 649.6h0M167.8 511.3h0M257.0 426.9h0M87.4 602.6h0M284.0 437.1h0M303.1 389.0h0M154.8 542.1h0M231.0 467.5h0M82.3 630.7h0M188.4 517.0h0M254.2 427.2h0M216.5 555.2h0M141.3 557.2h0M43.5 646.3h0M133.1 534.3h0M323.3 390.7h0M221.0 453.1h0M213.8 545.6h0M147.5 531.2h0M82.5 623.2h0M167.1 554.7h0M154.5 525.4h0M77.5 619.0h0M275.3 414.4h0M78.1 614.0h0M274.0 485.8h0M139.2 542.1h0M57.6 646.2h0M228.7 462.3h0M247.5 452.2h0M198.5 469.6h0M66.8 639.6h0M316.8 397.1h0M181.9 488.1h0M84.7 642.6h0M158.1 509.0h0M107.2 626.6h0M124.7 536.7h0M174.2 501.5h0M179.6 474.3h0M236.1 461.1h0M74.8 616.4h0M127.6 552.2h0M289.4 420.1h0M165.5 501.3h0M224.3 447.7h0M275.8 392.9h0M132.6 575.5h0M77.6 624.4h0M146.8 578.8h0M221.0 496.4h0M75.3 622.4h0M52.1 652.2h0M279.6 393.4h0M125.5 585.9h0M206.9 483.9h0M130.2 554.9h0M175.8 540.3h0M96.4 636.9h0M99.4 577.9h0M102.7 601.4h0M320.6 398.7h0M239.6 436.4h0M222.9 454.6h0M92.5 569.3h0M73.6 612.4h0M73.4 642.8h0M156.9 556.8h0M185.2 519.9h0M144.6 623.1h0M168.3 531.9h0M307.4 391.1h0M174.8 499.9h0M201.5 476.4h0M201.0 464.3h0M127.5 552.1h0M46.0 659.4h0M269.3 442.7h0M242.1 460.4h0M301.8 398.6h0M95.7 600.0h0M130.0 547.8h0M149.5 533.1h0M253.8 442.3h0M207.8 468.6h0M259.9 427.2h0M112.1 562.4h0M162.2 506.3h0M216.1 504.2h0M138.9 599.6h0M177.0 552.1h0M43.6 653.6h0M251.1 413.9h0M298.6 404.1h0M141.2 528.6h0M301.0 442.3h0M287.8 422.3h0M202.1 478.3h0M148.8 546.0h0M202.1 483.4h0M60.3 648.5h0M171.6 514.0h0M239.9 522.5h0M278.6 411.7h0M292.1 424.2h0M276.4 430.4h0M240.7 455.9h0M83.2 570.4h0M70.0 617.4h0M163.4 539.8h0M241.0 450.1h0M222.0 458.8h0M59.1 632.3h0M227.8 465.2h0M118.8 598.6h0M267.8 428.8h0M135.8 530.3h0M94.7 574.3h0M107.5 614.0h0M216.4 554.0h0M44.8 656.5h0M281.3 407.3h0M233.5 467.5h0M136.9 586.9h0M66.0 637.7h0M306.7 386.9h0M184.7 505.6h0M204.5 479.4h0M192.8 486.6h0M130.4 517.8h0M173.7 488.2h0M139.7 557.4h0M119.4 536.3h0M274.4 399.0h0M203.8 550.8h0M240.3 451.0h0M251.1 453.2h0M250.3 439.8h0M93.0 614.8h0M295.4 416.8h0M259.0 442.7h0M247.1 570.8h0M131.3 546.6h0M68.7 626.4h0M93.8 574.0h0M251.6 416.8h0M273.1 425.5h0M155.7 533.7h0M67.5 629.3h0M82.0 641.1h0M107.4 611.9h0M195.4 507.8h0M243.7 428.4h0M118.5 603.5h0M110.7 551.9h0M186.8 492.9h0M177.2 550.0h0M234.9 455.0h0M60.4 638.6h0M292.8 395.2h0M293.1 397.5h0M59.6 646.4h0M286.5 407.5h0M250.5 419.6h0M122.3 561.7h0M216.3 458.4h0M308.1 383.8h0M309.3 410.7h0M162.4 502.9h0M268.2 406.4h0M270.7 415.0h0M307.9 402.4h0M91.7 617.9h0M208.9 497.5h0M307.1 401.9h0M153.5 520.9h0M222.0 529.4h0M214.0 457.7h0M80.2 579.9h0M123.2 542.4h0M84.8 590.5h0M164.9 546.8h0M240.1 471.7h0M289.7 404.6h0M225.8 496.2h0M194.1 549.8h0M298.9 390.2h0M280.7 411.7h0M230.8 467.2h0M274.9 441.3h0M255.9 438.0h0M209.5 457.9h0M113.4 625.5h0M95.3 585.7h0M269.5 466.7h0M240.2 447.5h0M214.9 539.8h0M300.8 391.0h0M124.6 550.8h0M215.2 492.5h0M84.4 608.8h0M144.9 512.2h0M228.8 501.4h0M174.4 579.2h0M172.1 578.5h0M156.7 586.2h0M164.6 525.9h0M280.2 418.6h0M106.3 566.1h0M91.3 602.8h0M73.9 602.3h0M294.6 423.0h0M65.0 623.1h0M204.9 476.7h0M87.5 582.0h0M131.0 603.8h0M194.7 533.2h0M169.9 508.4h0M95.2 624.4h0M255.6 455.1h0M231.4 438.6h0M234.3 437.0h0M83.1 585.7h0M290.8 410.5h0M267.8 430.5h0M113.2 595.2h0M47.4 645.1h0M269.8 427.0h0M62.8 633.4h0M48.9 653.4h0M287.0 418.6h0M216.1 474.4h0M315.0 404.9h0M101.1 581.0h0M207.5 472.0h0M152.0 573.9h0M61.5 602.0h0M172.6 507.3h0M61.7 618.3h0M149.5 526.7h0M271.8 453.1h0M257.3 439.0h0M147.9 555.2h0M295.8 396.9h0M227.9 479.1h0M70.1 636.5h0M292.4 397.2h0M76.8 587.9h0M236.4 438.3h0M169.1 506.4h0M277.0 443.3h0M275.7 410.5h0M133.8 551.9h0M302.0 381.4h0M197.0 473.9h0M310.5 406.3h0M174.5 502.1h0M97.6 624.1h0M311.5 410.8h0M286.2 414.2h0M137.1 592.5h0M120.8 544.6h0M208.4 508.6h0M306.6 451.2h0M311.3 408.1h0M244.5 484.1h0M223.6 511.2h0M166.3 497.1h0M101.0 629.1h0M88.9 612.1h0M49.7 658.7h0M262.9 415.4h0M249.8 471.8h0M139.9 574.0h0M258.0 416.1h0M88.4 569.1h0M282.0 461.0h0M274.1 424.7h0M260.0 419.7h0M304.4 384.9h0M77.1 622.2h0M147.2 530.8h0M214.2 480.6h0M111.7 567.2h0M44.2 656.4h0M117.9 587.0h0M300.0 398.4h0M225.2 446.8h0M214.0 483.8h0M127.2 551.8h0M146.5 514.4h0M47.3 650.5h0M63.9 628.3h0M128.3 592.3h0M152.4 531.8h0M85.2 596.9h0M56.4 624.4h0M143.8 499.8h0M296.2 425.5h0M46.7 648.6h0M249.6 444.3h0M171.2 503.5h0M153.6 532.5h0M115.3 590.4h0M187.5 489.8h0M236.0 466.6h0M198.0 474.7h0M230.2 451.0h0M230.0 469.2h0M248.4 422.8h0M142.9 520.9h0M129.5 597.3h0M298.0 407.7h0M108.9 577.0h0M259.3 465.1h0M307.6 386.4h0M95.6 585.5h0M260.3 443.6h0M98.3 607.0h0M232.1 481.8h0M106.3 572.7h0M112.8 563.9h0M221.6 454.6h0M209.0 478.8h0M75.8 620.7h0M309.7 413.0h0M222.7 449.6h0M236.4 449.6h0M181.8 545.0h0M198.1 554.4h0M239.1 452.9h0M145.6 585.2h0M224.2 539.4h0M284.7 421.4h0M236.7 478.3h0M56.2 637.5h0M289.1 431.7h0M176.2 551.8h0M231.3 441.9h0M99.3 633.2h0M56.0 633.4h0M188.6 501.3h0M227.4 440.2h0M217.3 517.2h0M50.0 646.5h0M287.1 406.4h0M67.7 616.0h0M240.6 465.3h0M55.4 652.0h0M127.9 519.2h0M66.7 627.8h0M177.3 509.8h0M229.8 500.7h0M123.0 529.3h0M196.5 528.6h0M164.5 542.1h0M271.7 493.9h0M157.1 559.1h0M138.8 556.0h0M104.8 568.0h0M77.0 598.4h0M306.0 400.6h0M303.0 383.7h0M158.3 504.6h0M292.6 395.7h0M240.2 471.0h0M146.5 568.7h0M92.4 579.1h0M198.7 471.5h0M291.6 419.0h0M59.2 656.4h0M256.9 440.2h0M239.8 450.2h0M102.2 621.8h0M182.8 502.6h0M152.0 588.5h0M95.7 609.8h0M164.2 567.8h0M59.2 633.7h0M247.2 492.8h0M179.6 530.4h0M285.6 394.3h0M251.2 451.0h0M227.6 457.7h0M277.4 397.2h0M273.5 449.8h0M259.6 452.6h0M196.8 529.2h0M83.0 578.6h0M258.4 453.9h0M242.1 484.8h0M220.6 490.1h0M310.2 406.6h0M157.6 576.9h0M180.7 609.9h0M290.5 389.0h0M94.5 591.6h0M250.8 447.2h0M151.7 534.7h0M297.3 390.6h0M193.0 530.6h0M235.4 543.6h0M307.6 385.7h0M240.0 426.0h0M230.1 464.6h0M84.6 588.8h0M78.0 638.5h0M122.2 543.3h0M149.7 555.0h0M232.7 484.9h0M116.4 573.5h0M89.7 622.5h0M232.4 459.1h0M198.2 562.9h0M246.6 505.0h0M265.1 446.4h0M288.5 408.0h0M125.4 558.3h0M164.4 525.7h0M186.0 494.2h0M64.7 643.2h0M288.4 424.4h0M155.8 578.2h0M100.8 577.9h0M173.8 516.2h0M99.8 621.5h0M47.8 655.7h0M50.0 655.1h0M132.1 581.4h0M173.1 508.5h0M310.1 401.1h0M105.2 600.0h0M48.5 648.5h0M109.9 565.8h0M256.3 467.0h0M303.7 394.2h0M138.8 539.1h0M172.1 498.9h0M69.7 623.6h0M96.7 561.1h0M176.4 592.5h0M83.8 584.5h0M230.7 525.2h0M225.9 462.7h0M304.4 416.7h0M253.9 438.9h0M225.0 463.7h0M130.7 534.2h0M138.6 535.8h0M55.7 651.5h0M225.7 498.9h0M248.2 463.9h0M51.0 638.5h0M250.4 428.6h0M276.0 494.7h0M312.4 386.5h0M75.1 633.9h0M58.8 636.9h0M88.3 571.3h0M271.9 414.6h0M260.0 459.3h0M261.7 460.6h0M113.1 591.7h0M85.3 611.7h0M269.0 431.9h0M111.4 580.6h0M286.4 384.6h0M97.2 583.8h0M270.0 417.5h0M233.0 437.6h0M237.5 471.6h0M227.4 557.6h0M47.4 655.7h0M189.8 505.5h0M189.6 478.5h0M158.1 531.0h0M71.9 616.6h0M85.6 605.4h0M83.8 616.6h0M147.3 574.3h0M243.5 470.7h0M137.8 596.6h0M282.6 424.0h0M215.5 509.2h0M209.9 577.2h0M233.6 464.9h0M286.8 392.2h0M105.7 540.0h0M66.5 616.9h0M195.0 544.4h0M282.8 407.8h0M275.9 454.6h0M186.1 487.5h0M71.1 630.9h0M209.1 503.1h0M86.1 634.0h0M170.2 520.8h0M245.1 448.2h0M308.4 397.4h0M108.9 624.7h0M191.8 542.8h0M242.3 457.7h0M141.0 549.2h0M234.8 486.4h0M58.1 616.8h0M208.4 479.4h0M58.0 659.2h0M209.3 510.8h0M109.1 606.7h0M315.2 383.1h0M190.3 531.7h0M295.3 395.4h0M166.6 533.2h0M297.9 412.8h0M114.7 590.6h0M59.9 651.8h0M236.3 435.3h0M87.9 594.3h0M293.2 438.3h0M69.7 634.9h0M100.1 595.0h0M71.8 613.7h0M71.2 598.8h0M55.7 656.4h0M315.0 383.3h0M50.9 642.2h0M97.4 625.1h0M191.7 506.6h0M119.3 634.6h0M184.8 489.3h0M220.7 460.0h0M143.7 543.5h0M229.0 459.4h0M218.4 453.5h0M180.8 553.4h0M147.6 572.5h0M100.3 583.7h0M107.5 537.0h0M97.5 600.5h0M177.9 526.0h0M280.7 411.8h0M171.5 595.9h0M54.5 652.8h0M243.2 444.9h0M284.2 420.6h0M98.4 619.2h0M61.1 638.3h0M196.8 521.5h0M260.8 433.4h0M251.0 472.3h0M264.8 422.6h0M317.1 384.3h0M93.4 622.6h0M140.4 558.6h0M316.2 379.8h0M71.0 619.2h0M178.2 509.5h0M145.2 521.1h0M277.7 415.5h0M244.5 566.3h0M84.2 629.9h0M119.2 546.0h0M282.1 408.5h0M161.3 597.1h0M274.8 407.0h0M294.2 427.0h0M237.1 432.0h0M219.5 470.2h0M302.5 418.2h0M285.6 401.8h0M209.3 477.9h0M209.3 485.2h0M266.5 406.4h0M247.8 441.5h0M156.6 576.1h0M210.1 465.6h0M174.4 544.2h0M319.3 439.4h0M46.8 651.5h0M315.8 398.8h0M97.3 631.4h0M180.9 541.2h0M105.2 561.3h0M321.6 408.3h0M199.4 467.2h0M197.2 477.7h0M282.1 435.2h0M234.0 450.5h0M226.5 456.6h0M120.1 571.6h0M180.3 517.4h0M126.5 552.2h0M316.4 395.6h0M94.0 587.8h0M161.1 513.4h0M62.7 618.1h0M100.0 607.4h0M271.7 418.8h0M74.3 586.1h0M225.2 467.3h0M50.6 657.4h0M83.4 614.8h0M170.6 516.7h0M251.3 422.8h0M164.1 503.1h0M298.3 390.1h0M241.8 423.1h0M252.6 482.5h0M67.6 627.1h0M233.5 442.4h0M49.4 642.4h0M241.4 454.3h0M75.2 607.1h0M72.8 635.5h0M255.8 469.4h0M199.2 478.1h0M295.6 424.2h0M57.9 643.7h0M223.9 461.0h0M276.5 490.9h0M206.1 516.6h0M288.2 434.7h0M305.9 389.1h0M119.3 606.2h0M222.5 518.1h0M238.3 525.8h0M307.7 419.1h0M255.2 521.9h0M53.5 651.8h0M124.2 568.1h0M174.0 563.5h0M285.9 403.0h0M190.1 511.8h0M106.8 593.3h0M196.5 547.8h0M50.5 651.2h0M99.8 559.7h0M48.3 657.8h0M264.8 415.4h0M235.5 458.2h0M249.9 419.5h0M106.3 589.3h0M202.9 469.4h0M267.6 485.7h0M281.4 429.2h0M165.6 559.8h0M65.8 623.1h0M76.8 637.0h0M276.7 481.4h0M82.7 604.4h0M180.2 494.0h0M110.6 574.2h0M233.2 451.9h0M303.6 388.9h0M217.8 488.5h0M117.8 602.6h0M248.8 442.7h0M53.9 652.3h0M130.0 555.0h0M257.1 419.6h0M306.9 408.2h0M298.8 404.2h0M221.3 467.7h0M237.9 441.2h0M207.9 523.0h0M163.3 556.9h0M297.4 395.6h0M317.7 381.9h0M99.2 564.7h0M302.4 451.8h0M219.8 459.2h0M221.2 454.2h0M303.3 385.5h0M298.8 428.1h0M176.3 515.5h0M90.0 625.8h0M226.3 461.4h0M251.9 415.6h0M65.4 627.6h0M212.4 480.1h0M100.9 589.0h0M277.1 403.4h0M280.0 442.1h0M140.4 572.6h0M100.1 597.5h0M125.5 582.4h0M221.4 478.8h0M174.5 503.3h0M137.5 530.8h0M284.0 437.8h0M45.3 659.3h0M71.2 592.9h0M52.4 657.5h0M233.9 483.6h0M230.7 519.0h0M87.5 636.2h0M159.0 557.5h0M70.0 621.1h0M179.9 505.3h0M235.6 497.8h0M311.6 395.9h0M287.5 409.2h0M304.2 383.1h0M113.1 576.6h0M229.2 470.3h0M278.8 434.9h0M259.1 427.7h0M165.9 582.5h0M114.3 569.5h0M270.5 424.8h0M133.4 553.6h0M141.3 553.5h0M220.3 568.9h0M176.4 483.8h0M151.6 496.4h0M288.3 394.2h0M185.2 496.0h0M248.6 442.4h0M199.0 576.4h0M85.0 596.3h0M53.5 651.1h0M285.3 427.0h0M289.9 432.7h0M232.1 488.9h0M48.1 649.3h0M287.7 390.8h0M101.9 575.5h0M303.0 402.4h0M290.7 395.9h0M91.1 619.0h0M299.4 382.0h0M240.8 439.6h0M223.7 481.8h0M158.8 535.2h0M307.5 435.0h0M310.0 411.1h0M220.0 494.5h0M108.6 561.3h0M237.2 454.0h0M296.5 397.1h0M112.7 608.7h0M183.3 539.9h0M267.5 450.0h0M290.2 387.9h0M234.4 499.6h0M115.5 587.8h0M51.7 655.1h0M132.4 595.1h0M152.8 579.0h0M231.7 491.6h0M158.7 511.5h0M228.8 444.3h0M223.8 509.3h0M273.3 431.9h0M231.2 454.6h0M77.3 598.2h0M188.8 491.5h0M273.3 411.6h0M171.7 553.5h0M249.7 452.9h0M244.1 441.8h0M94.7 623.4h0M195.0 488.8h0M206.1 576.5h0M157.8 541.9h0M150.1 517.2h0M169.8 557.2h0M266.8 418.0h0M216.7 466.7h0M291.7 395.5h0M264.6 412.9h0M178.8 540.0h0M201.1 508.3h0M170.2 557.3h0M175.2 485.1h0M321.6 389.2h0M280.9 423.9h0M275.5 428.8h0M270.6 451.5h0M135.1 523.3h0M245.4 431.4h0M205.7 475.8h0M135.3 540.9h0M296.0 416.5h0M295.7 414.9h0M128.8 528.0h0M233.9 511.4h0M132.1 536.5h0M57.1 644.7h0M222.1 467.2h0M237.4 482.2h0M308.6 389.6h0M177.4 545.6h0M242.8 436.8h0M72.8 607.5h0M184.3 542.3h0M145.4 531.9h0M200.7 476.3h0M51.2 639.5h0M104.4 536.9h0M235.0 479.8h0M87.6 638.0h0M135.3 544.8h0M299.6 413.3h0M142.7 597.4h0M66.3 642.6h0M261.2 428.7h0M316.5 421.8h0M255.2 424.3h0M286.7 384.1h0M229.6 446.8h0M55.6 633.9h0M59.3 650.9h0M290.7 394.1h0M268.8 399.6h0M313.3 385.9h0M266.1 475.4h0M50.0 641.3h0M117.2 627.3h0M294.4 389.7h0M293.9 409.0h0M126.9 521.1h0M235.8 489.6h0M50.7 639.4h0M252.1 443.7h0M50.4 654.9h0M117.1 590.8h0M142.0 540.7h0M227.7 443.9h0M105.0 575.3h0M96.5 624.7h0M164.8 572.2h0M186.0 499.6h0M73.5 651.3h0M122.4 571.1h0M70.3 643.7h0M245.4 436.9h0M115.6 635.5h0M220.2 471.4h0M48.2 644.0h0M175.5 589.9h0M60.1 651.2h0M253.4 427.1h0M115.3 623.3h0M52.5 652.2h0M161.2 506.3h0M107.1 574.2h0M219.8 490.7h0M137.1 573.5h0M69.9 640.1h0M52.9 627.4h0M247.1 470.7h0M290.0 415.6h0M226.7 500.2h0M195.9 496.0h0M263.2 404.9h0M280.4 403.2h0M212.6 529.8h0M115.2 587.5h0M256.1 499.1h0M264.3 436.1h0M141.6 611.4h0M305.6 414.5h0M221.2 566.4h0M134.9 517.8h0M125.0 571.3h0M98.4 605.5h0M230.9 441.4h0M141.8 572.2h0M252.2 455.5h0M323.1 383.2h0M56.1 652.9h0M321.5 400.9h0M263.8 436.4h0M299.8 442.3h0M197.8 484.7h0M197.2 497.3h0M188.5 483.5h0M146.7 562.4h0M226.2 440.3h0M114.1 558.2h0M48.0 654.5h0M137.8 571.7h0M222.2 470.4h0M279.3 389.9h0M117.6 563.2h0M95.2 587.8h0M118.8 618.6h0M44.7 656.6h0M124.3 588.1h0M45.6 651.9h0M218.5 557.4h0M256.3 417.1h0M120.7 625.3h0M47.8 652.5h0M163.0 546.6h0M258.1 411.6h0M321.1 414.7h0M187.7 492.3h0M173.6 533.9h0M55.2 638.9h0M123.8 538.2h0M148.6 513.4h0M199.7 526.7h0M214.1 506.7h0M317.3 402.7h0M309.7 382.7h0M275.6 433.5h0M218.2 460.9h0M299.2 384.8h0M155.6 503.7h0M185.9 486.3h0M76.0 604.3h0M262.8 427.3h0M241.9 472.1h0M239.2 500.3h0M136.5 525.4h0M188.0 493.4h0M88.7 609.6h0M160.8 528.9h0M308.5 387.5h0M49.5 642.9h0M108.8 560.2h0M187.9 571.4h0M163.4 511.7h0M247.4 506.4h0M127.1 555.8h0M322.9 436.2h0M47.5 650.7h0M67.1 644.6h0M59.0 627.5h0M298.0 406.7h0M200.2 476.8h0M57.2 653.3h0M113.6 637.4h0M183.1 518.7h0M164.8 538.0h0M119.8 550.1h0M123.9 595.2h0M99.2 630.6h0M213.0 465.0h0M153.1 582.3h0M131.6 549.3h0M195.8 556.3h0M172.8 537.5h0M164.3 514.0h0M272.9 496.6h0M191.3 488.6h0M276.8 411.9h0M140.7 554.6h0M61.2 634.8h0M311.6 448.8h0M320.4 391.3h0M215.9 470.9h0M247.3 449.2h0M59.8 626.8h0M50.8 652.8h0M231.3 437.9h0M181.1 514.3h0M299.8 385.7h0M318.6 380.6h0M64.5 624.2h0M197.9 496.9h0M265.9 419.5h0M54.4 636.0h0M217.9 476.2h0M127.1 533.4h0M121.3 584.2h0M205.2 529.5h0M157.0 506.1h0M210.5 464.7h0M107.7 609.2h0M286.1 468.8h0M300.6 395.1h0M154.8 519.9h0M254.2 443.5h0M153.6 514.3h0M294.8 393.8h0M256.4 424.9h0M195.3 499.2h0M258.5 444.4h0M97.7 613.9h0M122.6 542.2h0M297.1 400.9h0M58.7 624.5h0M264.9 422.2h0M128.4 579.1h0M119.0 570.1h0M215.8 477.5h0M104.3 594.3h0M47.6 647.0h0M252.8 437.4h0M63.5 636.7h0M58.6 635.3h0M264.1 423.9h0M60.1 631.4h0M248.7 434.9h0M107.8 604.7h0M141.4 521.7h0M69.3 646.8h0M287.4 466.7h0M272.2 472.0h0M93.6 578.0h0M229.4 482.0h0M253.6 455.3h0M278.7 433.6h0M270.0 404.7h0M126.7 585.7h0M173.4 496.9h0M62.7 647.6h0M167.7 497.0h0M44.3 651.3h0M207.3 534.2h0M299.6 406.7h0M121.7 588.6h0M104.2 575.7h0M129.2 550.3h0M173.2 554.7h0M133.2 575.5h0M214.7 508.2h0M165.8 498.0h0M61.1 636.7h0M198.2 500.8h0M200.8 476.7h0M67.4 620.0h0M90.8 625.4h0M230.0 474.3h0M213.0 519.6h0M158.4 520.0h0M60.5 649.6h0M78.7 592.2h0M98.5 617.9h0M168.5 495.1h0M127.3 571.3h0M207.7 467.5h0M52.3 656.7h0M301.1 381.4h0M92.0 615.4h0M70.2 633.3h0M233.8 459.2h0M155.1 565.6h0M285.2 387.5h0M289.5 388.6h0M202.8 469.9h0M168.5 561.3h0M180.5 563.3h0M103.2 541.6h0M68.6 643.5h0M96.3 611.7h0M59.1 648.1h0M103.4 573.7h0M179.0 545.2h0M146.0 580.0h0M159.8 544.2h0M144.4 580.4h0M75.5 646.1h0M137.2 533.5h0M139.9 533.5h0M131.4 565.4h0M93.2 626.3h0M125.9 559.4h0M80.8 635.4h0M91.0 598.6h0M112.0 605.8h0M204.1 550.9h0M135.6 581.9h0M205.3 473.2h0M113.0 557.7h0M129.0 534.5h0M65.9 645.5h0M246.2 450.1h0M80.1 615.1h0M264.5 453.4h0M72.4 639.6h0M198.7 493.2h0M292.4 426.4h0M89.3 625.7h0M291.3 387.2h0M117.5 589.8h0M235.2 454.9h0M69.1 637.1h0M215.6 497.2h0M93.4 622.0h0M99.1 590.4h0M151.2 542.6h0M286.5 400.7h0M305.3 382.7h0M101.1 623.9h0M212.1 512.6h0M295.1 380.5h0M310.9 397.0h0M112.2 577.7h0M54.9 649.9h0M178.2 520.5h0M67.2 612.4h0M252.2 431.0h0M50.3 655.0h0M79.1 609.8h0M57.3 644.8h0M268.5 408.6h0M195.4 512.1h0M298.3 388.1h0M110.1 596.4h0M162.0 527.4h0M262.1 417.1h0M203.9 505.3h0M278.7 419.0h0M190.8 485.6h0M292.4 447.4h0M236.8 471.1h0M113.5 563.6h0M148.4 533.2h0M323.1 395.4h0M90.3 597.5h0M217.1 471.7h0M166.5 579.9h0M304.2 380.1h0M237.7 453.3h0M59.4 646.8h0M168.4 510.2h0M188.4 492.4h0M240.5 516.9h0M192.5 534.7h0M257.6 445.1h0M234.9 450.3h0M97.1 637.5h0M281.8 421.0h0M192.3 494.0h0M138.4 511.2h0M230.9 520.3h0M156.0 546.1h0M246.9 460.8h0M50.9 643.4h0M218.4 486.1h0M186.7 497.1h0M283.8 398.3h0M162.1 504.2h0M151.4 522.0h0M107.3 625.7h0M293.2 407.5h0M215.2 488.5h0M261.5 412.2h0M273.2 454.8h0M317.4 448.6h0M115.8 599.8h0M233.6 468.5h0M98.1 618.8h0M179.5 525.1h0M131.0 557.6h0M144.8 541.2h0M101.4 596.3h0M89.3 580.6h0M296.3 397.7h0M253.0 475.1h0M128.2 550.0h0M171.3 560.7h0M193.2 532.8h0M86.8 621.5h0M129.6 598.0h0M110.8 532.9h0M186.7 506.4h0M60.5 645.9h0M276.1 450.2h0M54.5 653.4h0M304.8 411.0h0M145.3 532.9h0M175.8 550.3h0M220.5 565.6h0M160.2 560.6h0M136.0 557.4h0M275.1 410.1h0M257.7 437.8h0M71.7 604.1h0M139.8 627.5h0M62.0 621.3h0M247.0 483.2h0M150.3 517.0h0M226.9 442.9h0M165.9 489.7h0M262.4 436.3h0M265.3 420.4h0M118.9 575.7h0M163.3 522.2h0M144.6 527.7h0M216.4 445.8h0M281.2 403.5h0M208.7 485.9h0M202.5 533.6h0M280.3 436.9h0M296.6 398.8h0M143.2 599.2h0M68.1 607.6h0M126.6 582.1h0M53.9 654.8h0M208.2 503.9h0M139.0 590.0h0M79.5 634.5h0M188.8 495.0h0M293.9 399.5h0M180.0 498.0h0M223.5 569.4h0M51.3 651.4h0M133.6 531.9h0M185.0 494.7h0M152.7 518.1h0M54.1 645.8h0M178.8 494.9h0M48.2 645.9h0M148.9 620.5h0M256.7 519.3h0M169.7 552.6h0M121.4 597.2h0M196.6 470.9h0M170.0 528.7h0M288.5 406.3h0M90.1 626.9h0M317.2 380.6h0M65.4 651.9h0M143.4 547.4h0M70.5 601.3h0M197.4 495.6h0M229.5 447.4h0M127.1 590.4h0M285.3 456.5h0M171.4 590.9h0M173.1 546.2h0M206.8 584.6h0M149.9 605.3h0M87.4 566.2h0M190.2 491.8h0M295.2 394.2h0M261.3 453.5h0M62.2 623.2h0M272.6 396.9h0M281.1 429.8h0M272.0 451.8h0M236.5 478.1h0M261.8 453.5h0M129.2 536.6h0M92.8 581.9h0M181.2 562.3h0M292.1 391.0h0M150.9 576.1h0M218.3 517.6h0M277.8 399.7h0M205.9 491.4h0M145.6 517.3h0M321.8 389.3h0M237.5 490.8h0M58.2 646.9h0M116.9 595.1h0M129.9 578.3h0M321.3 388.5h0M288.7 398.0h0M300.8 383.3h0M316.6 398.3h0M262.8 458.0h0M212.8 559.9h0M168.9 535.2h0M77.4 604.1h0M177.7 501.7h0M247.5 431.8h0M135.2 547.6h0M224.8 501.5h0M52.7 648.5h0M306.8 400.7h0M284.4 400.7h0M111.8 558.4h0M253.0 472.6h0M317.6 393.8h0M193.3 491.9h0M182.8 508.8h0M160.0 566.0h0M229.5 508.9h0M195.1 496.7h0M58.3 627.7h0M77.2 613.6h0M211.3 572.3h0M196.2 478.4h0M234.2 547.3h0M151.5 575.4h0M189.8 516.2h0M137.2 603.5h0M64.3 648.2h0M160.3 588.3h0M241.4 437.1h0M200.7 471.0h0M135.7 537.8h0M60.9 628.3h0M122.4 545.6h0M290.0 402.9h0M141.5 564.8h0M306.9 388.6h0M285.0 404.5h0M201.7 488.7h0M53.0 653.9h0M140.9 542.2h0M273.8 408.6h0M148.1 535.0h0M250.6 458.6h0M162.5 498.7h0M77.6 623.5h0M124.2 614.9h0M159.1 568.6h0M264.7 419.2h0M119.1 581.1h0M180.1 552.5h0M230.5 497.0h0M257.8 467.9h0M216.2 483.2h0M274.7 412.6h0M46.2 658.2h0M302.8 389.8h0M106.5 599.8h0M180.7 487.5h0M169.4 494.4h0M259.5 461.4h0M254.4 434.5h0M120.5 557.9h0M211.0 466.1h0M100.0 576.3h0M225.5 460.8h0M187.3 494.2h0M249.9 447.3h0M140.4 540.8h0M234.6 448.4h0M80.5 614.9h0M256.6 413.2h0M168.7 537.3h0M143.5 590.1h0M301.9 390.4h0M84.9 606.8h0M246.3 427.8h0M208.7 526.2h0M202.0 486.7h0M184.2 540.1h0M110.5 552.5h0M321.3 389.2h0M308.8 380.6h0M132.7 562.4h0M85.0 610.6h0M272.5 422.0h0M284.5 475.4h0M90.7 590.4h0M290.9 390.1h0M250.7 478.7h0M183.3 500.2h0M287.6 459.4h0M291.2 402.6h0M123.1 559.5h0M79.6 612.9h0M253.7 431.7h0M115.7 601.3h0M144.4 529.9h0M181.7 526.6h0M179.7 532.2h0M276.0 402.6h0M68.9 628.5h0M76.9 618.6h0M128.4 582.2h0M50.5 653.0h0M233.3 463.6h0M153.0 565.2h0M250.9 455.2h0M293.8 456.0h0M102.1 602.2h0M308.7 398.8h0M61.3 641.0h0M174.9 533.0h0M45.8 647.1h0M119.6 580.5h0M261.2 460.8h0M128.9 536.2h0M108.7 576.3h0M137.5 592.8h0M182.7 540.8h0M239.5 488.8h0M308.1 405.6h0M265.3 449.4h0M263.4 441.6h0M215.1 459.6h0M291.8 404.1h0M218.2 463.0h0M73.5 642.7h0M65.3 633.2h0M266.7 477.7h0M148.8 538.0h0M310.0 403.4h0M104.7 617.0h0M169.9 596.9h0M196.4 501.7h0M127.8 519.7h0M118.0 550.7h0M297.3 447.4h0M243.5 467.2h0M81.5 606.1h0M166.9 595.1h0M282.7 439.4h0M259.8 464.2h0M143.5 555.2h0M269.3 423.0h0M59.1 636.8h0M288.7 433.6h0M103.9 584.8h0M281.7 424.7h0M131.1 578.4h0M106.0 599.4h0M161.9 559.5h0M132.3 516.8h0M319.5 383.3h0M206.5 477.1h0M187.6 487.6h0M96.4 629.2h0M189.0 554.3h0M273.8 410.4h0M67.3 647.1h0M298.4 395.2h0M87.2 596.2h0M220.3 524.5h0M261.1 417.5h0M187.0 488.1h0M178.6 555.4h0M192.7 515.9h0M104.6 583.3h0M161.1 509.5h0M153.8 574.2h0M268.8 437.5h0M53.6 649.6h0M254.1 442.0h0M172.4 488.7h0M56.6 613.2h0M123.8 560.5h0M255.5 433.8h0M86.0 587.7h0M54.8 631.5h0M304.6 388.4h0M122.9 538.9h0M152.4 516.2h0M296.4 407.9h0M118.3 553.5h0M283.6 420.8h0M172.4 521.3h0M226.5 473.6h0M168.6 580.1h0M201.1 532.4h0M214.2 521.4h0M247.6 482.2h0M315.4 390.6h0M104.3 559.8h0M120.4 585.9h0M159.7 514.7h0M190.7 525.8h0M225.1 487.4h0M88.5 608.0h0M117.7 529.0h0M217.2 484.0h0M272.6 396.1h0M219.2 475.9h0M133.0 538.5h0M263.5 490.2h0M203.0 493.7h0M102.9 562.4h0M280.0 411.2h0M285.8 428.0h0M135.5 586.2h0M205.5 466.1h0M147.8 535.8h0M51.9 644.6h0M290.9 405.0h0M260.7 447.1h0M175.3 494.6h0M230.6 584.2h0M159.8 543.0h0M258.0 419.6h0M197.3 477.1h0M242.0 523.2h0M255.9 444.8h0M125.3 571.6h0M290.2 415.6h0M280.1 395.8h0M58.5 651.2h0M317.1 386.5h0M201.8 483.0h0M107.7 580.8h0M195.5 555.4h0M248.0 437.3h0M283.2 428.3h0M45.0 655.5h0M249.0 453.4h0M70.8 591.8h0M164.6 488.3h0M293.3 388.8h0M238.1 482.0h0M116.5 587.7h0M201.4 493.9h0M59.0 625.1h0M203.6 500.8h0M264.4 433.2h0M208.1 585.9h0M104.1 587.4h0M164.4 564.3h0M134.1 597.2h0M107.8 606.5h0M254.5 429.3h0M70.2 622.6h0M241.7 470.7h0M119.1 571.1h0M88.2 633.5h0M97.8 623.8h0M44.0 659.3h0M139.3 571.0h0M222.2 450.0h0M169.3 511.7h0M270.9 413.2h0M77.9 626.6h0M71.4 631.2h0M284.2 420.5h0M119.5 561.7h0M98.6 578.2h0M311.8 379.9h0M99.5 558.6h0M234.6 485.4h0M48.0 644.9h0M268.7 447.5h0M303.3 400.2h0M138.7 547.5h0M105.6 550.6h0M96.9 558.4h0M224.1 459.1h0M87.8 609.4h0M280.2 424.6h0M152.4 534.6h0M282.9 408.8h0M166.6 523.5h0M215.0 514.0h0M294.1 420.3h0M297.8 396.2h0M93.3 604.4h0M138.0 542.8h0M227.7 472.8h0M222.8 498.1h0M320.7 387.0h0M139.1 538.2h0M300.9 414.8h0M69.7 598.1h0M95.8 563.3h0M216.6 467.8h0M127.9 556.6h0M58.7 623.0h0M101.3 644.2h0M177.1 536.2h0M171.5 496.3h0M248.1 439.4h0M284.1 424.4h0M262.5 452.8h0M45.6 659.1h0M167.3 563.1h0M181.2 498.1h0M202.2 579.0h0M239.3 524.3h0M132.0 565.5h0M51.9 645.7h0M237.0 473.3h0M97.5 579.3h0M212.8 483.1h0M49.2 655.7h0M237.3 491.9h0M73.6 628.2h0M173.0 505.0h0M81.5 594.1h0M126.7 588.5h0M94.1 614.4h0M217.6 535.7h0M168.9 500.7h0M289.5 401.6h0M272.4 397.9h0M250.1 434.5h0M183.9 554.7h0M210.0 460.8h0M267.6 506.0h0M167.7 479.7h0M261.9 453.6h0M199.2 525.4h0M102.3 620.1h0M126.3 576.0h0M49.0 645.1h0M291.6 401.0h0M236.9 477.7h0M212.2 469.0h0M281.9 395.5h0M109.3 586.8h0M160.7 504.8h0M142.8 518.2h0M98.9 603.6h0M200.0 533.8h0M264.0 430.3h0M278.4 435.3h0M239.9 458.1h0M125.3 544.9h0M121.5 556.4h0M161.5 540.6h0M238.0 441.2h0M298.7 406.9h0M197.4 566.3h0M199.9 486.6h0M110.4 612.2h0M51.6 655.6h0M93.9 623.5h0M121.0 519.3h0M240.3 473.4h0M307.0 405.7h0M230.8 490.0h0M206.1 499.4h0M50.1 653.1h0M131.1 619.0h0M315.3 403.0h0M134.3 581.1h0M233.4 477.9h0M210.8 457.1h0M255.1 454.7h0M90.1 617.0h0M246.1 428.5h0M182.4 550.8h0M47.5 655.3h0M172.7 487.7h0M205.1 522.8h0M279.1 427.2h0M145.8 519.4h0M98.5 548.9h0M145.7 522.3h0M131.2 521.6h0M130.9 530.2h0M201.7 493.7h0M125.2 544.6h0M184.8 502.6h0M80.2 619.1h0M311.2 406.0h0M177.1 491.0h0M165.4 569.6h0M167.0 551.7h0M224.5 493.5h0M244.3 484.7h0M245.5 444.0h0M163.6 505.3h0M234.7 478.8h0M279.5 398.7h0M290.3 393.8h0M127.5 528.2h0M178.3 590.9h0M322.5 395.8h0M284.5 388.3h0M210.4 500.7h0M230.5 477.5h0M71.1 618.4h0M229.5 442.2h0M186.5 502.5h0M121.8 579.3h0M91.2 613.1h0M255.7 434.2h0M235.7 498.6h0M169.2 502.8h0M310.3 379.9h0M51.4 643.8h0M226.9 473.7h0M259.7 422.8h0M52.7 628.4h0M160.6 564.6h0M215.8 530.3h0M286.6 397.2h0M46.2 641.9h0M220.5 467.7h0M141.7 569.1h0M95.4 624.2h0M256.6 412.4h0M91.3 603.2h0M224.9 507.9h0M201.8 531.6h0M66.9 647.1h0M225.0 507.9h0M176.3 514.9h0M280.6 393.7h0M142.5 537.8h0M311.7 387.8h0M249.9 454.3h0M236.2 467.2h0M136.0 553.0h0M70.3 625.9h0M244.9 448.6h0M221.7 519.0h0M197.5 529.8h0M168.6 565.8h0M109.1 610.5h0M211.2 530.0h0M213.1 488.0h0M111.3 562.0h0M298.5 390.8h0M126.0 622.8h0M272.9 496.0h0M87.8 632.2h0M169.5 505.9h0M116.5 568.9h0M74.3 643.6h0M82.6 610.6h0M67.9 625.7h0M136.2 578.8h0M123.3 533.5h0M275.8 413.3h0M291.8 382.1h0M115.5 524.0h0M222.9 443.8h0M197.1 478.9h0M317.6 386.3h0M91.5 591.0h0M223.4 505.5h0M129.0 598.6h0M144.3 522.8h0M262.8 438.3h0M112.8 577.3h0M103.9 604.2h0M226.0 452.8h0M319.6 402.7h0M101.2 620.7h0M72.7 650.9h0M193.6 531.0h0M171.8 518.3h0M55.9 647.9h0M57.7 644.7h0M283.4 387.0h0M70.7 627.0h0M194.3 487.0h0M314.0 403.6h0M247.6 444.9h0M223.8 492.6h0M241.1 442.9h0M226.4 470.0h0M87.4 594.3h0M301.0 461.3h0M244.0 518.3h0M284.0 426.4h0M281.6 397.5h0M72.3 648.0h0M69.5 635.8h0M287.9 407.6h0M179.5 506.1h0M268.0 439.1h0M284.3 407.0h0M237.2 446.1h0M290.3 472.5h0M184.5 492.1h0M148.2 568.2h0M216.0 508.1h0M210.7 489.3h0M171.8 498.3h0M58.0 625.1h0M225.6 533.3h0M169.9 524.9h0M154.9 510.1h0M246.5 448.6h0M180.9 494.3h0M259.4 424.4h0M63.2 647.0h0M58.7 611.9h0M307.7 389.8h0M128.7 574.6h0M304.0 382.3h0M218.8 504.5h0M283.1 409.1h0M207.7 506.0h0M82.4 645.9h0M69.9 622.3h0M166.4 508.9h0M112.6 568.9h0M67.0 632.2h0M258.6 444.6h0M150.2 593.7h0M260.5 439.8h0M176.2 515.2h0M78.7 634.5h0M155.4 520.7h0M109.2 565.5h0M260.4 415.4h0M315.6 388.5h0M45.5 657.4h0M308.3 385.4h0M132.7 619.0h0M86.5 600.3h0M241.3 487.3h0M290.5 427.5h0M255.0 454.1h0M116.1 585.3h0M78.3 623.8h0M218.7 489.5h0M173.4 508.6h0M219.6 539.2h0M150.8 536.0h0M254.7 493.8h0M299.2 382.6h0M247.4 435.3h0M252.0 461.2h0M120.5 541.2h0M231.1 505.4h0M299.7 436.9h0M267.9 418.6h0M305.1 384.5h0M236.6 442.1h0M236.7 438.2h0M92.2 563.0h0M109.5 599.8h0M206.3 463.2h0M294.3 390.7h0M108.3 564.6h0M61.6 630.9h0M226.9 466.9h0M170.7 548.8h0M296.6 406.0h0M297.2 384.6h0M242.8 437.0h0M109.9 567.6h0M233.7 452.7h0M215.3 470.1h0M86.6 624.5h0M103.4 614.3h0M57.4 632.7h0M244.6 527.5h0M277.6 425.7h0M124.7 591.3h0M174.5 551.6h0M128.5 611.5h0M231.8 476.7h0M109.9 585.8h0M232.5 451.0h0M139.4 535.9h0M103.2 635.7h0M280.5 423.8h0M164.3 505.4h0M172.8 536.6h0M157.5 550.5h0M201.2 489.3h0M91.9 610.1h0M246.9 476.6h0M238.8 447.0h0M272.6 434.1h0M261.7 431.2h0M212.9 465.3h0M244.1 438.7h0M72.5 598.5h0M50.6 643.4h0M112.2 575.5h0M200.1 472.2h0M58.0 649.6h0M224.0 464.7h0M206.7 521.3h0M276.4 439.0h0M178.0 488.6h0M81.2 607.9h0M260.4 506.7h0M110.7 562.2h0M54.8 648.5h0M303.5 407.6h0M271.1 399.9h0M48.3 643.7h0M154.0 561.7h0M213.7 542.9h0M205.8 512.4h0M256.5 427.6h0M246.0 431.1h0M134.2 570.2h0M155.7 569.4h0M228.4 449.3h0M265.5 411.7h0M275.4 426.4h0M236.2 488.0h0M147.7 578.1h0M90.4 593.0h0M132.9 570.5h0M196.1 483.2h0M161.6 557.8h0M55.9 655.1h0M63.1 622.6h0M100.5 557.4h0M52.2 647.6h0M155.3 558.8h0M109.6 569.1h0M97.0 605.6h0M306.0 413.7h0M155.2 572.2h0M281.5 415.3h0M301.8 417.3h0M142.2 545.6h0M63.5 621.3h0M124.4 529.9h0M97.1 645.0h0M284.7 403.2h0M121.3 591.8h0M275.1 391.4h0M198.4 494.4h0M103.9 562.0h0M131.8 536.6h0M320.6 397.4h0M145.3 562.1h0M321.1 406.1h0M126.1 538.2h0M48.6 644.3h0M113.3 566.1h0M84.0 629.4h0M180.4 509.3h0M316.0 384.8h0M70.8 652.6h0M301.6 387.6h0M115.9 565.5h0M124.9 602.1h0M72.2 621.5h0M75.2 649.1h0M105.5 546.6h0M310.8 450.7h0M60.2 628.9h0M112.1 590.2h0M124.5 601.4h0M310.6 429.7h0M131.2 591.3h0M74.4 604.6h0M209.7 503.5h0M198.1 506.9h0M81.1 613.2h0M292.9 410.4h0M271.0 422.2h0M266.1 428.4h0M247.8 422.5h0M240.4 473.6h0M109.4 566.1h0M309.0 400.0h0M93.8 596.2h0M102.6 580.6h0M253.2 428.1h0M96.8 598.6h0M250.7 447.6h0M45.1 656.7h0M83.6 608.1h0M196.4 497.4h0M106.9 562.4h0M165.8 545.3h0M218.9 444.8h0M271.9 423.5h0M295.9 394.3h0M140.5 551.0h0M123.7 529.7h0M133.8 525.7h0M296.8 418.4h0M149.8 542.5h0M94.3 615.2h0M76.5 588.3h0M118.6 535.5h0M207.1 474.4h0M310.7 403.4h0M206.2 487.4h0M302.0 385.5h0M252.9 456.7h0M172.5 559.7h0M171.9 596.3h0M224.7 472.7h0M111.2 588.0h0M71.4 613.6h0M107.9 607.6h0M248.7 424.6h0M211.3 481.9h0M85.2 584.1h0M126.2 595.0h0M64.4 630.8h0M47.3 656.7h0M268.4 429.8h0M69.5 629.3h0M146.4 560.7h0M130.6 548.4h0M294.7 392.9h0M153.3 508.7h0M95.2 579.0h0M50.8 656.0h0M191.1 481.0h0M102.4 562.7h0M185.6 506.5h0M204.8 525.2h0M137.0 542.8h0M173.8 507.9h0M51.8 647.2h0M279.0 390.0h0M170.8 567.3h0M117.6 562.6h0M209.8 487.1h0M88.1 569.1h0M140.5 523.8h0M297.0 396.1h0M150.2 560.5h0M45.2 659.6h0M154.6 571.1h0M124.3 624.4h0M233.7 458.5h0M265.5 416.4h0M86.8 632.6h0M249.3 420.1h0M208.5 494.0h0M90.3 581.3h0M251.9 431.1h0M140.2 573.8h0M283.5 462.1h0M271.8 413.6h0M217.8 462.3h0M245.3 424.0h0M264.4 421.1h0M297.9 392.4h0M109.6 547.6h0M213.6 462.3h0M205.0 489.0h0M123.7 555.4h0M206.0 501.7h0M96.1 572.2h0M150.5 601.3h0M186.6 489.6h0M101.8 574.1h0M267.9 422.2h0M265.1 459.1h0M229.2 468.8h0M259.2 461.2h0M279.7 437.0h0M251.7 414.8h0M306.8 426.2h0M89.7 598.4h0M226.4 491.6h0M286.4 435.1h0M254.1 449.2h0M102.2 595.1h0M279.5 408.8h0M49.6 650.8h0M283.7 427.5h0M137.6 546.1h0M49.9 651.4h0M156.1 513.2h0M99.1 586.2h0M293.5 388.7h0M220.8 483.1h0M251.4 435.9h0M209.7 474.6h0M108.7 564.5h0M264.0 432.0h0M106.7 605.1h0M94.9 612.0h0M240.1 470.4h0M266.0 421.0h0M109.4 566.7h0M277.6 423.6h0M192.6 489.0h0M123.3 599.8h0M56.7 637.6h0M274.4 474.5h0M103.0 593.1h0M270.8 408.4h0M239.8 478.3h0M161.0 555.2h0M291.4 409.0h0M260.3 442.8h0M108.5 630.5h0M311.9 388.5h0M201.1 488.6h0M273.4 499.2h0M47.9 640.1h0M257.6 435.6h0M67.8 614.6h0M150.5 577.2h0M136.7 543.0h0M267.0 506.7h0M212.0 498.5h0M133.2 608.1h0M122.7 574.4h0M247.7 433.8h0M234.5 509.3h0M295.4 408.2h0M202.9 495.5h0M85.3 632.5h0M236.6 529.9h0M62.9 628.2h0M161.4 559.2h0M240.8 441.9h0M233.4 450.5h0M116.0 603.4h0M288.9 390.4h0M145.1 589.9h0M155.9 522.2h0M114.8 571.5h0M173.2 527.4h0M78.1 603.8h0M276.5 434.5h0M112.0 592.5h0M86.2 613.0h0M187.4 504.2h0M286.1 443.0h0M100.8 581.0h0M95.4 604.6h0M191.5 514.2h0M201.3 509.7h0M131.3 551.2h0M195.6 495.4h0M211.2 531.9h0M130.1 532.8h0M64.1 625.6h0M193.4 497.0h0M189.3 542.7h0M294.0 393.2h0M122.2 599.2h0M207.3 502.7h0M72.1 616.0h0M241.4 440.4h0M313.7 397.6h0M43.6 655.0h0M314.9 433.1h0M87.9 633.0h0M107.0 583.9h0M68.1 640.2h0M216.0 470.2h0M96.9 592.5h0M167.3 562.7h0M93.7 612.9h0M128.6 556.7h0M301.1 387.7h0M291.9 397.7h0M230.5 515.2h0M187.7 493.6h0M263.7 419.5h0M149.4 517.3h0M78.8 636.1h0M307.3 391.0h0M213.2 555.3h0M78.8 596.7h0M202.4 478.6h0M190.5 490.9h0M283.0 394.5h0M198.9 478.4h0M149.0 594.3h0M52.8 655.3h0M105.5 616.1h0M102.5 577.4h0M59.7 627.9h0M103.5 624.6h0M263.1 457.8h0M276.6 429.8h0M142.6 517.6h0M248.3 484.0h0M59.7 637.8h0M238.3 482.1h0M174.7 579.8h0M49.3 643.5h0M177.6 519.2h0M193.9 521.6h0M239.3 516.7h0M126.5 540.9h0M270.2 418.5h0M221.7 544.0h0M258.8 454.5h0M152.2 547.2h0M281.0 441.4h0M265.9 448.4h0M209.4 480.9h0M55.8 617.3h0M271.3 407.9h0M294.7 421.2h0M53.7 650.5h0M136.8 586.0h0M261.6 432.8h0M197.0 492.9h0M265.4 474.5h0M312.9 403.2h0M232.5 458.3h0M265.6 436.2h0M173.9 501.4h0M222.6 476.9h0M166.9 498.9h0M225.8 449.8h0M63.7 616.8h0M173.4 501.1h0M289.0 421.9h0M110.6 562.7h0M92.7 601.5h0M85.0 603.9h0M52.2 642.6h0M101.7 601.9h0M308.2 381.7h0M144.1 591.3h0M289.3 473.0h0M69.3 643.3h0M155.4 594.4h0M133.7 539.3h0M198.9 476.0h0M105.8 597.6h0M284.9 430.8h0M68.5 650.0h0M151.2 525.8h0M62.9 655.2h0M313.6 401.2h0M306.1 382.4h0M151.3 524.7h0M189.6 484.6h0M238.9 527.8h0M57.0 650.9h0M253.9 451.8h0M47.2 640.1h0M150.3 512.8h0M288.6 396.6h0M66.3 645.2h0M274.3 411.2h0M241.0 479.9h0M146.6 508.1h0M167.6 505.4h0M51.4 653.3h0M207.5 457.8h0M196.0 519.3h0M283.9 435.5h0M68.7 635.5h0M165.3 523.9h0M211.7 511.4h0M211.6 574.6h0M61.6 634.8h0M309.4 387.1h0M166.7 521.3h0M194.6 492.1h0M91.4 612.8h0M246.7 446.0h0M208.9 499.9h0M311.8 409.6h0M49.7 657.5h0M140.6 614.1h0M277.1 444.6h0M239.0 439.7h0M62.1 626.1h0M193.7 525.4h0M201.7 500.6h0M121.9 595.8h0M189.9 547.2h0M122.0 558.1h0M189.1 524.8h0M230.4 487.2h0M75.4 613.9h0M288.9 389.8h0M207.0 464.9h0M138.4 532.2h0M167.5 540.6h0M241.1 444.9h0M234.1 446.6h0M241.6 475.8h0M78.2 647.9h0M119.6 549.1h0M266.5 456.8h0M223.3 491.3h0M197.8 492.8h0M54.7 646.2h0M254.3 463.1h0M189.3 477.2h0M289.0 391.7h0M188.8 565.1h0M236.9 446.7h0M183.4 513.6h0M136.5 562.1h0M215.9 520.5h0M180.1 496.3h0M272.8 409.6h0M137.3 566.0h0M124.1 585.9h0M175.7 497.2h0M289.6 433.7h0M54.9 652.8h0M202.0 473.4h0M315.5 383.7h0M245.3 463.1h0M141.9 539.6h0M99.0 619.0h0M88.5 592.4h0M191.4 484.7h0M76.6 649.5h0M93.0 594.4h0M212.5 548.6h0M52.7 638.1h0M183.6 478.1h0M266.3 427.3h0M61.8 621.6h0M55.2 643.5h0M204.4 570.1h0M158.2 574.7h0M227.3 457.8h0M204.8 489.0h0M177.6 505.7h0M200.2 487.7h0M73.3 607.7h0M244.2 532.1h0M54.6 637.7h0M96.6 598.1h0M69.0 640.2h0M208.2 472.0h0M80.3 587.7h0M194.8 470.1h0M210.9 511.5h0M52.0 649.3h0M176.9 526.6h0M155.9 569.0h0M291.5 426.2h0M145.0 503.7h0M162.4 517.9h0M102.4 569.9h0M93.1 612.9h0M91.1 567.9h0M312.2 397.2h0M80.3 628.5h0M155.9 530.0h0M208.5 474.2h0M74.4 629.3h0M145.2 545.1h0M69.4 623.2h0M72.8 606.9h0M309.1 411.1h0M143.4 565.5h0M114.0 603.5h0M192.4 516.1h0M261.3 467.1h0M268.1 409.7h0M251.8 467.6h0M200.0 532.2h0M141.0 570.2h0M75.1 624.1h0M268.5 408.5h0M146.9 543.0h0M60.2 648.3h0M275.8 415.2h0M75.0 631.4h0M121.1 586.7h0M318.2 388.7h0M90.2 620.9h0M139.5 581.4h0M255.8 436.6h0M263.3 406.4h0M213.4 531.3h0M46.6 657.3h0M148.4 539.9h0M90.7 583.4h0M196.9 472.9h0M61.6 642.7h0M286.3 396.1h0M54.4 641.2h0M219.4 471.8h0M69.4 597.1h0M249.7 446.8h0M278.8 435.7h0M160.7 513.3h0M194.9 496.2h0M279.9 412.6h0M60.7 641.7h0M262.6 412.9h0M195.7 489.7h0M192.1 533.4h0M170.9 514.7h0M291.1 399.7h0M280.8 403.5h0M116.6 604.7h0M81.4 635.6h0M272.4 408.8h0M143.2 520.9h0M187.0 582.8h0M209.0 491.1h0M107.9 563.2h0M106.8 578.5h0M304.9 383.8h0M78.6 614.4h0M124.0 602.9h0M206.9 535.0h0M50.3 655.7h0M263.5 412.5h0M271.2 410.4h0M230.3 464.3h0M263.7 423.5h0M185.1 528.3h0M74.8 625.4h0M293.8 394.3h0M188.7 511.5h0M212.7 519.2h0M183.5 540.3h0M264.3 449.3h0M204.2 469.8h0M189.9 498.7h0M278.2 440.5h0M206.8 462.3h0M237.7 451.7h0M134.2 596.7h0M129.7 538.2h0M279.4 406.0h0M205.0 457.1h0M177.5 497.3h0M160.5 506.1h0M196.2 482.1h0M138.1 562.0h0M182.2 500.1h0M195.9 585.7h0M250.9 439.1h0M174.9 556.2h0M98.9 616.0h0M260.6 425.3h0M130.6 563.7h0M79.3 599.1h0M220.1 510.3h0M184.6 576.8h0M311.0 411.7h0M306.3 393.5h0M216.5 520.8h0M204.6 481.5h0M96.8 596.9h0M271.6 446.4h0M210.0 471.6h0M280.8 429.7h0M226.6 480.8h0M187.1 506.2h0M125.1 587.3h0M262.1 520.2h0M98.0 568.9h0M163.8 519.8h0M178.0 513.1h0M154.5 565.8h0M256.0 494.1h0M147.2 546.9h0M154.2 580.5h0M288.2 389.4h0M60.6 622.6h0M239.6 437.1h0M245.6 522.1h0M297.1 411.9h0M164.2 559.3h0M232.0 476.0h0M243.4 476.5h0M249.5 430.8h0M322.3 391.7h0M132.3 542.8h0M82.2 627.2h0M78.4 613.5h0M177.9 507.7h0M46.7 652.5h0M186.1 490.2h0M165.0 553.4h0M255.2 433.2h0M236.0 497.5h0M250.2 427.1h0M81.4 633.0h0M172.3 565.8h0M181.6 491.9h0M229.9 452.4h0M55.1 639.1h0M110.2 561.7h0M137.0 536.5h0M314.7 404.3h0M210.6 477.6h0M58.9 656.0h0M128.3 540.1h0M81.9 635.0h0M260.2 429.1h0M313.1 395.8h0M83.7 624.6h0M145.9 514.5h0M163.2 544.4h0M89.1 632.1h0M290.4 423.7h0M58.4 640.2h0M274.5 408.5h0M247.9 482.9h0M286.2 426.4h0M169.6 523.8h0M270.5 422.3h0M161.3 515.4h0M211.1 472.5h0M162.1 521.0h0M209.8 484.8h0M289.7 422.5h0M60.8 638.4h0M104.8 573.5h0M95.1 592.3h0M288.6 465.1h0M182.2 496.9h0M275.9 409.8h0M176.0 510.7h0M175.6 496.0h0M191.6 500.0h0M123.4 621.7h0M92.1 601.8h0M213.3 459.4h0M198.5 490.6h0M106.1 585.6h0M81.3 630.7h0M97.9 585.2h0M53.1 646.1h0M65.1 617.8h0M163.5 522.5h0M123.5 572.8h0M122.6 558.1h0M162.7 529.2h0M98.0 580.8h0M225.9 509.5h0M212.3 463.4h0M226.0 460.6h0M243.6 446.8h0M319.9 382.7h0M79.2 637.2h0M257.2 414.8h0M174.6 548.6h0M103.3 576.5h0M148.0 545.1h0M174.9 585.0h0M284.8 404.8h0M52.9 639.0h0M55.1 657.2h0M63.3 632.5h0M143.3 557.8h0M294.5 408.0h0M71.3 637.0h0M88.0 578.0h0M217.8 503.0h0M76.8 622.3h0M109.3 581.2h0M308.0 419.8h0M235.9 450.9h0M232.2 557.0h0M261.2 408.4h0M300.2 402.1h0M58.6 622.5h0M279.8 394.3h0M214.3 476.6h0M283.7 417.9h0M59.6 617.0h0M98.3 580.2h0M76.2 617.4h0M74.0 625.4h0M72.7 638.9h0M47.2 643.3h0M183.7 541.0h0M230.1 447.8h0M217.6 522.0h0M198.1 521.6h0M318.7 386.1h0M264.5 412.2h0M252.7 445.3h0M86.1 594.6h0M296.9 411.0h0M70.9 604.2h0M322.6 397.4h0M238.0 494.2h0M170.1 556.3h0M265.4 453.4h0M149.9 539.4h0M174.3 546.3h0M95.5 612.3h0M264.1 426.5h0M201.0 514.8h0M283.5 397.9h0M91.2 593.0h0M179.3 587.0h0M61.0 628.5h0M237.1 472.8h0M237.7 475.3h0M185.4 522.9h0M196.4 506.8h0M185.7 556.2h0M81.3 622.8h0M259.8 458.9h0M154.7 557.3h0M45.4 649.3h0M191.5 558.4h0M126.1 549.9h0M172.9 564.6h0M183.1 518.4h0M265.6 421.8h0M104.1 619.7h0M67.8 625.2h0M143.0 565.7h0M73.8 617.0h0M166.2 547.1h0M129.5 532.0h0M181.8 483.2h0M192.8 508.2h0M263.3 440.0h0M44.2 651.5h0M57.7 656.1h0M115.7 574.8h0M224.6 498.3h0M269.5 442.1h0M223.1 534.5h0M153.4 510.9h0M157.1 500.3h0M134.5 517.4h0M225.4 505.7h0M171.6 539.8h0M199.6 501.7h0M173.9 538.0h0M56.1 657.6h0M78.6 637.3h0M82.8 580.5h0M284.2 475.5h0M306.5 380.2h0M312.7 401.5h0M80.9 597.8h0M60.4 633.1h0M175.1 513.6h0M296.7 444.1h0M278.4 465.7h0M76.7 645.8h0M310.1 395.8h0M169.5 536.9h0M258.9 497.0h0M202.8 480.3h0M149.5 545.4h0M294.5 406.5h0M91.6 571.9h0M79.9 620.4h0M118.9 603.5h0M89.5 637.6h0M230.4 477.0h0M159.4 547.6h0M271.5 443.8h0M252.3 431.2h0M295.0 386.4h0M217.0 466.7h0M235.0 501.6h0M157.7 522.3h0M309.9 420.7h0M287.0 417.9h0M133.6 583.4h0M262.4 502.9h0M119.9 577.4h0M90.6 614.3h0M67.0 624.8h0M254.8 473.1h0M209.6 462.3h0M297.1 422.0h0M150.7 561.8h0M95.9 587.7h0M307.2 400.6h0M226.4 527.2h0M131.8 614.1h0M315.1 381.9h0M314.4 394.3h0M169.3 517.7h0M284.3 461.4h0M157.4 519.0h0M159.2 549.5h0M63.0 604.9h0M47.4 656.8h0M190.0 522.8h0M282.2 437.8h0M272.3 406.8h0M162.2 512.5h0M238.6 446.6h0M95.1 618.1h0M304.0 445.3h0M239.4 482.9h0M200.3 488.7h0M267.0 426.8h0M224.7 538.9h0M292.6 408.3h0M177.2 548.4h0M193.5 501.2h0M58.2 623.3h0M273.0 399.5h0M295.5 418.1h0M50.2 636.9h0M211.5 527.3h0M205.3 473.2h0M245.2 438.0h0M318.4 381.0h0M142.9 534.7h0M193.8 476.2h0M203.5 501.5h0M322.1 382.9h0M219.6 516.3h0M241.7 439.6h0M56.3 626.1h0M232.4 484.5h0M46.3 647.7h0M138.1 509.3h0M61.3 624.8h0M89.0 645.3h0M287.6 413.5h0M270.1 444.5h0M190.9 550.7h0M158.0 504.0h0M249.2 416.3h0M97.8 623.5h0M146.0 517.4h0M279.2 432.3h0M171.4 512.4h0M287.9 394.0h0M296.0 421.7h0M130.0 544.1h0M61.9 655.6h0M263.6 490.1h0M312.1 384.9h0M83.4 629.2h0M291.4 401.8h0M183.0 530.1h0M76.9 628.8h0M164.9 553.1h0M280.0 400.6h0M122.9 568.6h0M194.0 485.5h0M191.5 472.7h0M167.2 501.3h0M281.2 436.4h0M239.7 435.5h0M77.9 604.1h0M200.5 485.1h0M75.8 603.7h0M260.9 421.1h0M82.1 620.7h0M45.2 649.7h0M258.9 439.8h0M163.7 493.0h0M175.4 511.5h0M210.1 517.7h0M292.0 416.5h0M213.5 470.1h0M86.2 621.1h0M187.3 565.7h0M153.6 545.7h0M226.8 480.8h0M142.3 546.9h0M181.4 556.7h0M202.4 465.0h0M62.3 623.3h0M57.6 626.8h0M127.6 541.8h0M235.5 474.1h0M207.6 473.0h0M273.4 434.0h0M111.1 611.9h0M228.5 499.7h0M208.1 494.6h0M269.2 451.5h0M125.8 567.6h0M241.7 467.3h0M309.6 406.3h0M48.4 654.5h0M105.4 631.3h0M57.1 634.0h0M265.0 416.7h0M278.0 423.9h0M316.0 392.8h0M93.2 630.5h0M166.4 524.6h0M203.9 487.4h0M314.6 399.9h0M54.3 646.1h0M260.7 462.3h0M248.6 446.1h0M60.0 658.7h0M229.7 501.6h0M119.9 572.5h0M163.1 521.5h0M160.0 517.3h0M85.8 623.9h0M301.5 387.4h0M261.4 408.8h0M270.8 427.4h0M206.7 490.7h0M132.8 573.6h0M244.9 439.2h0M225.5 449.0h0M105.1 543.8h0M133.3 545.4h0M195.7 608.6h0M161.8 532.2h0M187.4 502.3h0M216.8 564.8h0M206.5 519.4h0M296.4 394.1h0M161.1 547.5h0M227.6 459.3h0M300.3 394.8h0M316.6 424.1h0M128.1 599.2h0M294.3 385.9h0M291.2 425.5h0M65.1 624.6h0M61.2 625.5h0M114.4 598.0h0M228.9 510.2h0M217.1 491.9h0M81.0 632.5h0M87.2 595.2h0M302.8 401.8h0M199.3 506.6h0M146.8 557.1h0M168.8 489.5h0M207.8 525.5h0M302.9 417.4h0M185.3 532.4h0M80.1 616.9h0M165.6 553.7h0M198.6 524.4h0M53.3 643.9h0M201.9 482.5h0M178.9 528.9h0M51.2 650.5h0M166.0 516.8h0M131.8 625.5h0M186.7 516.2h0M277.2 401.0h0M152.1 536.0h0M192.2 502.4h0M213.5 507.8h0M272.5 449.1h0M81.6 595.5h0M125.6 546.2h0M164.3 582.2h0M46.5 657.8h0M109.1 566.1h0M150.4 521.7h0M244.7 435.4h0M138.5 565.5h0M130.4 544.8h0M114.6 597.5h0M178.3 519.9h0M160.3 544.3h0M245.5 450.5h0M62.8 646.7h0M239.4 442.1h0M90.5 596.6h0M86.0 627.6h0M199.5 526.6h0M97.0 621.0h0M299.9 389.0h0M227.5 533.3h0M149.1 584.2h0M118.0 555.0h0M150.6 565.5h0M242.2 509.5h0M244.0 441.0h0M278.3 419.9h0M93.9 583.6h0M158.5 537.1h0M293.4 382.0h0M94.8 586.7h0M83.7 611.2h0M245.8 462.3h0M229.3 490.1h0M140.0 534.1h0M246.0 449.2h0M56.8 637.0h0M274.2 407.7h0M86.9 622.1h0M300.7 405.4h0M147.1 561.2h0M319.5 405.4h0M200.4 477.4h0M123.1 531.6h0M113.5 557.0h0M45.9 653.8h0M265.8 435.7h0M262.6 437.4h0M89.2 622.7h0M216.3 458.7h0M230.2 495.3h0M153.9 544.6h0M50.2 637.6h0M235.6 452.9h0M277.3 406.2h0M89.8 617.3h0M274.5 467.9h0M64.9 637.0h0M72.0 605.9h0M94.2 587.8h0M302.3 381.7h0M51.1 648.1h0M54.6 646.4h0M105.3 613.8h0M179.9 560.9h0M190.6 545.6h0M262.0 426.6h0M154.0 518.6h0M121.8 553.5h0M124.8 559.7h0M89.9 628.6h0M221.3 496.3h0M213.1 457.6h0M218.1 452.9h0M64.5 601.9h0M305.2 410.2h0M240.3 477.1h0M54.2 654.7h0M85.1 601.9h0M227.1 575.1h0M256.2 422.7h0M231.6 449.3h0M138.5 545.1h0M74.5 604.4h0M125.4 535.9h0M85.9 597.6h0M84.2 599.4h0M147.2 551.6h0M308.7 380.7h0M178.7 544.4h0M212.0 510.2h0M217.0 496.0h0M110.9 587.6h0M277.5 414.6h0M60.2 609.9h0M303.2 395.4h0M130.5 596.8h0M282.5 411.1h0M176.8 561.7h0M128.7 549.9h0M84.1 590.2h0M51.1 652.1h0M99.0 601.6h0M268.0 417.4h0M166.1 523.1h0M281.3 403.0h0M192.7 514.3h0M113.9 601.0h0M229.6 547.1h0M136.5 533.1h0M220.4 471.9h0M115.8 559.0h0M149.9 498.9h0M267.5 408.8h0M144.2 504.4h0M120.4 553.1h0M159.5 589.2h0M152.5 504.4h0M208.7 486.1h0M179.3 588.4h0M222.5 530.6h0M156.7 584.6h0M89.5 590.9h0M95.9 580.6h0M196.7 494.4h0M215.6 473.3h0M89.3 616.1h0M133.5 578.1h0M118.2 609.2h0M78.0 585.4h0M147.0 609.6h0M137.7 565.7h0M148.5 510.2h0M218.1 513.7h0M51.3 639.9h0M244.2 453.8h0M86.6 594.5h0M58.8 635.5h0M158.9 495.6h0M205.4 494.2h0M156.4 539.9h0M168.8 527.3h0M303.4 380.6h0M260.9 438.1h0M223.5 551.5h0M155.8 613.1h0M141.8 550.8h0M310.8 405.0h0M149.2 530.2h0M282.6 401.9h0M147.4 567.0h0M178.5 480.1h0M187.1 504.7h0M296.1 404.3h0M281.8 396.2h0M285.7 428.6h0M295.9 415.4h0M302.2 389.7h0M298.1 441.2h0M51.6 646.7h0M189.2 496.0h0M170.9 582.4h0M46.9 657.8h0M85.9 597.6h0M240.5 447.5h0M178.5 492.7h0M219.5 492.3h0M311.9 408.3h0M199.0 549.5h0M206.3 522.4h0M108.4 555.7h0M193.6 475.9h0M265.7 496.5h0M221.9 451.1h0M144.2 530.3h0M139.1 609.4h0M65.8 607.5h0M141.6 529.0h0M223.3 498.4h0M106.9 602.0h0M224.6 446.7h0M125.6 580.8h0M196.6 498.4h0M312.5 395.2h0M183.3 502.7h0M308.6 381.4h0M267.2 451.8h0M247.3 433.4h0M281.0 407.9h0M159.2 523.1h0M150.2 539.4h0M154.1 558.4h0M278.7 404.2h0M266.0 428.7h0M238.4 463.9h0M249.1 436.7h0M86.4 605.7h0M232.4 477.0h0M186.4 477.4h0M316.1 381.4h0M161.7 552.3h0M48.1 648.2h0M209.5 550.9h0M90.3 582.1h0M235.9 479.1h0M126.8 584.3h0M210.3 465.8h0M197.8 483.6h0M268.2 408.1h0M130.7 542.1h0M136.2 584.8h0M240.9 471.9h0M203.2 539.7h0M83.6 599.6h0M104.5 598.8h0M120.7 544.1h0M178.4 509.5h0M301.8 414.0h0M156.3 586.3h0M194.4 496.9h0M81.7 613.7h0M149.0 511.9h0M297.5 403.1h0M101.6 606.6h0M246.0 518.1h0M63.1 623.9h0M130.3 569.0h0M45.7 651.8h0M44.4 652.0h0M308.8 408.7h0M139.0 585.3h0M237.2 480.3h0M145.0 565.7h0M66.2 637.7h0M72.6 596.8h0M109.7 585.1h0M113.0 598.4h0M301.9 397.5h0M183.7 543.6h0M141.0 514.4h0M172.8 543.1h0M106.5 612.0h0M298.2 386.9h0M80.7 614.3h0M160.5 523.2h0M250.4 459.7h0M146.7 536.6h0M133.1 559.8h0M56.9 637.1h0M129.8 609.2h0M77.8 624.5h0M140.3 547.7h0M280.4 416.9h0M170.5 514.4h0M272.7 401.1h0M68.4 616.9h0M301.5 394.6h0M71.8 647.3h0M151.8 518.8h0M305.5 412.3h0M73.1 595.0h0M94.5 593.9h0M300.0 406.9h0M115.0 607.1h0M153.1 573.0h0M132.6 590.3h0M116.2 562.0h0M295.1 447.5h0M282.3 412.2h0M289.1 400.5h0M233.0 489.1h0M315.6 391.9h0M52.3 648.8h0M129.8 524.6h0M314.5 403.1h0M320.8 384.3h0M239.1 434.6h0M238.7 467.1h0M174.2 540.9h0M159.5 525.4h0M175.6 548.1h0M248.9 433.0h0M156.9 494.6h0M120.2 588.5h0M136.3 528.5h0M263.0 439.2h0M157.3 539.3h0M199.1 483.5h0M190.3 487.5h0M126.4 617.7h0M216.6 489.4h0M313.7 403.2h0M307.9 438.6h0M130.4 549.9h0M114.2 616.0h0M304.5 392.0h0M205.5 466.6h0M65.7 630.4h0M146.2 595.1h0M87.2 615.0h0M264.0 438.2h0M173.8 520.0h0M115.1 620.8h0M244.0 487.8h0M128.1 543.3h0M129.1 574.6h0M125.7 578.2h0M204.7 557.7h0M159.3 540.8h0M216.8 471.1h0M139.3 541.0h0M207.1 516.8h0M268.3 424.0h0M209.6 511.3h0M82.7 638.1h0M103.8 572.3h0M101.6 580.8h0M292.8 398.8h0M254.0 440.8h0M257.9 464.5h0M127.3 551.0h0M69.8 611.8h0M194.4 487.6h0M162.9 504.1h0M169.0 563.1h0M82.4 623.4h0M116.2 534.0h0M263.5 460.3h0M126.6 595.2h0M263.2 471.7h0M132.1 569.3h0M252.4 444.5h0M293.1 399.4h0M256.1 503.1h0M123.5 601.6h0M322.2 396.6h0M100.7 546.6h0M110.0 599.7h0M157.4 515.0h0M107.0 581.8h0M51.5 652.3h0M275.4 443.5h0M229.9 520.9h0M46.1 654.3h0M261.4 454.3h0M299.2 421.5h0M185.0 505.8h0M209.2 487.1h0M221.2 485.5h0M298.7 415.9h0M181.3 500.2h0M180.7 490.8h0M117.1 614.8h0M301.3 409.1h0M286.2 428.8h0M65.9 625.9h0M207.5 506.2h0M265.2 414.7h0M192.0 501.0h0M124.4 531.5h0M249.3 428.2h0M71.5 638.4h0M299.9 416.0h0M220.0 454.5h0M197.5 492.0h0M192.3 531.2h0M130.9 596.0h0M55.0 654.0h0M270.6 470.4h0M67.4 650.0h0M122.5 559.4h0M190.5 518.8h0M297.9 415.5h0M135.7 576.5h0M132.4 547.6h0M203.2 495.7h0M75.5 619.1h0M156.6 565.0h0M47.6 650.2h0M182.6 494.6h0M295.6 389.8h0M74.6 603.4h0M198.7 580.3h0M53.8 646.9h0M132.2 581.5h0M243.9 431.7h0M184.8 488.7h0M84.5 603.0h0M205.6 480.7h0M97.5 575.4h0M63.4 609.7h0M149.7 564.9h0M82.9 628.3h0M96.7 616.1h0M315.3 387.0h0M139.7 541.3h0M97.4 614.5h0M114.8 550.8h0M137.7 510.3h0M302.4 387.8h0M238.6 489.1h0M116.3 595.5h0M124.0 547.3h0M115.2 575.0h0M103.6 579.2h0M100.7 619.3h0M182.0 542.2h0M296.7 422.7h0M304.9 408.1h0M181.3 585.5h0M122.8 547.5h0M44.4 656.7h0M186.2 522.7h0M64.7 642.4h0M101.8 597.7h0M166.1 495.2h0M44.7 658.0h0M126.8 586.7h0M159.1 542.1h0M194.7 535.6h0M273.7 446.8h0M216.9 522.4h0M62.1 631.2h0M160.9 505.8h0M212.8 485.4h0M166.2 520.7h0M236.8 477.6h0M149.3 548.0h0M210.5 471.1h0M266.2 423.1h0M168.1 537.2h0M233.4 499.2h0M185.7 498.4h0M279.0 410.0h0M232.0 488.3h0M250.8 464.6h0M208.8 488.0h0M76.3 579.5h0M228.7 494.9h0M73.0 637.9h0M70.9 601.6h0M260.6 412.7h0M53.3 640.6h0M278.0 442.8h0M73.0 623.1h0M48.6 656.0h0M200.7 526.7h0M297.4 415.7h0M175.5 533.3h0M89.2 581.0h0M208.3 485.7h0M191.1 584.3h0M151.1 523.4h0M262.3 410.6h0M279.9 395.3h0M117.9 564.8h0M254.3 435.8h0M203.7 500.5h0M260.9 458.7h0M177.5 533.6h0M299.3 461.1h0M145.8 517.3h0M158.8 547.8h0M221.1 560.6h0M187.5 523.5h0M288.0 431.7h0M239.0 490.9h0M136.1 530.5h0M265.0 423.1h0M261.5 457.4h0M261.8 463.9h0M63.5 620.6h0M234.0 446.2h0M283.8 506.0h0M276.3 401.6h0M165.1 523.7h0M186.4 546.4h0M142.0 572.2h0M161.8 502.0h0M266.6 429.8h0M110.8 569.0h0M273.9 406.9h0M71.6 637.5h0M43.9 652.0h0M309.6 408.1h0M121.2 619.0h0M143.1 548.4h0M197.3 520.2h0M105.4 577.6h0M228.6 464.9h0M312.3 408.9h0M253.3 431.8h0M47.1 650.4h0M235.2 498.5h0M136.4 607.0h0M235.1 471.4h0M184.0 472.5h0M156.2 575.8h0M174.7 514.1h0M269.4 465.7h0M88.7 569.0h0M167.5 562.0h0M267.4 510.1h0M192.5 472.4h0M285.8 406.0h0M169.6 507.3h0M286.0 391.6h0M146.1 550.9h0M283.9 409.1h0M260.1 457.6h0M238.6 491.4h0M113.8 626.9h0M217.6 514.5h0M300.3 413.9h0M170.8 563.5h0M44.6 656.0h0M56.1 644.9h0M43.5 653.1h0M243.0 444.8h0M214.3 545.4h0M266.4 456.1h0M175.9 562.9h0M218.8 466.3h0M194.1 493.8h0M305.5 411.5h0M268.8 419.5h0M52.5 656.2h0M248.8 433.7h0M59.4 651.7h0M114.5 577.4h0M322.0 386.0h0M199.8 533.4h0M176.5 510.9h0M200.9 487.7h0M273.9 421.6h0M262.2 426.3h0M104.0 582.6h0M313.8 394.4h0M165.2 558.2h0M151.9 544.7h0M108.6 579.2h0M185.8 481.7h0M49.4 650.6h0M254.9 418.1h0M112.4 610.9h0M292.3 425.5h0M302.7 388.2h0M147.5 603.4h0M162.9 549.9h0M300.1 386.9h0M184.0 548.6h0M43.4 653.2h0M218.6 463.9h0M220.8 485.4h0M89.8 612.2h0M180.5 589.9h0M94.6 572.7h0M111.0 564.3h0M195.4 515.0h0M166.5 496.3h0M278.5 438.4h0M158.8 549.1h0M167.2 565.5h0M283.1 428.7h0M322.3 401.7h0M48.4 638.8h0M260.5 490.4h0M127.0 577.1h0M136.6 568.7h0M317.4 431.7h0M99.6 613.5h0M246.3 449.6h0M223.7 529.9h0M124.3 541.4h0M114.0 550.7h0M264.7 440.0h0M205.1 459.7h0M65.9 627.2h0M191.9 512.5h0M213.4 568.6h0M281.6 390.9h0M247.9 550.9h0M70.6 637.0h0M65.5 617.3h0M95.5 584.8h0M130.8 565.4h0M143.8 523.2h0M102.8 569.0h0M257.2 425.6h0M206.6 540.3h0M225.7 494.7h0M194.8 563.3h0M229.3 470.4h0M277.0 439.0h0M111.5 542.9h0M256.8 462.1h0M50.1 658.1h0M98.8 580.4h0M156.0 490.8h0M64.0 635.8h0M161.4 516.8h0M241.3 470.8h0M84.5 632.4h0M67.0 637.2h0M264.3 475.3h0M155.3 500.5h0M107.6 570.3h0M49.9 648.7h0M262.5 460.6h0M167.9 538.4h0M318.4 387.4h0M123.0 573.2h0M252.4 457.2h0M182.7 483.3h0M307.1 389.4h0M170.3 507.1h0M305.9 401.5h0M301.7 401.7h0M172.5 551.3h0M99.9 599.7h0M78.4 599.9h0M189.7 506.7h0M316.5 391.7h0M86.5 604.5h0M59.5 648.1h0M228.4 462.6h0M105.8 604.4h0M157.9 511.0h0M232.2 505.0h0M224.3 484.7h0M169.6 515.0h0M135.1 509.9h0M128.9 554.7h0M237.0 530.1h0M111.7 612.8h0M151.6 566.3h0M283.3 409.6h0M151.0 508.5h0M250.6 446.2h0M267.3 415.2h0M281.7 415.3h0M184.4 538.1h0M202.7 487.0h0M241.5 463.5h0M131.6 534.6h0M142.4 575.1h0M110.4 561.6h0M47.0 650.3h0M101.4 553.0h0M148.3 581.9h0M180.2 547.4h0M55.6 642.3h0M135.1 540.9h0M245.9 423.8h0M297.7 395.1h0M112.9 577.9h0M96.6 598.4h0M104.7 613.9h0M105.0 563.4h0M321.5 385.2h0M202.5 526.1h0M213.2 470.4h0M121.0 528.1h0M65.6 634.6h0M52.4 649.7h0M205.2 508.8h0M249.7 456.1h0M92.3 577.9h0M312.9 401.1h0M104.4 618.0h0M162.7 591.8h0M48.7 637.6h0M186.2 587.5h0M94.2 619.7h0M287.7 384.5h0M320.0 384.0h0M260.7 411.1h0M318.2 388.2h0M140.0 612.9h0M85.5 621.9h0M310.6 381.7h0M99.6 584.1h0M188.3 536.8h0M254.8 423.4h0M60.8 626.5h0M245.0 463.7h0M89.6 618.0h0M231.8 451.0h0M100.6 578.6h0M159.6 495.4h0M185.5 550.3h0M118.1 567.4h0M45.7 657.4h0M165.4 521.4h0M102.6 600.2h0M127.8 564.1h0M119.8 553.2h0M241.2 485.3h0M288.7 430.9h0M147.7 583.1h0M248.2 434.3h0M129.7 539.9h0M54.0 655.9h0M74.1 620.1h0M307.3 407.8h0M294.2 392.5h0M104.9 620.5h0M154.4 524.9h0M132.8 551.1h0M107.7 560.3h0M279.1 441.9h0M46.0 654.1h0M245.7 452.5h0M188.1 547.9h0M159.6 579.2h0M201.6 507.0h0M192.8 488.4h0M295.0 423.4h0M311.0 389.9h0M236.5 527.0h0M222.1 465.6h0M121.9 539.6h0M87.6 589.3h0M62.4 618.8h0M272.1 399.6h0M285.5 421.1h0M245.8 477.2h0M79.9 592.1h0M199.9 490.0h0M214.1 509.1h0M151.7 515.3h0M243.3 431.1h0M276.8 407.0h0M98.1 633.1h0M227.9 537.1h0M167.4 541.3h0M268.6 431.0h0M170.1 562.1h0M55.3 644.8h0M223.2 467.3h0M314.5 395.8h0M171.2 544.5h0M77.2 628.4h0M77.6 629.8h0M121.6 562.7h0M134.1 534.8h0M293.5 394.2h0M226.0 457.9h0M180.4 484.2h0M280.4 390.8h0M147.8 538.3h0M203.3 464.4h0M118.3 547.1h0M83.9 583.2h0M85.7 643.4h0M49.6 641.6h0M64.4 609.0h0M271.4 421.2h0M306.5 415.0h0M99.3 606.6h0M208.3 498.5h0M301.0 413.9h0M43.8 655.7h0M127.0 554.5h0M203.0 476.5h0M157.2 562.1h0M159.9 495.2h0M188.7 473.9h0M170.4 494.1h0M252.8 469.3h0M152.6 507.3h0M175.7 566.6h0M89.4 594.5h0M120.0 599.8h0M86.3 621.7h0M179.6 490.2h0M57.2 635.4h0M270.4 436.7h0M142.7 577.8h0M292.9 380.5h0M200.1 528.4h0M89.9 622.9h0M211.1 479.6h0M148.7 499.7h0M293.6 416.7h0M222.4 532.3h0M233.0 459.9h0M137.8 531.8h0M280.3 391.9h0M73.2 619.0h0M186.8 519.2h0M47.0 641.6h0M163.0 511.0h0M160.6 538.5h0M210.2 539.7h0M116.0 595.9h0M214.7 474.0h0M106.5 574.7h0M259.7 434.2h0M253.5 440.8h0M122.7 581.3h0M214.9 551.8h0M137.3 537.4h0M296.9 392.4h0M188.9 529.6h0M162.6 511.6h0M87.0 583.6h0M303.3 400.6h0M195.6 527.2h0M269.9 400.4h0M94.4 624.8h0M174.2 545.5h0M313.0 413.1h0M122.8 540.7h0M158.6 523.9h0M73.7 619.7h0M116.9 595.7h0M322.2 403.3h0M307.1 387.1h0M302.3 390.9h0M311.8 382.9h0M308.5 406.5h0M47.1 652.6h0M205.4 481.5h0M271.5 421.2h0M53.8 656.0h0M194.2 543.4h0M120.9 580.3h0M318.9 439.8h0M82.2 634.6h0M320.3 384.3h0M285.4 437.1h0M206.0 515.3h0M158.0 486.0h0M211.9 530.6h0M267.7 464.6h0M271.0 417.1h0M116.8 551.8h0M167.0 522.8h0M315.4 386.2h0M153.7 603.1h0M110.5 626.3h0M110.0 588.8h0M204.3 520.0h0M110.4 617.9h0M154.3 541.7h0M75.7 619.6h0M302.1 387.2h0M212.1 456.3h0M121.1 546.7h0M113.4 552.2h0M78.5 634.9h0M218.7 508.7h0M283.5 402.1h0M283.2 397.5h0M276.9 488.4h0M54.1 622.6h0M195.0 496.3h0M263.0 431.1h0M197.7 491.8h0M205.7 463.2h0M186.3 509.5h0M267.3 411.3h0M211.6 465.7h0M283.0 403.0h0M290.8 389.2h0M278.1 388.3h0M104.4 576.1h0M142.4 550.4h0M79.3 591.5h0M219.0 489.2h0M266.7 447.0h0M217.4 493.0h0M180.6 506.9h0M63.6 633.9h0M190.7 550.6h0M165.2 560.9h0M185.4 528.9h0M83.0 590.6h0M98.1 610.1h0M305.6 380.7h0M72.9 606.4h0M191.8 475.6h0M176.6 570.0h0M265.8 456.1h0M197.7 512.4h0M221.9 466.4h0M71.9 628.9h0M298.6 397.9h0M260.2 457.2h0M56.7 627.2h0M287.8 403.2h0M170.4 514.7h0M309.2 406.3h0M118.7 587.2h0M49.2 653.3h0M153.7 530.3h0M181.5 531.4h0M87.0 625.5h0M269.0 421.4h0M117.5 548.5h0M215.0 467.9h0M266.6 416.6h0M103.0 584.2h0M258.7 461.0h0M228.4 485.8h0M189.5 502.8h0M238.7 459.7h0M210.2 499.7h0M268.3 419.5h0M293.7 394.8h0M222.3 446.9h0M210.0 518.8h0M257.3 421.9h0M315.4 396.0h0M212.5 490.4h0M269.7 405.7h0M300.2 411.7h0M228.2 456.3h0M213.6 511.4h0M68.2 641.1h0M140.8 579.2h0M75.5 634.1h0M271.1 412.4h0M167.6 501.4h0M212.1 480.3h0M154.4 537.4h0M148.7 511.7h0M76.5 611.8h0M242.4 436.3h0M232.9 443.1h0M269.4 449.6h0M173.1 598.1h0M193.7 494.1h0M76.4 612.4h0M160.1 509.4h0M188.2 563.9h0M101.0 587.5h0M221.1 500.9h0M144.6 551.6h0M300.6 437.2h0M222.8 474.2h0M152.9 515.0h0M292.0 403.8h0M150.6 496.0h0M140.8 534.5h0M156.1 515.0h0M117.3 546.3h0M200.3 482.7h0M82.1 629.4h0M75.2 606.3h0M221.5 453.9h0M134.7 558.6h0M176.7 511.2h0M249.0 457.4h0M176.8 537.9h0M108.3 579.6h0M265.2 434.3h0M221.4 446.0h0M95.0 563.3h0M88.4 618.4h0M286.4 426.1h0M81.7 625.3h0M81.0 600.3h0M114.7 584.2h0M288.3 391.3h0M74.0 639.3h0M266.6 454.5h0M105.4 596.3h0M45.3 654.2h0M100.5 599.3h0M244.3 433.4h0M188.0 572.9h0M92.1 581.3h0M269.1 409.9h0M202.2 493.2h0M144.5 599.1h0M78.2 642.7h0M264.6 437.4h0M292.9 408.5h0M221.9 499.5h0M91.5 597.7h0M66.4 613.4h0M55.7 653.7h0M204.6 534.0h0M195.3 495.5h0M249.3 481.0h0M246.6 427.0h0M139.6 557.3h0M88.2 635.5h0M175.0 543.4h0M156.8 502.1h0M194.8 579.4h0M228.3 511.0h0M126.2 546.8h0M128.0 585.5h0M227.1 512.8h0M79.7 635.7h0M231.1 501.5h0M112.5 574.6h0M98.6 594.7h0M242.4 473.0h0M208.6 510.9h0M284.6 423.4h0M259.9 425.0h0M209.1 463.9h0M287.2 432.5h0M296.1 412.9h0M180.6 524.1h0M49.8 657.3h0M310.7 400.4h0M243.1 484.2h0M291.3 396.5h0M85.2 610.8h0M205.8 504.8h0M133.7 528.1h0M243.8 482.4h0M103.5 606.1h0M130.8 570.4h0M290.1 398.5h0M163.7 529.6h0M188.1 494.9h0M150.8 581.7h0M115.9 620.2h0M312.6 397.0h0M66.4 619.9h0M193.9 480.7h0M222.3 496.8h0M86.4 593.2h0M129.9 546.5h0M207.6 515.2h0M234.6 478.3h0M209.7 466.8h0M302.5 401.5h0M282.4 395.0h0M242.3 484.1h0M160.3 514.9h0M287.3 415.9h0M127.7 577.0h0M72.5 625.2h0M319.1 385.9h0M132.9 569.8h0M92.8 623.7h0M186.9 498.0h0M43.8 658.0h0M111.3 588.0h0M295.7 389.5h0M142.6 505.1h0M157.0 562.5h0M153.4 518.4h0M314.5 442.5h0M137.6 551.6h0M163.1 518.5h0M201.9 481.7h0M86.5 606.5h0M219.3 460.6h0M202.3 530.9h0M289.8 382.9h0M305.0 393.5h0M157.3 542.8h0M268.4 477.6h0M228.3 464.9h0M185.6 587.4h0M170.0 601.4h0M266.3 429.8h0M81.2 623.5h0M318.8 384.9h0M175.9 547.5h0M117.0 583.2h0M71.6 617.3h0M47.7 650.9h0M68.3 623.2h0M136.8 555.6h0M89.7 583.1h0M189.3 507.9h0M220.6 450.1h0M149.4 523.4h0M204.5 520.6h0M181.9 492.7h0M293.0 416.8h0M285.5 421.9h0M74.7 632.7h0M100.3 556.3h0M315.9 407.8h0M319.7 382.2h0M165.3 596.3h0M219.6 569.0h0M110.9 599.2h0M140.2 565.2h0M111.9 554.4h0M195.2 525.1h0M167.2 516.0h0M151.1 515.1h0M90.5 579.2h0M98.8 578.9h0M138.0 544.2h0M313.2 403.2h0M235.4 443.6h0M307.2 403.4h0M163.7 512.7h0M136.9 541.3h0M152.2 583.0h0M64.8 652.9h0M228.9 504.9h0M57.5 652.0h0M173.3 523.4h0M214.8 527.3h0M115.0 601.9h0M292.3 383.8h0M243.2 434.7h0M201.5 481.8h0M66.9 627.1h0M282.4 429.3h0M305.1 430.4h0M206.6 511.3h0M188.4 490.2h0M128.6 612.6h0M153.4 568.7h0M181.1 521.2h0M281.3 435.3h0M88.1 632.7h0M162.5 504.0h0M303.7 393.2h0M293.6 423.7h0M166.0 500.7h0M285.1 407.8h0M136.6 591.0h0M316.3 386.3h0M108.0 549.3h0M276.1 388.8h0M134.5 537.6h0M110.3 626.6h0M146.2 530.0h0M140.9 575.9h0M200.8 478.8h0M46.4 657.6h0M152.6 517.7h0M245.7 478.6h0M77.7 584.6h0M109.0 578.9h0M275.2 443.3h0M301.4 416.2h0M317.8 383.6h0M127.5 588.5h0M116.7 531.5h0M145.7 553.0h0M70.6 615.7h0M258.7 451.4h0M189.2 486.6h0M165.5 508.0h0M132.4 536.9h0M106.8 561.1h0M83.3 624.3h0M203.1 540.9h0M72.1 609.9h0M169.8 512.5h0M250.1 473.9h0M182.9 499.1h0M54.2 650.2h0M310.4 392.5h0M258.2 432.0h0M105.8 609.2h0M93.6 595.9h0M89.6 577.4h0M106.0 593.2h0M258.7 500.1h0M312.1 383.5h0M211.8 495.8h0M61.5 639.1h0M223.2 487.5h0M151.3 515.0h0M225.1 553.4h0M188.6 534.3h0M225.3 444.8h0M93.0 586.7h0M152.9 554.4h0M152.9 547.9h0M229.7 443.8h0M142.1 499.0h0M79.4 631.5h0M153.8 530.8h0M178.1 545.7h0M321.5 383.8h0M320.9 382.1h0M162.0 561.8h0M135.0 564.8h0M220.1 495.5h0M242.9 469.2h0M48.9 654.3h0M46.8 658.2h0M94.0 605.0h0M143.1 571.1h0M309.5 386.3h0M121.4 582.5h0M203.5 477.2h0M200.4 498.0h0M190.1 491.4h0M69.2 638.0h0M61.0 618.7h0M68.2 618.5h0M179.1 489.1h0M68.8 623.2h0M309.4 407.0h0M303.2 410.7h0M315.6 403.6h0M253.5 447.6h0M231.6 481.7h0M118.1 590.4h0M43.4 658.3h0M93.7 582.5h0M263.3 407.2h0M66.6 613.5h0M74.9 623.5h0M173.5 499.8h0M64.2 650.7h0M235.0 443.1h0M250.0 434.6h0M182.1 481.4h0M161.6 528.8h0M301.2 384.7h0M73.8 651.2h0M305.3 384.2h0M159.7 537.5h0M219.3 448.4h0M120.2 548.8h0M111.1 587.5h0M242.7 447.6h0M44.2 659.0h0M122.0 620.8h0M272.8 428.5h0M109.8 567.3h0M288.1 401.0h0M254.0 420.8h0M106.2 544.4h0M285.2 472.4h0M154.1 513.9h0M183.9 532.6h0M93.4 595.9h0M246.6 427.1h0M199.5 465.0h0M151.0 597.2h0M312.6 408.1h0M85.4 625.0h0M218.2 455.0h0M252.6 471.5h0M247.2 461.4h0M77.4 586.6h0M234.2 491.9h0M308.9 406.7h0M150.7 555.5h0M157.2 511.6h0M268.9 420.6h0M211.3 483.0h0M72.9 593.6h0M227.8 510.8h0M113.7 549.9h0M147.4 540.6h0M66.5 640.1h0M204.7 526.8h0M300.4 419.5h0M289.2 420.6h0M238.2 495.6h0M185.2 493.1h0M182.6 584.9h0M286.8 433.5h0M305.8 387.8h0M124.6 539.4h0M51.1 645.5h0M305.9 396.9h0M135.4 590.9h0M146.2 535.1h0M46.3 654.9h0M108.8 565.7h0M139.6 522.2h0M165.1 496.1h0M316.9 388.0h0M144.9 508.7h0M63.4 620.6h0M215.8 519.5h0M147.4 502.2h0M65.2 649.4h0M124.9 560.8h0M242.5 481.4h0M129.4 590.3h0M85.4 600.0h0M264.2 411.9h0M247.0 476.4h0M185.5 535.7h0M237.4 450.8h0M95.7 573.0h0M155.1 532.3h0M110.2 581.4h0M214.4 482.2h0M162.8 576.5h0M187.6 524.0h0M204.0 496.3h0M294.0 386.9h0M292.2 422.0h0M116.7 598.4h0M210.8 485.5h0M134.7 581.1h0M113.4 608.8h0M56.2 648.7h0M112.6 595.6h0M246.8 426.7h0M103.7 590.2h0M115.5 551.0h0M257.9 421.8h0M197.9 513.1h0M177.0 494.3h0M121.5 548.7h0M265.7 410.6h0M64.7 642.9h0M262.7 460.3h0M78.9 620.1h0M111.0 610.4h0M97.2 567.5h0M83.9 596.2h0M96.1 601.9h0M274.9 432.0h0M79.7 604.5h0M44.5 652.5h0M184.2 513.1h0M99.7 564.9h0M122.5 528.4h0M183.1 563.2h0M203.4 573.0h0M91.0 596.6h0M258.2 418.4h0M122.4 555.4h0M88.0 589.2h0M55.4 657.6h0M45.0 658.3h0M174.8 529.4h0M253.8 430.5h0M319.4 383.9h0M144.4 558.0h0M78.4 597.4h0M273.5 412.8h0M216.2 552.9h0M170.7 543.5h0M249.5 456.5h0M234.3 444.4h0M135.9 563.6h0M179.0 480.5h0M198.3 479.9h0M64.9 635.5h0M67.7 617.9h0M259.4 446.5h0M293.7 417.8h0M193.0 550.3h0M61.4 634.6h0M63.2 619.5h0M317.9 383.0h0M141.2 554.9h0M68.0 630.7h0M270.5 451.9h0M134.9 591.9h0M63.0 629.3h0M174.1 514.0h0M319.8 399.1h0M291.0 401.3h0M85.8 626.5h0M70.1 622.6h0M119.9 558.3h0M181.5 549.0h0M217.2 518.8h0M223.1 470.3h0M219.2 501.3h0M63.2 635.4h0M197.6 488.1h0M109.0 612.5h0M321.1 399.7h0M147.9 530.9h0M188.9 488.5h0M294.6 407.8h0M226.7 453.3h0M62.6 645.5h0M243.0 443.7h0M185.3 501.6h0M172.2 495.3h0M258.4 462.1h0M183.6 524.3h0M193.4 500.2h0M251.3 441.8h0M281.6 394.5h0M82.0 623.9h0M65.0 622.8h0M259.1 433.8h0M55.8 652.3h0M224.4 474.5h0M83.1 614.0h0M182.3 551.2h0M299.4 404.7h0M57.0 652.5h0M245.0 457.8h0M211.0 494.7h0M193.2 477.6h0M288.8 432.3h0M232.2 458.1h0M243.4 473.3h0M64.3 639.4h0M292.2 387.2h0M135.4 512.0h0M100.2 603.3h0M173.6 494.8h0M144.7 586.5h0M151.5 517.1h0M287.1 417.3h0M203.6 520.5h0M121.7 585.3h0M238.5 465.4h0M248.0 476.5h0M269.8 418.4h0M148.9 550.9h0M312.9 407.2h0M253.4 423.7h0M73.9 604.0h0M118.5 601.9h0M178.3 499.5h0M219.7 564.2h0M228.9 547.0h0M75.6 644.0h0M196.3 533.8h0M257.1 432.4h0M165.0 495.5h0M206.4 480.7h0M292.5 398.9h0M114.4 589.0h0M203.1 507.5h0M278.5 399.0h0M251.5 420.3h0M300.4 404.0h0M156.4 561.2h0M274.2 397.4h0M217.2 464.0h0M231.5 449.0h0M77.3 616.5h0M179.2 489.9h0M254.4 463.3h0M263.0 462.7h0M176.7 548.0h0M104.9 565.7h0M203.6 470.3h0M114.5 575.6h0M125.9 596.5h0M118.7 572.0h0M257.0 423.6h0M158.7 492.8h0M160.2 536.5h0M253.6 419.2h0M84.1 616.6h0M78.5 640.7h0M268.7 477.2h0M132.0 568.7h0M278.2 408.4h0M134.8 583.3h0M142.0 582.1h0M286.7 427.2h0M51.7 647.1h0M310.4 404.5h0M266.9 416.4h0M198.8 525.7h0M192.0 490.1h0M117.4 565.7h0M203.3 526.1h0M71.5 598.3h0M52.1 655.4h0M144.0 522.6h0M155.0 509.5h0M316.4 379.8h0M136.0 542.5h0M143.6 542.5h0M228.0 460.8h0M314.1 411.4h0M224.5 473.5h0M94.9 589.8h0M304.0 401.3h0M230.6 446.2h0M158.1 508.8h0M102.0 631.5h0M224.2 508.3h0M96.2 604.5h0M108.2 570.6h0M71.3 632.3h0M111.2 624.2h0M149.6 567.3h0M162.6 489.8h0M222.9 459.2h0M82.4 630.4h0M319.3 391.0h0M257.6 501.6h0M272.3 426.4h0M88.6 621.8h0M176.1 492.4h0M241.6 435.9h0M269.1 431.4h0M256.0 486.1h0M59.9 626.3h0M111.8 565.9h0M262.3 456.3h0M49.1 655.3h0M149.6 570.6h0M220.4 456.2h0M81.2 634.7h0M128.2 579.0h0M56.8 630.4h0M241.9 477.0h0M258.5 431.7h0M66.1 622.2h0M108.5 546.9h0M138.2 535.6h0M114.7 597.2h0M195.1 489.9h0M187.0 500.6h0M66.7 633.7h0M120.9 585.6h0M256.7 419.5h0M199.3 566.4h0M200.5 465.0h0M210.7 521.8h0M193.8 474.5h0M84.8 591.5h0M248.4 433.4h0M45.8 642.4h0M88.8 599.1h0M227.3 483.0h0M253.2 415.8h0M308.2 386.2h0M297.5 396.6h0M290.6 426.6h0M159.9 499.1h0M243.0 482.8h0M304.1 432.9h0M184.9 588.8h0M320.6 385.0h0M204.9 489.2h0M94.6 623.8h0M53.4 654.0h0M318.0 412.1h0M60.7 627.8h0M168.3 510.5h0M244.4 464.4h0M202.7 478.7h0M128.8 531.6h0M102.7 633.4h0M172.3 484.0h0M267.1 405.4h0M100.5 628.0h0M176.0 537.8h0M57.4 629.0h0M102.8 613.6h0M186.5 501.9h0M167.9 493.3h0M49.5 654.7h0M219.2 559.7h0M79.6 648.4h0M113.7 563.1h0M175.5 511.3h0M266.2 456.6h0M274.1 422.1h0M198.8 475.0h0M228.1 454.0h0M152.2 538.2h0M232.6 540.3h0M92.6 561.5h0M162.3 556.6h0M242.6 454.7h0M178.1 510.1h0M283.3 405.2h0M285.0 397.5h0M235.9 479.0h0M319.9 426.0h0M270.3 434.9h0M114.3 561.9h0M216.9 475.7h0M274.6 427.8h0M176.6 592.4h0M242.5 440.6h0M211.4 530.1h0M92.3 619.2h0M204.2 460.8h0M175.2 560.1h0M141.1 534.6h0M299.0 477.1h0M62.1 636.8h0M252.7 469.7h0M157.5 506.4h0M274.7 435.6h0M270.9 412.6h0M88.9 606.1h0M159.3 557.6h0M286.0 433.2h0M139.5 588.4h0M164.5 544.5h0M106.4 565.3h0M152.3 569.9h0M218.5 476.2h0M204.1 464.6h0M181.6 535.5h0M297.6 451.2h0M184.0 507.2h0M313.5 396.3h0M49.0 652.5h0M183.5 535.8h0M234.8 456.3h0M123.6 572.3h0M150.1 572.6h0M187.9 535.1h0M80.9 628.6h0M252.1 427.3h0M73.7 639.5h0M177.7 526.8h0M291.0 391.9h0M146.1 541.7h0M166.9 528.4h0M153.2 548.1h0M112.5 605.4h0M278.9 404.4h0M182.9 506.4h0M78.9 589.8h0M125.1 616.9h0M156.2 526.6h0M53.2 643.7h0M92.0 598.4h0M161.8 560.0h0M229.9 511.6h0M151.4 502.2h0M96.2 590.6h0M66.8 630.4h0M56.7 653.4h0M202.6 488.4h0M231.5 474.7h0M254.6 445.6h0M134.4 532.6h0M214.8 501.0h0M266.8 414.3h0M69.5 645.7h0M208.0 490.1h0M120.6 557.5h0M213.9 505.4h0M125.2 619.1h0M108.4 560.9h0M268.1 437.7h0M154.9 581.9h0M181.0 506.0h0M81.8 625.1h0M166.2 553.2h0M128.5 614.5h0M219.0 540.8h0M231.6 452.0h0M161.9 566.3h0M194.4 536.5h0M282.3 401.3h0M184.5 500.5h0M199.8 537.2h0M156.5 517.1h0M53.3 641.8h0M99.5 616.6h0M211.7 494.6h0M153.2 513.1h0M256.8 430.8h0M127.4 537.3h0M239.8 556.4h0M318.6 382.4h0M57.9 643.7h0M70.8 624.8h0M110.1 623.7h0M190.1 473.4h0M155.0 570.7h0M72.3 616.4h0M91.8 561.2h0M243.8 426.3h0M76.1 636.0h0M108.2 578.8h0M275.1 404.7h0M223.7 535.3h0M214.5 458.6h0M116.2 559.6h0M301.3 474.0h0M203.4 505.6h0M61.7 650.1h0M255.0 428.9h0M281.9 453.8h0M165.7 513.4h0M199.1 545.3h0M238.8 470.7h0M274.8 401.6h0M164.0 567.3h0M90.2 594.5h0M222.4 496.1h0M181.7 500.5h0M323.0 385.4h0M76.1 616.7h0M289.8 422.9h0M64.9 634.1h0M86.9 607.5h0M258.3 462.4h0M129.5 616.7h0M147.0 537.8h0M80.7 620.6h0M143.6 522.2h0M244.7 445.4h0M157.5 578.4h0M56.4 649.5h0M146.3 522.1h0M135.8 517.9h0M315.1 384.1h0M243.5 473.3h0M247.7 459.3h0M149.2 527.7h0M91.7 555.2h0M249.4 423.6h0M284.6 417.9h0M282.9 478.2h0M75.9 619.4h0M213.7 510.3h0M285.1 423.0h0M295.8 398.4h0M320.9 429.4h0M84.1 615.2h0M215.7 528.1h0M130.1 596.3h0M182.5 492.2h0M217.3 537.1h0M218.3 542.3h0M142.2 544.2h0M278.4 417.5h0M263.8 501.3h0M69.0 646.5h0M96.0 579.4h0M232.3 502.3h0M207.9 486.7h0M196.0 474.7h0M122.1 524.4h0M67.3 622.7h0M258.4 432.5h0M60.9 638.1h0M242.6 446.4h0M211.7 483.9h0M252.5 464.5h0M258.8 451.8h0M96.3 578.1h0M237.6 444.4h0M172.7 493.5h0M94.3 551.6h0M136.1 555.9h0M179.8 502.0h0M156.3 589.7h0M243.3 504.4h0M121.1 533.1h0M62.4 634.0h0M82.9 623.5h0M298.5 385.5h0M137.9 524.1h0M134.0 557.0h0M168.7 518.1h0M204.7 552.9h0M147.0 536.9h0M90.9 605.4h0M115.4 605.7h0M276.9 407.8h0M252.5 434.4h0M72.1 646.1h0M269.7 415.7h0M143.8 519.0h0M112.4 585.5h0M66.1 607.6h0M108.0 544.6h0M104.5 560.5h0M303.9 390.7h0M277.8 405.1h0M94.4 590.7h0M131.5 599.3h0M72.4 649.6h0M322.4 391.8h0M176.9 511.6h0M311.1 442.7h0M274.0 408.8h0M79.1 621.6h0M103.7 614.7h0M102.1 589.6h0M302.7 397.1h0M174.1 507.5h0M89.1 620.6h0M115.0 601.7h0M214.4 473.2h0M294.9 409.8h0M173.5 544.6h0M57.5 635.3h0M252.9 430.2h0M274.2 418.7h0M84.7 623.8h0M171.7 486.5h0M255.4 444.5h0M247.2 450.6h0M257.4 493.6h0M252.2 469.9h0M303.1 465.0h0M287.3 475.5h0M231.9 441.9h0M106.0 582.7h0M77.5 618.0h0M280.6 432.5h0M168.1 502.9h0M187.2 501.6h0M160.4 551.2h0M117.0 538.0h0M67.5 629.3h0M297.6 414.9h0M170.7 558.6h0M131.5 560.9h0M107.4 559.3h0M45.0 654.1h0M289.4 461.7h0M141.4 533.5h0M150.4 576.0h0M138.3 595.2h0M98.3 559.8h0M299.7 382.4h0M202.3 518.5h0M220.6 460.1h0M53.1 649.2h0M47.9 652.9h0M254.5 467.3h0M189.4 488.2h0M236.3 435.8h0M58.4 635.0h0M221.6 464.8h0M140.1 587.4h0M80.0 636.7h0M273.2 427.1h0M116.6 607.1h0M69.2 615.9h0M182.4 518.0h0M218.0 515.0h0M132.9 547.3h0M222.6 536.4h0M113.9 558.8h0M171.0 557.5h0M142.5 611.7h0M101.9 546.0h0M286.7 402.4h0M127.2 579.5h0M131.9 548.3h0M150.9 583.9h0M171.1 555.7h0M199.6 527.2h0M255.4 417.0h0M77.0 631.2h0M195.6 474.5h0M44.1 656.5h0M65.5 657.7h0M117.3 536.5h0M320.0 427.8h0M190.6 568.4h0M88.6 614.2h0M145.5 533.9h0M44.9 657.5h0M61.1 653.7h0M250.4 472.5h0M298.3 452.8h0M76.1 628.8h0M127.8 557.4h0M144.1 568.4h0M255.3 444.8h0M319.7 380.0h0M214.6 486.8h0M224.4 493.2h0M118.3 576.5h0M233.8 484.1h0M207.3 472.3h0M51.5 658.1h0M234.1 472.2h0M138.4 588.2h0M112.8 577.0h0M79.1 600.3h0M256.4 434.4h0M67.8 635.9h0M189.1 507.7h0M233.1 452.1h0M106.6 542.4h0M68.6 606.2h0M309.0 391.2h0M87.1 607.6h0M101.5 598.1h0M191.3 506.0h0M279.6 406.9h0M240.9 446.7h0M116.8 530.4h0M105.6 581.4h0M152.6 567.4h0M309.9 382.7h0M246.7 422.0h0M280.9 397.1h0M65.3 642.5h0M200.4 500.1h0M89.0 612.7h0M211.9 495.5h0M210.3 531.2h0M163.8 526.4h0M221.8 472.3h0M148.9 529.9h0M262.0 410.1h0M225.4 481.7h0M91.8 611.8h0M174.0 547.5h0M293.4 392.6h0M184.3 494.5h0M117.8 621.7h0M68.0 627.9h0M67.2 606.5h0M184.4 574.5h0M267.1 424.5h0M264.9 522.2h0M84.6 623.4h0M108.2 563.6h0M269.9 448.4h0" stroke="#F4A65C" stroke-width="1.75" stroke-linecap="round" fill="none"/>
<path d="M335.5 366.4h0M327.1 369.7h0M333.1 365.0h0M336.2 373.5h0M338.1 376.3h0M338.0 366.0h0M330.5 369.5h0M333.5 374.6h0M337.1 367.5h0M337.8 369.4h0M326.7 374.3h0M334.8 365.0h0M337.6 375.4h0M334.8 369.4h0M338.2 366.8h0M323.4 377.8h0M329.4 370.2h0M337.4 372.9h0M329.8 365.0h0M336.6 376.4h0M328.9 372.5h0M327.2 378.5h0M330.0 379.4h0M331.2 367.3h0M325.6 370.7h0M333.2 372.1h0M323.6 369.2h0M332.0 375.9h0M336.9 365.7h0M323.7 369.5h0M332.8 368.5h0M324.7 365.2h0M330.1 376.0h0M324.1 366.8h0M332.2 366.3h0M337.2 368.6h0M331.3 372.8h0M334.3 369.1h0M325.1 377.6h0M337.2 367.4h0M327.0 367.3h0M326.4 375.1h0M328.6 369.4h0M335.7 365.0h0M336.6 370.4h0M328.7 370.4h0M326.8 377.7h0M325.7 372.1h0M332.3 373.2h0M326.4 378.2h0M326.6 378.0h0M334.3 365.7h0M332.3 375.1h0M336.7 370.0h0M335.7 377.1h0M331.1 372.9h0M334.7 368.6h0M335.9 377.3h0M333.6 373.3h0M335.0 371.2h0M333.5 374.3h0M336.0 366.9h0M327.2 376.7h0M323.7 373.3h0M324.5 374.7h0M328.2 366.3h0M331.8 370.4h0M335.5 375.1h0M334.6 371.4h0M327.7 371.5h0M325.4 373.7h0M337.8 378.4h0M327.6 375.1h0M330.4 374.1h0M326.2 370.2h0M333.9 368.4h0M329.3 372.9h0M337.4 373.5h0M336.4 374.1h0M329.7 371.7h0M329.8 373.3h0M327.7 372.9h0M330.6 372.8h0M330.9 371.6h0M337.8 376.8h0M331.5 373.6h0M333.3 372.9h0M336.2 375.4h0M331.7 373.1h0M335.8 375.8h0M330.6 370.5h0M326.5 378.6h0M333.6 365.0h0M334.5 365.7h0M325.4 376.4h0M330.7 376.7h0M336.5 375.9h0M328.3 376.6h0M337.1 378.9h0M325.9 370.6h0M335.2 371.6h0M324.0 378.7h0M333.8 371.5h0M328.0 368.2h0M335.9 370.7h0M325.2 375.2h0M335.3 372.8h0M337.9 375.7h0M328.9 368.4h0M330.8 369.3h0M328.4 370.0h0M330.9 366.1h0M324.8 368.2h0M324.6 376.0h0M336.1 365.5h0M331.2 370.5h0M336.1 373.1h0M333.4 368.8h0M325.3 379.4h0M336.5 365.2h0M334.2 370.0h0M326.1 370.3h0M334.4 371.8h0M325.2 371.5h0M328.7 378.5h0M328.5 373.1h0M325.0 366.3h0M332.4 374.4h0M336.4 369.5h0M334.6 368.9h0M337.5 377.5h0M334.0 367.9h0M328.2 375.3h0M326.0 378.8h0M337.0 367.7h0M333.0 367.5h0M333.9 371.4h0M329.1 373.0h0M325.9 369.9h0M328.5 378.3h0M335.2 371.4h0M331.0 366.1h0M327.1 373.1h0M336.3 378.7h0M336.8 369.2h0M330.3 367.5h0M324.9 370.6h0M325.6 370.5h0M337.0 372.5h0M328.8 365.7h0M325.1 375.0h0M336.1 375.1h0M328.8 370.2h0M337.5 365.6h0M329.4 369.5h0M337.6 370.0h0M330.1 373.5h0M332.4 369.9h0M325.4 368.2h0" stroke="#ABDDA4" stroke-width="2.4" stroke-linecap="square" fill="none"/>
<path d="M321.4 368.7h3.6m-1.8 -1.8v3.6M304.8 375.3h3.6m-1.8 -1.8v3.6M310.4 368.1h3.6m-1.8 -1.8v3.6M319.5 379.4h3.6m-1.8 -1.8v3.6M302.9 379.5h3.6m-1.8 -1.8v3.6M305.7 378.9h3.6m-1.8 -1.8v3.6M314.5 368.4h3.6m-1.8 -1.8v3.6M319.1 367.0h3.6m-1.8 -1.8v3.6M298.7 377.6h3.6m-1.8 -1.8v3.6M314.9 370.0h3.6m-1.8 -1.8v3.6M306.6 373.8h3.6m-1.8 -1.8v3.6M310.3 378.3h3.6m-1.8 -1.8v3.6M312.5 379.8h3.6m-1.8 -1.8v3.6M303.9 370.3h3.6m-1.8 -1.8v3.6M320.1 375.0h3.6m-1.8 -1.8v3.6M306.2 379.2h3.6m-1.8 -1.8v3.6M320.0 379.3h3.6m-1.8 -1.8v3.6M319.6 378.6h3.6m-1.8 -1.8v3.6M305.0 377.9h3.6m-1.8 -1.8v3.6M309.8 375.8h3.6m-1.8 -1.8v3.6M315.0 375.5h3.6m-1.8 -1.8v3.6M314.2 373.3h3.6m-1.8 -1.8v3.6M317.6 376.6h3.6m-1.8 -1.8v3.6M316.0 376.6h3.6m-1.8 -1.8v3.6M321.0 375.0h3.6m-1.8 -1.8v3.6M288.8 377.1h3.6m-1.8 -1.8v3.6M319.9 376.2h3.6m-1.8 -1.8v3.6M319.0 370.8h3.6m-1.8 -1.8v3.6M302.3 375.0h3.6m-1.8 -1.8v3.6M317.0 367.4h3.6m-1.8 -1.8v3.6M309.2 374.7h3.6m-1.8 -1.8v3.6M303.9 379.2h3.6m-1.8 -1.8v3.6M320.9 372.0h3.6m-1.8 -1.8v3.6M321.3 378.1h3.6m-1.8 -1.8v3.6M313.0 376.5h3.6m-1.8 -1.8v3.6M312.2 368.5h3.6m-1.8 -1.8v3.6M305.6 378.1h3.6m-1.8 -1.8v3.6M313.1 378.7h3.6m-1.8 -1.8v3.6M307.6 366.0h3.6m-1.8 -1.8v3.6M309.4 375.9h3.6m-1.8 -1.8v3.6M318.2 372.1h3.6m-1.8 -1.8v3.6M307.4 376.1h3.6m-1.8 -1.8v3.6M307.8 373.8h3.6m-1.8 -1.8v3.6M316.5 365.5h3.6m-1.8 -1.8v3.6M320.8 377.5h3.6m-1.8 -1.8v3.6M311.6 377.1h3.6m-1.8 -1.8v3.6M320.3 375.7h3.6m-1.8 -1.8v3.6M306.0 374.1h3.6m-1.8 -1.8v3.6M308.5 372.5h3.6m-1.8 -1.8v3.6M318.3 377.2h3.6m-1.8 -1.8v3.6M321.0 378.7h3.6m-1.8 -1.8v3.6M316.9 370.6h3.6m-1.8 -1.8v3.6M313.0 377.9h3.6m-1.8 -1.8v3.6M300.8 377.2h3.6m-1.8 -1.8v3.6M303.9 374.8h3.6m-1.8 -1.8v3.6M311.4 379.0h3.6m-1.8 -1.8v3.6M320.1 366.5h3.6m-1.8 -1.8v3.6M309.6 377.9h3.6m-1.8 -1.8v3.6M319.9 376.7h3.6m-1.8 -1.8v3.6M303.6 377.9h3.6m-1.8 -1.8v3.6M314.0 369.5h3.6m-1.8 -1.8v3.6M314.9 370.9h3.6m-1.8 -1.8v3.6M312.4 372.7h3.6m-1.8 -1.8v3.6M321.6 372.5h3.6m-1.8 -1.8v3.6M313.9 376.9h3.6m-1.8 -1.8v3.6M312.5 377.5h3.6m-1.8 -1.8v3.6M318.6 374.6h3.6m-1.8 -1.8v3.6M320.7 372.4h3.6m-1.8 -1.8v3.6M302.9 377.0h3.6m-1.8 -1.8v3.6M301.8 379.6h3.6m-1.8 -1.8v3.6M304.8 378.0h3.6m-1.8 -1.8v3.6M318.5 377.4h3.6m-1.8 -1.8v3.6M307.3 366.7h3.6m-1.8 -1.8v3.6M316.7 371.4h3.6m-1.8 -1.8v3.6M308.7 376.0h3.6m-1.8 -1.8v3.6M316.0 377.7h3.6m-1.8 -1.8v3.6M291.4 379.4h3.6m-1.8 -1.8v3.6M317.3 369.0h3.6m-1.8 -1.8v3.6M306.5 377.8h3.6m-1.8 -1.8v3.6M311.6 367.2h3.6m-1.8 -1.8v3.6M311.5 367.0h3.6m-1.8 -1.8v3.6M315.2 379.0h3.6m-1.8 -1.8v3.6M307.3 372.2h3.6m-1.8 -1.8v3.6M310.2 376.8h3.6m-1.8 -1.8v3.6M316.4 376.5h3.6m-1.8 -1.8v3.6M307.1 376.7h3.6m-1.8 -1.8v3.6M312.1 373.3h3.6m-1.8 -1.8v3.6M297.2 375.5h3.6m-1.8 -1.8v3.6M321.4 376.0h3.6m-1.8 -1.8v3.6M312.1 370.4h3.6m-1.8 -1.8v3.6M311.8 374.7h3.6m-1.8 -1.8v3.6M302.1 376.1h3.6m-1.8 -1.8v3.6M286.3 379.2h3.6m-1.8 -1.8v3.6M295.8 376.4h3.6m-1.8 -1.8v3.6M308.4 369.0h3.6m-1.8 -1.8v3.6M320.9 377.7h3.6m-1.8 -1.8v3.6M317.4 376.5h3.6m-1.8 -1.8v3.6M314.3 373.5h3.6m-1.8 -1.8v3.6M295.1 378.5h3.6m-1.8 -1.8v3.6M316.2 375.0h3.6m-1.8 -1.8v3.6M310.7 372.2h3.6m-1.8 -1.8v3.6M320.2 377.6h3.6m-1.8 -1.8v3.6M299.8 379.6h3.6m-1.8 -1.8v3.6M318.4 377.4h3.6m-1.8 -1.8v3.6M318.7 373.1h3.6m-1.8 -1.8v3.6M318.0 376.8h3.6m-1.8 -1.8v3.6M312.4 371.3h3.6m-1.8 -1.8v3.6M303.2 372.1h3.6m-1.8 -1.8v3.6M315.5 377.6h3.6m-1.8 -1.8v3.6M309.6 378.0h3.6m-1.8 -1.8v3.6M316.3 365.9h3.6m-1.8 -1.8v3.6M315.2 374.1h3.6m-1.8 -1.8v3.6M320.6 366.2h3.6m-1.8 -1.8v3.6M321.1 378.4h3.6m-1.8 -1.8v3.6M304.4 373.5h3.6m-1.8 -1.8v3.6M315.5 379.5h3.6m-1.8 -1.8v3.6M316.7 378.3h3.6m-1.8 -1.8v3.6M316.5 374.5h3.6m-1.8 -1.8v3.6M298.8 377.5h3.6m-1.8 -1.8v3.6M317.3 366.8h3.6m-1.8 -1.8v3.6M310.7 368.2h3.6m-1.8 -1.8v3.6M318.7 377.9h3.6m-1.8 -1.8v3.6M302.5 374.8h3.6m-1.8 -1.8v3.6" stroke="#D7191C" stroke-width="0.6" stroke-opacity="0.9" fill="none"/>
<path d="M326.8 396.4h3m-1.5 -1.5v3m-1.1 -0.4l2.2 -2.2m-2.2 0l2.2 2.2M334.3 392.7h3m-1.5 -1.5v3m-1.1 -0.4l2.2 -2.2m-2.2 0l2.2 2.2M334.8 382.3h3m-1.5 -1.5v3m-1.1 -0.4l2.2 -2.2m-2.2 0l2.2 2.2M326.6 401.3h3m-1.5 -1.5v3m-1.1 -0.4l2.2 -2.2m-2.2 0l2.2 2.2M322.9 390.5h3m-1.5 -1.5v3m-1.1 -0.4l2.2 -2.2m-2.2 0l2.2 2.2M326.4 392.2h3m-1.5 -1.5v3m-1.1 -0.4l2.2 -2.2m-2.2 0l2.2 2.2M331.1 408.4h3m-1.5 -1.5v3m-1.1 -0.4l2.2 -2.2m-2.2 0l2.2 2.2M328.5 404.9h3m-1.5 -1.5v3m-1.1 -0.4l2.2 -2.2m-2.2 0l2.2 2.2M325.8 385.9h3m-1.5 -1.5v3m-1.1 -0.4l2.2 -2.2m-2.2 0l2.2 2.2M333.0 383.3h3m-1.5 -1.5v3m-1.1 -0.4l2.2 -2.2m-2.2 0l2.2 2.2M323.3 402.9h3m-1.5 -1.5v3m-1.1 -0.4l2.2 -2.2m-2.2 0l2.2 2.2M331.0 385.9h3m-1.5 -1.5v3m-1.1 -0.4l2.2 -2.2m-2.2 0l2.2 2.2M333.4 383.5h3m-1.5 -1.5v3m-1.1 -0.4l2.2 -2.2m-2.2 0l2.2 2.2M330.5 382.8h3m-1.5 -1.5v3m-1.1 -0.4l2.2 -2.2m-2.2 0l2.2 2.2M329.6 398.0h3m-1.5 -1.5v3m-1.1 -0.4l2.2 -2.2m-2.2 0l2.2 2.2M323.4 392.9h3m-1.5 -1.5v3m-1.1 -0.4l2.2 -2.2m-2.2 0l2.2 2.2M322.9 380.9h3m-1.5 -1.5v3m-1.1 -0.4l2.2 -2.2m-2.2 0l2.2 2.2M326.6 387.1h3m-1.5 -1.5v3m-1.1 -0.4l2.2 -2.2m-2.2 0l2.2 2.2M332.7 382.7h3m-1.5 -1.5v3m-1.1 -0.4l2.2 -2.2m-2.2 0l2.2 2.2M333.7 386.6h3m-1.5 -1.5v3m-1.1 -0.4l2.2 -2.2m-2.2 0l2.2 2.2M332.3 381.1h3m-1.5 -1.5v3m-1.1 -0.4l2.2 -2.2m-2.2 0l2.2 2.2M322.7 383.1h3m-1.5 -1.5v3m-1.1 -0.4l2.2 -2.2m-2.2 0l2.2 2.2M325.2 392.7h3m-1.5 -1.5v3m-1.1 -0.4l2.2 -2.2m-2.2 0l2.2 2.2M323.5 380.5h3m-1.5 -1.5v3m-1.1 -0.4l2.2 -2.2m-2.2 0l2.2 2.2M331.6 385.4h3m-1.5 -1.5v3m-1.1 -0.4l2.2 -2.2m-2.2 0l2.2 2.2M327.5 405.6h3m-1.5 -1.5v3m-1.1 -0.4l2.2 -2.2m-2.2 0l2.2 2.2M329.9 392.9h3m-1.5 -1.5v3m-1.1 -0.4l2.2 -2.2m-2.2 0l2.2 2.2M328.7 390.4h3m-1.5 -1.5v3m-1.1 -0.4l2.2 -2.2m-2.2 0l2.2 2.2M335.2 386.3h3m-1.5 -1.5v3m-1.1 -0.4l2.2 -2.2m-2.2 0l2.2 2.2M322.3 414.6h3m-1.5 -1.5v3m-1.1 -0.4l2.2 -2.2m-2.2 0l2.2 2.2M330.1 389.5h3m-1.5 -1.5v3m-1.1 -0.4l2.2 -2.2m-2.2 0l2.2 2.2M327.1 389.6h3m-1.5 -1.5v3m-1.1 -0.4l2.2 -2.2m-2.2 0l2.2 2.2M330.3 390.2h3m-1.5 -1.5v3m-1.1 -0.4l2.2 -2.2m-2.2 0l2.2 2.2M323.1 387.1h3m-1.5 -1.5v3m-1.1 -0.4l2.2 -2.2m-2.2 0l2.2 2.2M327.8 399.8h3m-1.5 -1.5v3m-1.1 -0.4l2.2 -2.2m-2.2 0l2.2 2.2M326.3 401.0h3m-1.5 -1.5v3m-1.1 -0.4l2.2 -2.2m-2.2 0l2.2 2.2M325.1 397.4h3m-1.5 -1.5v3m-1.1 -0.4l2.2 -2.2m-2.2 0l2.2 2.2M326.9 391.8h3m-1.5 -1.5v3m-1.1 -0.4l2.2 -2.2m-2.2 0l2.2 2.2M332.2 384.4h3m-1.5 -1.5v3m-1.1 -0.4l2.2 -2.2m-2.2 0l2.2 2.2M325.5 391.7h3m-1.5 -1.5v3m-1.1 -0.4l2.2 -2.2m-2.2 0l2.2 2.2M334.0 381.2h3m-1.5 -1.5v3m-1.1 -0.4l2.2 -2.2m-2.2 0l2.2 2.2M327.6 392.9h3m-1.5 -1.5v3m-1.1 -0.4l2.2 -2.2m-2.2 0l2.2 2.2M332.9 383.4h3m-1.5 -1.5v3m-1.1 -0.4l2.2 -2.2m-2.2 0l2.2 2.2M326.5 396.7h3m-1.5 -1.5v3m-1.1 -0.4l2.2 -2.2m-2.2 0l2.2 2.2M324.3 396.8h3m-1.5 -1.5v3m-1.1 -0.4l2.2 -2.2m-2.2 0l2.2 2.2M329.2 409.1h3m-1.5 -1.5v3m-1.1 -0.4l2.2 -2.2m-2.2 0l2.2 2.2M323.2 427.1h3m-1.5 -1.5v3m-1.1 -0.4l2.2 -2.2m-2.2 0l2.2 2.2M331.3 383.4h3m-1.5 -1.5v3m-1.1 -0.4l2.2 -2.2m-2.2 0l2.2 2.2M334.1 386.1h3m-1.5 -1.5v3m-1.1 -0.4l2.2 -2.2m-2.2 0l2.2 2.2M322.0 386.9h3m-1.5 -1.5v3m-1.1 -0.4l2.2 -2.2m-2.2 0l2.2 2.2M333.8 381.6h3m-1.5 -1.5v3m-1.1 -0.4l2.2 -2.2m-2.2 0l2.2 2.2M324.2 405.3h3m-1.5 -1.5v3m-1.1 -0.4l2.2 -2.2m-2.2 0l2.2 2.2M324.8 407.6h3m-1.5 -1.5v3m-1.1 -0.4l2.2 -2.2m-2.2 0l2.2 2.2M325.2 382.9h3m-1.5 -1.5v3m-1.1 -0.4l2.2 -2.2m-2.2 0l2.2 2.2M329.5 388.4h3m-1.5 -1.5v3m-1.1 -0.4l2.2 -2.2m-2.2 0l2.2 2.2M333.4 382.7h3m-1.5 -1.5v3m-1.1 -0.4l2.2 -2.2m-2.2 0l2.2 2.2M327.7 383.8h3m-1.5 -1.5v3m-1.1 -0.4l2.2 -2.2m-2.2 0l2.2 2.2M324.5 380.1h3m-1.5 -1.5v3m-1.1 -0.4l2.2 -2.2m-2.2 0l2.2 2.2M328.5 389.0h3m-1.5 -1.5v3m-1.1 -0.4l2.2 -2.2m-2.2 0l2.2 2.2M325.4 385.8h3m-1.5 -1.5v3m-1.1 -0.4l2.2 -2.2m-2.2 0l2.2 2.2M322.8 383.5h3m-1.5 -1.5v3m-1.1 -0.4l2.2 -2.2m-2.2 0l2.2 2.2M335.3 380.2h3m-1.5 -1.5v3m-1.1 -0.4l2.2 -2.2m-2.2 0l2.2 2.2M325.9 396.6h3m-1.5 -1.5v3m-1.1 -0.4l2.2 -2.2m-2.2 0l2.2 2.2M322.6 391.5h3m-1.5 -1.5v3m-1.1 -0.4l2.2 -2.2m-2.2 0l2.2 2.2M330.6 383.7h3m-1.5 -1.5v3m-1.1 -0.4l2.2 -2.2m-2.2 0l2.2 2.2M332.5 398.1h3m-1.5 -1.5v3m-1.1 -0.4l2.2 -2.2m-2.2 0l2.2 2.2M328.2 382.9h3m-1.5 -1.5v3m-1.1 -0.4l2.2 -2.2m-2.2 0l2.2 2.2M322.4 396.3h3m-1.5 -1.5v3m-1.1 -0.4l2.2 -2.2m-2.2 0l2.2 2.2M331.5 392.6h3m-1.5 -1.5v3m-1.1 -0.4l2.2 -2.2m-2.2 0l2.2 2.2M322.6 396.9h3m-1.5 -1.5v3m-1.1 -0.4l2.2 -2.2m-2.2 0l2.2 2.2M328.4 380.0h3m-1.5 -1.5v3m-1.1 -0.4l2.2 -2.2m-2.2 0l2.2 2.2M336.2 379.8h3m-1.5 -1.5v3m-1.1 -0.4l2.2 -2.2m-2.2 0l2.2 2.2M335.7 384.3h3m-1.5 -1.5v3m-1.1 -0.4l2.2 -2.2m-2.2 0l2.2 2.2M331.2 387.8h3m-1.5 -1.5v3m-1.1 -0.4l2.2 -2.2m-2.2 0l2.2 2.2M333.9 392.2h3m-1.5 -1.5v3m-1.1 -0.4l2.2 -2.2m-2.2 0l2.2 2.2M335.4 386.4h3m-1.5 -1.5v3m-1.1 -0.4l2.2 -2.2m-2.2 0l2.2 2.2M330.4 399.7h3m-1.5 -1.5v3m-1.1 -0.4l2.2 -2.2m-2.2 0l2.2 2.2M330.3 391.6h3m-1.5 -1.5v3m-1.1 -0.4l2.2 -2.2m-2.2 0l2.2 2.2M331.3 387.8h3m-1.5 -1.5v3m-1.1 -0.4l2.2 -2.2m-2.2 0l2.2 2.2M327.5 393.3h3m-1.5 -1.5v3m-1.1 -0.4l2.2 -2.2m-2.2 0l2.2 2.2M328.2 390.4h3m-1.5 -1.5v3m-1.1 -0.4l2.2 -2.2m-2.2 0l2.2 2.2M324.3 398.4h3m-1.5 -1.5v3m-1.1 -0.4l2.2 -2.2m-2.2 0l2.2 2.2M336.1 386.1h3m-1.5 -1.5v3m-1.1 -0.4l2.2 -2.2m-2.2 0l2.2 2.2M327.5 385.9h3m-1.5 -1.5v3m-1.1 -0.4l2.2 -2.2m-2.2 0l2.2 2.2M325.4 390.6h3m-1.5 -1.5v3m-1.1 -0.4l2.2 -2.2m-2.2 0l2.2 2.2M333.5 385.9h3m-1.5 -1.5v3m-1.1 -0.4l2.2 -2.2m-2.2 0l2.2 2.2M324.7 397.4h3m-1.5 -1.5v3m-1.1 -0.4l2.2 -2.2m-2.2 0l2.2 2.2M330.1 384.1h3m-1.5 -1.5v3m-1.1 -0.4l2.2 -2.2m-2.2 0l2.2 2.2M326.1 380.3h3m-1.5 -1.5v3m-1.1 -0.4l2.2 -2.2m-2.2 0l2.2 2.2M324.0 416.2h3m-1.5 -1.5v3m-1.1 -0.4l2.2 -2.2m-2.2 0l2.2 2.2M322.3 391.5h3m-1.5 -1.5v3m-1.1 -0.4l2.2 -2.2m-2.2 0l2.2 2.2M331.7 380.0h3m-1.5 -1.5v3m-1.1 -0.4l2.2 -2.2m-2.2 0l2.2 2.2M328.0 393.8h3m-1.5 -1.5v3m-1.1 -0.4l2.2 -2.2m-2.2 0l2.2 2.2M330.7 391.9h3m-1.5 -1.5v3m-1.1 -0.4l2.2 -2.2m-2.2 0l2.2 2.2M331.4 389.5h3m-1.5 -1.5v3m-1.1 -0.4l2.2 -2.2m-2.2 0l2.2 2.2M336.4 384.3h3m-1.5 -1.5v3m-1.1 -0.4l2.2 -2.2m-2.2 0l2.2 2.2M329.7 392.1h3m-1.5 -1.5v3m-1.1 -0.4l2.2 -2.2m-2.2 0l2.2 2.2M325.4 393.7h3m-1.5 -1.5v3m-1.1 -0.4l2.2 -2.2m-2.2 0l2.2 2.2M328.9 401.5h3m-1.5 -1.5v3m-1.1 -0.4l2.2 -2.2m-2.2 0l2.2 2.2M329.3 388.9h3m-1.5 -1.5v3m-1.1 -0.4l2.2 -2.2m-2.2 0l2.2 2.2M323.0 381.7h3m-1.5 -1.5v3m-1.1 -0.4l2.2 -2.2m-2.2 0l2.2 2.2M331.8 398.0h3m-1.5 -1.5v3m-1.1 -0.4l2.2 -2.2m-2.2 0l2.2 2.2M326.0 396.2h3m-1.5 -1.5v3m-1.1 -0.4l2.2 -2.2m-2.2 0l2.2 2.2M330.0 398.0h3m-1.5 -1.5v3m-1.1 -0.4l2.2 -2.2m-2.2 0l2.2 2.2M328.9 392.6h3m-1.5 -1.5v3m-1.1 -0.4l2.2 -2.2m-2.2 0l2.2 2.2M322.2 420.2h3m-1.5 -1.5v3m-1.1 -0.4l2.2 -2.2m-2.2 0l2.2 2.2M335.8 389.2h3m-1.5 -1.5v3m-1.1 -0.4l2.2 -2.2m-2.2 0l2.2 2.2M331.1 402.2h3m-1.5 -1.5v3m-1.1 -0.4l2.2 -2.2m-2.2 0l2.2 2.2M322.0 383.1h3m-1.5 -1.5v3m-1.1 -0.4l2.2 -2.2m-2.2 0l2.2 2.2M332.2 391.5h3m-1.5 -1.5v3m-1.1 -0.4l2.2 -2.2m-2.2 0l2.2 2.2M323.8 386.2h3m-1.5 -1.5v3m-1.1 -0.4l2.2 -2.2m-2.2 0l2.2 2.2M330.7 401.2h3m-1.5 -1.5v3m-1.1 -0.4l2.2 -2.2m-2.2 0l2.2 2.2M328.1 383.2h3m-1.5 -1.5v3m-1.1 -0.4l2.2 -2.2m-2.2 0l2.2 2.2M326.4 411.8h3m-1.5 -1.5v3m-1.1 -0.4l2.2 -2.2m-2.2 0l2.2 2.2M328.1 380.7h3m-1.5 -1.5v3m-1.1 -0.4l2.2 -2.2m-2.2 0l2.2 2.2M324.7 396.5h3m-1.5 -1.5v3m-1.1 -0.4l2.2 -2.2m-2.2 0l2.2 2.2M329.9 384.1h3m-1.5 -1.5v3m-1.1 -0.4l2.2 -2.2m-2.2 0l2.2 2.2M334.1 382.9h3m-1.5 -1.5v3m-1.1 -0.4l2.2 -2.2m-2.2 0l2.2 2.2M329.0 402.3h3m-1.5 -1.5v3m-1.1 -0.4l2.2 -2.2m-2.2 0l2.2 2.2M331.9 380.3h3m-1.5 -1.5v3m-1.1 -0.4l2.2 -2.2m-2.2 0l2.2 2.2M332.6 380.9h3m-1.5 -1.5v3m-1.1 -0.4l2.2 -2.2m-2.2 0l2.2 2.2M332.5 390.3h3m-1.5 -1.5v3m-1.1 -0.4l2.2 -2.2m-2.2 0l2.2 2.2M324.5 384.3h3m-1.5 -1.5v3m-1.1 -0.4l2.2 -2.2m-2.2 0l2.2 2.2M325.9 381.7h3m-1.5 -1.5v3m-1.1 -0.4l2.2 -2.2m-2.2 0l2.2 2.2M322.5 384.0h3m-1.5 -1.5v3m-1.1 -0.4l2.2 -2.2m-2.2 0l2.2 2.2M330.2 387.2h3m-1.5 -1.5v3m-1.1 -0.4l2.2 -2.2m-2.2 0l2.2 2.2M328.7 390.4h3m-1.5 -1.5v3m-1.1 -0.4l2.2 -2.2m-2.2 0l2.2 2.2M331.2 387.8h3m-1.5 -1.5v3m-1.1 -0.4l2.2 -2.2m-2.2 0l2.2 2.2M326.3 382.9h3m-1.5 -1.5v3m-1.1 -0.4l2.2 -2.2m-2.2 0l2.2 2.2M322.8 389.3h3m-1.5 -1.5v3m-1.1 -0.4l2.2 -2.2m-2.2 0l2.2 2.2M325.0 380.0h3m-1.5 -1.5v3m-1.1 -0.4l2.2 -2.2m-2.2 0l2.2 2.2M327.9 385.7h3m-1.5 -1.5v3m-1.1 -0.4l2.2 -2.2m-2.2 0l2.2 2.2M331.5 392.8h3m-1.5 -1.5v3m-1.1 -0.4l2.2 -2.2m-2.2 0l2.2 2.2M330.5 387.1h3m-1.5 -1.5v3m-1.1 -0.4l2.2 -2.2m-2.2 0l2.2 2.2M333.3 382.1h3m-1.5 -1.5v3m-1.1 -0.4l2.2 -2.2m-2.2 0l2.2 2.2M326.0 390.4h3m-1.5 -1.5v3m-1.1 -0.4l2.2 -2.2m-2.2 0l2.2 2.2M332.9 389.9h3m-1.5 -1.5v3m-1.1 -0.4l2.2 -2.2m-2.2 0l2.2 2.2M333.6 384.2h3m-1.5 -1.5v3m-1.1 -0.4l2.2 -2.2m-2.2 0l2.2 2.2M322.8 389.1h3m-1.5 -1.5v3m-1.1 -0.4l2.2 -2.2m-2.2 0l2.2 2.2M325.9 387.5h3m-1.5 -1.5v3m-1.1 -0.4l2.2 -2.2m-2.2 0l2.2 2.2M336.5 380.5h3m-1.5 -1.5v3m-1.1 -0.4l2.2 -2.2m-2.2 0l2.2 2.2" stroke="#2B83BA" stroke-width="0.7" fill="none"/>
<line x1="31.5" y1="379.8" x2="349.4" y2="379.8" stroke="#555" stroke-width="1" stroke-dasharray="1.2 1.66"/>
<line x1="323.4" y1="353.4" x2="323.4" y2="671.2" stroke="#555" stroke-width="1" stroke-dasharray="1.2 1.66"/>
<rect x="31.5" y="353.4" width="317.9" height="317.8" fill="none" stroke="#8a8a8a" stroke-width="1.1"/>
<line x1="28.3" y1="659.9" x2="31.5" y2="659.9" stroke="#8a8a8a" stroke-width="1"/>
<text x="24.8" y="663.8" text-anchor="end" class="ax">0.0</text>
<line x1="43.3" y1="671.2" x2="43.3" y2="674.4" stroke="#8a8a8a" stroke-width="1"/>
<text x="43.3" y="684.2" text-anchor="middle" class="ax">0.0</text>
<line x1="28.3" y1="600.9" x2="31.5" y2="600.9" stroke="#8a8a8a" stroke-width="1"/>
<text x="24.8" y="604.8" text-anchor="end" class="ax">0.2</text>
<line x1="102.3" y1="671.2" x2="102.3" y2="674.4" stroke="#8a8a8a" stroke-width="1"/>
<text x="102.3" y="684.2" text-anchor="middle" class="ax">0.2</text>
<line x1="28.3" y1="541.9" x2="31.5" y2="541.9" stroke="#8a8a8a" stroke-width="1"/>
<text x="24.8" y="545.8" text-anchor="end" class="ax">0.4</text>
<line x1="161.3" y1="671.2" x2="161.3" y2="674.4" stroke="#8a8a8a" stroke-width="1"/>
<text x="161.3" y="684.2" text-anchor="middle" class="ax">0.4</text>
<line x1="28.3" y1="483.0" x2="31.5" y2="483.0" stroke="#8a8a8a" stroke-width="1"/>
<text x="24.8" y="486.9" text-anchor="end" class="ax">0.6</text>
<line x1="220.2" y1="671.2" x2="220.2" y2="674.4" stroke="#8a8a8a" stroke-width="1"/>
<text x="220.2" y="684.2" text-anchor="middle" class="ax">0.6</text>
<line x1="28.3" y1="424.0" x2="31.5" y2="424.0" stroke="#8a8a8a" stroke-width="1"/>
<text x="24.8" y="427.9" text-anchor="end" class="ax">0.8</text>
<line x1="279.2" y1="671.2" x2="279.2" y2="674.4" stroke="#8a8a8a" stroke-width="1"/>
<text x="279.2" y="684.2" text-anchor="middle" class="ax">0.8</text>
<line x1="28.3" y1="365.0" x2="31.5" y2="365.0" stroke="#8a8a8a" stroke-width="1"/>
<text x="24.8" y="368.9" text-anchor="end" class="ax">1.0</text>
<line x1="338.2" y1="671.2" x2="338.2" y2="674.4" stroke="#8a8a8a" stroke-width="1"/>
<text x="338.2" y="684.2" text-anchor="middle" class="ax">1.0</text>
<text x="190.4" y="697.2" text-anchor="middle" class="ax">Proxy Valuation</text>
<text transform="translate(8.1 512.3) rotate(-90)" text-anchor="middle" class="ax">Simulation</text>
<rect x="34.5" y="356.7" width="179.9" height="34.6" fill="#fff" stroke="#8a8a8a" stroke-width="1"/>
<text x="124.5" y="366.0" text-anchor="middle" class="lg" style="font-size:6.85px">Misclassification</text>
<text x="46.9" y="378.0" class="lg">Worst 5%: by inner simulation, not by proxy valuation</text>
<text x="46.9" y="386.9" class="lg">Worst 5%: by proxy valuation, not by inner simulation</text>
<path d="M38.7 374.8h4M40.7 372.8v4" stroke="#e98a8c" stroke-width="0.8" fill="none"/>
<path d="M38.7 383.7h4M40.7 381.7v4M39.2 382.2l3 3M39.2 385.2l3 -3" stroke="#6aaec2" stroke-width="0.75" fill="none"/>
</svg></body></html>
